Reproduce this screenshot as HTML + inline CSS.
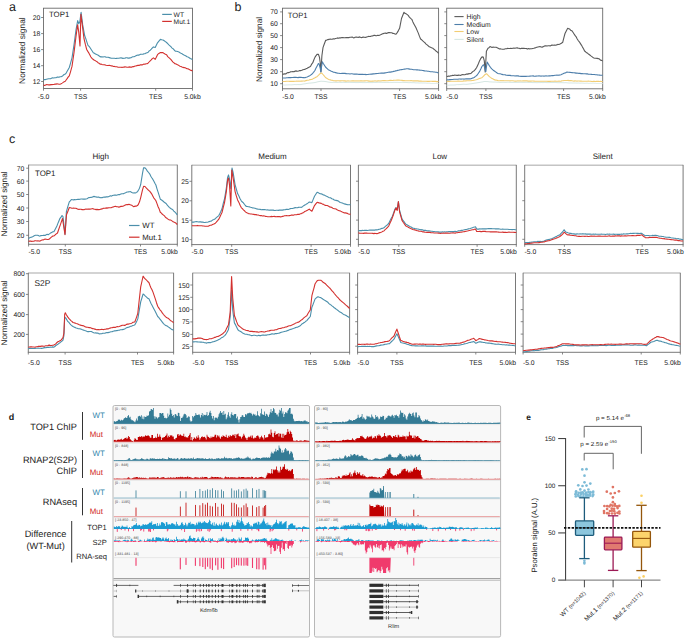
<!DOCTYPE html>
<html><head><meta charset="utf-8"><style>
html,body{margin:0;padding:0;background:#fff;}
svg{display:block;}
text{font-family:"Liberation Sans", sans-serif;text-rendering:geometricPrecision;}
</style></head><body>
<svg width="685" height="638" viewBox="0 0 685 638">
<rect x="0" y="0" width="685" height="638" fill="#fff"/>
<text x="9.0" y="10.8" font-size="12.5" text-anchor="start" fill="#222" font-weight="normal" >a</text>
<rect x="43.50" y="8.20" width="149.00" height="80.30" fill="none" stroke="#6a6a6a" stroke-width="0.9" />
<line x1="43.50" y1="88.50" x2="43.50" y2="90.70" stroke="#6a6a6a" stroke-width="0.8" />
<line x1="80.60" y1="88.50" x2="80.60" y2="90.70" stroke="#6a6a6a" stroke-width="0.8" />
<line x1="155.70" y1="88.50" x2="155.70" y2="90.70" stroke="#6a6a6a" stroke-width="0.8" />
<line x1="192.50" y1="88.50" x2="192.50" y2="90.70" stroke="#6a6a6a" stroke-width="0.8" />
<line x1="41.10" y1="17.50" x2="43.50" y2="17.50" stroke="#6a6a6a" stroke-width="0.8" />
<text x="40.3" y="20.0" font-size="6.8" text-anchor="end" fill="#222" font-weight="normal" >20</text>
<line x1="41.10" y1="33.60" x2="43.50" y2="33.60" stroke="#6a6a6a" stroke-width="0.8" />
<text x="40.3" y="36.1" font-size="6.8" text-anchor="end" fill="#222" font-weight="normal" >18</text>
<line x1="41.10" y1="49.60" x2="43.50" y2="49.60" stroke="#6a6a6a" stroke-width="0.8" />
<text x="40.3" y="52.1" font-size="6.8" text-anchor="end" fill="#222" font-weight="normal" >16</text>
<line x1="41.10" y1="65.70" x2="43.50" y2="65.70" stroke="#6a6a6a" stroke-width="0.8" />
<text x="40.3" y="68.2" font-size="6.8" text-anchor="end" fill="#222" font-weight="normal" >14</text>
<line x1="41.10" y1="81.50" x2="43.50" y2="81.50" stroke="#6a6a6a" stroke-width="0.8" />
<text x="40.3" y="84.0" font-size="6.8" text-anchor="end" fill="#222" font-weight="normal" >12</text>
<text x="0" y="0" font-size="8.4" text-anchor="middle" fill="#222" transform="translate(21.6,50.6) rotate(-90)" dominant-baseline="central">Normalized signal</text>
<text x="43.5" y="99.2" font-size="6.8" text-anchor="middle" fill="#222" font-weight="normal" >-5.0</text>
<text x="80.6" y="99.2" font-size="6.8" text-anchor="middle" fill="#222" font-weight="normal" >TSS</text>
<text x="155.7" y="99.2" font-size="6.8" text-anchor="middle" fill="#222" font-weight="normal" >TES</text>
<text x="192.5" y="99.2" font-size="6.8" text-anchor="middle" fill="#222" font-weight="normal" >5.0kb</text>
<text x="49.0" y="17.3" font-size="7.8" text-anchor="start" fill="#222" font-weight="normal" >TOP1</text>
<line x1="162.20" y1="14.40" x2="171.80" y2="14.40" stroke="#4b8fab" stroke-width="1.2" />
<text x="173.6" y="16.9" font-size="6.7" text-anchor="start" fill="#222" font-weight="normal" >WT</text>
<line x1="162.20" y1="21.40" x2="171.80" y2="21.40" stroke="#d3312f" stroke-width="1.2" />
<text x="173.6" y="23.9" font-size="6.7" text-anchor="start" fill="#222" font-weight="normal" >Mut.1</text>
<polyline points="43.5,79.7 44.5,79.6 45.5,79.6 46.5,79.2 47.5,79.0 48.5,78.8 49.5,78.8 50.5,78.8 51.5,78.2 52.5,77.8 53.7,78.0 54.8,77.7 56.0,77.7 57.0,77.1 58.0,77.1 59.0,77.2 60.0,76.8 61.1,76.7 62.1,76.3 63.2,75.3 64.2,74.5 65.3,74.1 66.3,72.8 67.3,71.0 68.3,69.2 69.3,67.5 70.7,62.6 72.0,57.8 73.0,51.3 74.0,44.8 75.0,37.3 76.0,29.9 77.7,20.6 78.8,23.7 79.8,21.7 81.1,12.2 82.7,24.9 83.7,30.3 84.7,35.8 85.8,38.6 86.9,42.1 88.0,45.4 89.1,46.4 90.1,47.8 91.2,49.5 92.2,51.0 93.3,52.7 94.4,53.2 95.5,54.0 96.7,54.6 97.8,55.0 98.9,55.7 100.0,56.6 101.0,56.9 102.0,56.9 103.1,57.0 104.1,56.7 105.1,56.8 106.1,57.3 107.2,57.3 108.2,57.3 109.2,57.6 110.2,57.9 111.3,58.2 112.3,58.2 113.3,58.3 114.4,58.3 115.5,58.5 116.6,58.4 117.7,58.3 118.8,58.3 119.9,58.0 121.0,57.8 122.0,58.1 123.0,58.4 124.0,58.3 125.0,58.1 126.0,57.8 127.0,57.8 128.0,58.1 129.0,58.1 130.0,57.9 131.0,57.8 132.0,57.1 133.0,56.7 134.0,56.7 135.0,56.3 136.0,55.8 137.0,55.3 138.0,55.1 139.1,55.1 140.1,54.4 141.1,54.3 142.1,54.2 143.1,54.1 144.1,53.8 145.2,53.6 146.2,53.1 147.2,52.7 148.2,52.3 149.2,50.9 150.3,50.2 151.3,49.2 152.4,47.9 153.4,46.9 155.2,47.5 156.3,45.2 157.5,42.8 158.9,41.1 160.4,39.4 161.7,39.8 163.0,40.0 164.2,40.7 165.4,41.6 166.6,42.5 167.7,43.6 168.9,44.8 170.0,45.8 171.1,46.9 172.1,48.1 173.2,48.8 174.2,50.0 175.3,51.1 176.5,51.2 177.7,51.5 178.8,51.9 180.0,52.8 181.0,53.3 182.0,53.7 183.0,54.6 184.0,55.1 185.0,55.5 186.0,56.0 187.1,56.7 188.2,57.1 189.2,57.7 190.3,58.5 191.4,59.0 192.5,59.6" fill="none" stroke="#4b8fab" stroke-width="1.1" stroke-linejoin="round"/>
<polyline points="43.5,85.0 44.6,85.4 45.6,84.9 46.7,84.5 47.8,84.8 48.8,84.9 49.9,84.9 50.9,84.6 52.0,84.6 53.0,84.5 54.0,84.5 55.0,84.1 56.0,84.1 57.0,83.9 58.0,84.0 59.0,84.2 60.0,84.2 61.1,83.7 62.1,83.1 63.2,82.4 64.2,81.7 65.3,81.2 66.3,79.8 67.3,78.4 68.3,76.9 69.3,75.8 70.7,71.1 72.0,66.4 73.0,59.5 74.0,52.6 75.0,44.6 76.0,36.5 77.6,24.7 78.7,31.9 80.0,45.9 80.9,14.2 82.0,22.5 83.0,30.6 84.0,38.7 85.3,44.2 86.7,49.5 87.8,51.4 88.8,52.9 89.9,55.0 90.9,57.0 92.0,58.4 93.0,59.2 94.0,60.0 95.0,60.5 96.0,61.1 97.0,61.7 98.0,62.7 99.0,63.2 100.0,64.1 101.0,64.0 102.0,64.4 103.1,64.8 104.1,64.8 105.1,64.9 106.1,65.3 107.2,65.5 108.2,65.5 109.2,65.4 110.2,65.5 111.3,65.9 112.3,65.9 113.3,66.5 114.4,66.4 115.5,66.8 116.6,66.7 117.7,67.1 118.8,67.3 119.9,67.3 121.0,67.3 122.0,67.4 123.0,67.3 124.0,67.1 125.0,66.9 126.0,67.0 127.0,67.3 128.0,67.3 129.0,66.9 130.0,67.1 131.0,67.1 132.0,67.1 133.0,66.6 134.0,66.6 135.0,66.0 136.0,66.0 137.0,65.6 138.0,65.3 139.0,65.4 140.0,64.9 141.0,64.8 142.0,64.9 143.0,64.4 144.0,64.0 145.0,64.2 146.0,63.8 147.0,63.8 148.0,63.2 149.1,62.0 150.2,60.8 151.2,59.9 152.3,58.6 153.4,57.9 155.2,59.3 156.3,57.3 157.5,54.7 158.9,53.4 160.4,52.6 161.7,52.6 163.0,52.6 164.2,53.6 165.4,54.3 166.6,54.8 167.7,56.6 168.9,57.6 170.0,58.6 171.0,59.6 172.0,60.9 173.0,62.1 174.0,62.8 175.0,63.8 176.0,63.9 177.0,64.4 178.0,65.1 179.0,65.6 180.0,66.2 181.0,66.5 182.0,67.0 183.1,67.4 184.1,67.6 185.2,67.8 186.2,68.4 187.2,68.7 188.3,68.9 189.3,69.4 190.4,70.2 191.4,70.4 192.5,71.0" fill="none" stroke="#d3312f" stroke-width="1.1" stroke-linejoin="round"/>
<text x="234.6" y="10.9" font-size="12.5" text-anchor="start" fill="#222" font-weight="normal" >b</text>
<rect x="282.50" y="8.20" width="156.10" height="80.60" fill="none" stroke="#6a6a6a" stroke-width="0.9" />
<line x1="282.50" y1="88.80" x2="282.50" y2="91.00" stroke="#6a6a6a" stroke-width="0.8" />
<line x1="321.00" y1="88.80" x2="321.00" y2="91.00" stroke="#6a6a6a" stroke-width="0.8" />
<line x1="399.60" y1="88.80" x2="399.60" y2="91.00" stroke="#6a6a6a" stroke-width="0.8" />
<line x1="438.60" y1="88.80" x2="438.60" y2="91.00" stroke="#6a6a6a" stroke-width="0.8" />
<line x1="280.10" y1="11.90" x2="282.50" y2="11.90" stroke="#6a6a6a" stroke-width="0.8" />
<text x="277.9" y="14.4" font-size="6.8" text-anchor="end" fill="#222" font-weight="normal" >70</text>
<line x1="280.10" y1="23.70" x2="282.50" y2="23.70" stroke="#6a6a6a" stroke-width="0.8" />
<text x="277.9" y="26.2" font-size="6.8" text-anchor="end" fill="#222" font-weight="normal" >60</text>
<line x1="280.10" y1="35.60" x2="282.50" y2="35.60" stroke="#6a6a6a" stroke-width="0.8" />
<text x="277.9" y="38.1" font-size="6.8" text-anchor="end" fill="#222" font-weight="normal" >50</text>
<line x1="280.10" y1="47.60" x2="282.50" y2="47.60" stroke="#6a6a6a" stroke-width="0.8" />
<text x="277.9" y="50.1" font-size="6.8" text-anchor="end" fill="#222" font-weight="normal" >40</text>
<line x1="280.10" y1="59.60" x2="282.50" y2="59.60" stroke="#6a6a6a" stroke-width="0.8" />
<text x="277.9" y="62.1" font-size="6.8" text-anchor="end" fill="#222" font-weight="normal" >30</text>
<line x1="280.10" y1="71.70" x2="282.50" y2="71.70" stroke="#6a6a6a" stroke-width="0.8" />
<text x="277.9" y="74.2" font-size="6.8" text-anchor="end" fill="#222" font-weight="normal" >20</text>
<line x1="280.10" y1="83.70" x2="282.50" y2="83.70" stroke="#6a6a6a" stroke-width="0.8" />
<text x="277.9" y="86.2" font-size="6.8" text-anchor="end" fill="#222" font-weight="normal" >10</text>
<text x="282.2" y="99.4" font-size="6.8" text-anchor="start" fill="#222" font-weight="normal" >-5.0</text>
<text x="441.6" y="99.4" font-size="6.8" text-anchor="end" fill="#222" font-weight="normal" >5.0kb</text>
<text x="321.0" y="99.4" font-size="6.8" text-anchor="middle" fill="#222" font-weight="normal" >TSS</text>
<text x="399.6" y="99.4" font-size="6.8" text-anchor="middle" fill="#222" font-weight="normal" >TES</text>
<rect x="446.70" y="8.20" width="156.00" height="80.60" fill="none" stroke="#6a6a6a" stroke-width="0.9" />
<line x1="446.70" y1="88.80" x2="446.70" y2="91.00" stroke="#6a6a6a" stroke-width="0.8" />
<line x1="485.90" y1="88.80" x2="485.90" y2="91.00" stroke="#6a6a6a" stroke-width="0.8" />
<line x1="563.60" y1="88.80" x2="563.60" y2="91.00" stroke="#6a6a6a" stroke-width="0.8" />
<line x1="602.70" y1="88.80" x2="602.70" y2="91.00" stroke="#6a6a6a" stroke-width="0.8" />
<line x1="444.30" y1="11.90" x2="446.70" y2="11.90" stroke="#6a6a6a" stroke-width="0.8" />
<line x1="444.30" y1="23.70" x2="446.70" y2="23.70" stroke="#6a6a6a" stroke-width="0.8" />
<line x1="444.30" y1="35.60" x2="446.70" y2="35.60" stroke="#6a6a6a" stroke-width="0.8" />
<line x1="444.30" y1="47.60" x2="446.70" y2="47.60" stroke="#6a6a6a" stroke-width="0.8" />
<line x1="444.30" y1="59.60" x2="446.70" y2="59.60" stroke="#6a6a6a" stroke-width="0.8" />
<line x1="444.30" y1="71.70" x2="446.70" y2="71.70" stroke="#6a6a6a" stroke-width="0.8" />
<line x1="444.30" y1="83.70" x2="446.70" y2="83.70" stroke="#6a6a6a" stroke-width="0.8" />
<text x="446.4" y="99.4" font-size="6.8" text-anchor="start" fill="#222" font-weight="normal" >-5.0</text>
<text x="605.7" y="99.4" font-size="6.8" text-anchor="end" fill="#222" font-weight="normal" >5.0kb</text>
<text x="485.9" y="99.4" font-size="6.8" text-anchor="middle" fill="#222" font-weight="normal" >TSS</text>
<text x="563.6" y="99.4" font-size="6.8" text-anchor="middle" fill="#222" font-weight="normal" >TES</text>
<text x="0" y="0" font-size="8.2" text-anchor="middle" fill="#222" transform="translate(259.5,49.5) rotate(-90)" dominant-baseline="central">Normalized signal</text>
<text x="287.8" y="18.0" font-size="7.6" text-anchor="start" fill="#222" font-weight="normal" >TOP1</text>
<polyline points="282.5,74.5 283.5,74.1 284.6,73.9 285.6,74.0 286.6,73.2 287.6,72.6 288.6,72.6 289.7,72.3 290.7,71.7 291.8,71.8 293.0,71.6 294.1,71.7 295.2,71.1 296.3,70.9 297.5,71.3 298.6,71.0 299.7,70.5 300.7,70.6 301.8,70.3 302.9,69.7 303.9,69.5 305.0,69.4 306.1,68.6 307.2,68.3 308.4,67.5 309.5,67.0 310.6,66.3 311.7,64.1 312.8,62.7 313.9,59.7 314.9,57.4 315.9,55.8 317.0,54.4 318.4,54.3 319.5,57.4 320.2,62.5 320.9,71.8 321.9,55.7 323.0,47.6 324.1,44.5 325.7,40.3 326.8,40.1 327.9,39.6 329.0,39.4 330.1,39.0 331.2,39.3 332.2,39.2 333.3,38.7 334.4,39.0 335.4,38.5 336.5,38.3 337.6,37.9 338.6,38.2 339.7,37.9 340.7,37.9 341.8,37.5 342.9,37.6 343.9,37.8 345.0,37.7 346.0,37.6 347.0,37.6 348.0,37.5 349.1,37.6 350.1,37.2 351.1,37.3 352.1,37.1 353.1,37.6 354.1,37.9 355.1,37.3 356.2,37.0 357.2,37.3 358.2,37.4 359.2,36.9 360.2,37.2 361.2,37.6 362.2,37.4 363.3,37.1 364.3,37.2 365.3,37.5 366.3,37.1 367.4,36.8 368.4,36.4 369.5,36.5 370.5,36.4 371.6,36.0 372.6,35.9 373.7,35.4 374.7,35.3 375.8,35.8 376.8,35.6 377.9,35.2 378.9,35.5 380.0,35.1 381.1,34.6 382.2,34.0 383.2,33.6 384.3,33.3 385.4,33.1 386.5,33.4 387.6,32.9 388.6,32.6 389.7,32.5 390.8,32.7 391.8,32.8 392.9,33.4 393.9,33.5 395.0,33.9 396.0,34.3 397.2,32.6 398.4,30.6 399.6,28.3 401.5,18.5 402.8,15.3 404.0,12.3 405.0,13.3 406.0,13.7 407.0,14.4 408.2,15.4 409.4,17.1 410.6,18.3 411.8,19.3 412.9,21.9 413.9,23.9 414.9,25.8 416.0,27.8 417.1,30.4 418.3,33.1 419.5,36.4 420.6,39.0 421.7,39.8 422.8,40.9 423.9,41.9 425.0,42.8 426.1,44.1 427.1,44.9 428.2,45.8 429.3,46.8 430.5,47.2 431.6,47.7 432.8,48.2 434.0,49.3 435.1,50.1 436.3,51.3 437.5,52.1 438.6,53.4" fill="none" stroke="#5a5a5a" stroke-width="1.1" stroke-linejoin="round"/>
<polyline points="282.5,78.0 283.5,78.0 284.6,78.0 285.6,78.0 286.7,77.8 287.7,77.7 288.8,77.6 289.8,77.5 290.8,77.6 291.9,77.5 292.9,77.5 294.0,77.4 295.0,77.4 296.0,77.4 297.0,77.5 298.0,77.6 299.0,77.4 300.0,77.4 301.0,77.3 302.0,77.5 303.0,77.6 304.0,77.6 305.0,77.7 306.1,77.3 307.1,77.0 308.1,76.6 309.2,76.1 310.6,75.1 312.1,74.0 313.5,72.3 314.9,70.5 315.9,68.3 317.0,66.2 318.4,63.5 319.1,63.9 320.2,68.1 320.9,72.2 321.6,66.3 322.3,61.8 323.3,63.5 324.4,65.2 325.5,67.0 326.9,68.3 328.3,69.7 329.5,70.3 330.8,70.9 332.0,71.4 333.2,72.1 334.3,72.3 335.5,72.6 336.6,72.9 337.7,73.1 338.9,73.2 340.0,73.5 341.0,73.5 342.0,73.4 343.0,73.4 344.0,73.4 345.0,73.4 346.0,73.6 347.0,73.8 348.0,73.7 349.0,73.8 350.0,74.0 351.0,73.8 352.0,73.8 353.0,74.0 354.0,74.1 355.0,74.1 356.0,74.0 357.0,74.1 358.0,74.2 359.0,74.4 360.0,74.4 361.0,74.3 362.0,74.4 363.0,74.4 364.0,74.5 365.0,74.4 366.0,74.6 367.0,74.5 368.0,74.5 369.0,74.3 370.0,74.2 371.0,74.1 372.0,74.1 373.0,73.9 374.0,73.9 375.0,73.8 376.0,73.6 377.0,73.5 378.0,73.5 379.0,73.3 380.0,73.2 381.0,73.1 382.0,73.1 383.0,73.1 384.0,73.1 385.0,72.9 386.1,72.7 387.2,72.5 388.3,72.3 389.3,72.1 390.4,72.1 391.5,71.9 392.6,71.7 393.6,71.4 394.6,71.2 395.6,70.9 396.6,70.7 397.6,70.4 398.6,70.3 399.6,69.9 400.6,69.7 401.6,69.6 402.6,69.5 403.6,69.3 404.6,69.1 405.6,69.0 406.6,68.7 407.6,68.7 408.6,68.9 409.6,69.1 410.6,69.3 411.6,69.3 412.6,69.5 413.6,69.7 414.6,69.7 415.6,69.8 416.6,69.9 417.6,69.9 418.6,70.0 419.6,70.1 420.6,70.3 421.6,70.3 422.6,70.5 423.6,70.6 424.6,70.9 425.6,71.0 426.6,71.0 427.6,71.3 428.6,71.3 429.6,71.5 430.6,71.7 431.6,71.7 432.6,71.8 433.6,72.0 434.6,72.0 435.6,72.3 436.6,72.3 437.6,72.6 438.6,72.7" fill="none" stroke="#4d7eaa" stroke-width="1.1" stroke-linejoin="round"/>
<polyline points="282.5,81.5 283.5,81.5 284.6,81.5 285.6,81.4 286.6,81.2 287.6,81.3 288.7,81.2 289.7,81.4 290.7,81.4 291.8,81.4 292.8,81.4 293.8,81.4 294.9,81.2 295.9,81.2 296.9,81.1 297.9,81.3 299.0,81.1 300.0,81.2 301.0,81.1 302.0,81.1 303.0,81.0 304.0,81.0 305.0,81.1 306.0,80.6 307.0,80.3 308.0,80.2 309.1,80.0 310.1,79.6 311.1,79.5 312.1,79.4 313.3,78.6 314.6,78.0 315.8,77.3 317.0,76.7 318.4,75.3 319.8,73.8 321.6,72.9 323.0,74.5 324.2,75.9 325.5,77.5 326.7,78.2 327.8,78.9 329.0,79.6 330.1,79.8 331.1,80.1 332.1,80.2 333.2,80.6 334.3,80.8 335.3,80.9 336.4,80.9 337.5,80.8 338.6,80.8 339.6,80.9 340.7,80.9 341.8,80.8 342.9,80.8 343.9,80.9 345.0,80.9 346.0,81.1 347.0,81.0 348.0,80.9 349.0,81.0 350.0,81.0 351.0,81.0 352.0,80.9 353.0,80.9 354.0,80.9 355.0,81.0 356.0,80.9 357.0,81.0 358.0,80.9 359.0,81.0 360.0,80.9 361.0,80.8 362.0,80.9 363.0,81.0 364.0,80.8 365.0,80.9 366.0,80.8 367.0,80.8 368.0,80.9 369.0,81.1 370.0,81.0 371.0,81.2 372.0,81.0 373.0,81.1 374.0,81.0 375.0,80.9 376.0,81.0 377.0,81.1 378.0,80.9 379.0,80.9 380.0,81.0 381.0,80.9 382.0,80.8 383.0,80.6 384.0,80.5 385.0,80.6 386.0,80.8 387.0,80.8 388.0,80.7 389.0,80.5 390.0,80.4 391.0,80.4 392.0,80.5 393.0,80.4 394.0,80.2 395.0,80.2 396.0,80.2 397.0,80.1 398.0,80.0 399.0,80.1 400.0,80.3 401.0,80.3 402.0,80.4 403.0,80.6 404.0,80.5 405.0,80.7 406.0,80.7 407.0,80.7 408.0,80.8 409.0,80.7 410.0,80.7 411.0,80.6 412.0,80.8 413.0,80.9 414.0,80.8 415.0,80.9 416.0,80.9 417.0,80.8 418.0,80.9 419.0,81.1 420.0,81.1 421.0,81.1 422.1,81.2 423.1,81.3 424.1,81.3 425.2,81.2 426.2,81.3 427.2,81.4 428.3,81.4 429.3,81.4 430.3,81.3 431.4,81.3 432.4,81.4 433.4,81.4 434.5,81.3 435.5,81.4 436.5,81.6 437.6,81.6 438.6,81.5" fill="none" stroke="#f2cd74" stroke-width="1.1" stroke-linejoin="round"/>
<polyline points="282.5,85.0 283.5,85.0 284.6,85.0 285.6,85.0 286.6,84.9 287.6,84.9 288.7,84.8 289.7,84.8 290.7,84.8 291.8,84.8 292.8,84.7 293.8,84.6 294.9,84.5 295.9,84.6 296.9,84.6 297.9,84.5 299.0,84.6 300.0,84.6 301.0,84.5 302.0,84.3 303.0,84.1 304.0,83.9 305.0,83.8 306.0,83.6 307.0,83.4 308.0,83.3 309.0,83.1 310.0,83.1 311.0,83.0 312.0,82.9 313.0,82.8 314.0,82.7 315.0,82.5 316.0,82.3 317.0,82.0 318.0,81.7 319.0,81.6 320.0,81.4 321.0,81.2 322.0,81.3 323.0,81.3 324.0,81.4 325.0,81.5 326.0,81.6 327.0,81.8 328.0,82.0 329.0,82.2 330.0,82.3 331.0,82.4 332.0,82.4 333.0,82.3 334.0,82.3 335.0,82.4 336.0,82.4 337.0,82.5 338.0,82.4 339.0,82.3 340.0,82.4 341.0,82.5 342.0,82.4 343.0,82.3 344.0,82.4 345.0,82.5 346.0,82.5 347.0,82.4 348.0,82.4 349.0,82.4 350.0,82.3 351.0,82.5 352.0,82.4 353.0,82.5 354.0,82.5 355.0,82.5 356.0,82.6 357.0,82.5 358.0,82.6 359.0,82.5 360.0,82.5 361.0,82.5 362.0,82.5 363.0,82.6 364.0,82.6 365.0,82.6 366.0,82.6 367.0,82.5 368.0,82.5 369.0,82.6 370.0,82.6 371.0,82.5 372.0,82.6 373.0,82.5 374.0,82.4 375.0,82.5 376.0,82.5 377.0,82.4 378.0,82.3 379.0,82.3 380.0,82.4 381.0,82.3 382.0,82.4 383.0,82.4 384.0,82.4 385.0,82.5 386.0,82.4 387.0,82.4 388.0,82.5 389.0,82.4 390.0,82.3 391.0,82.4 392.0,82.4 393.0,82.4 394.0,82.3 395.0,82.3 396.0,82.4 397.0,82.3 398.0,82.4 399.0,82.4 400.0,82.4 401.0,82.4 402.0,82.3 403.0,82.3 404.0,82.5 405.0,82.4 406.0,82.5 407.0,82.5 408.0,82.6 409.0,82.7 410.0,82.6 411.0,82.6 412.0,82.7 413.0,82.7 414.0,82.7 415.0,82.8 416.0,82.9 417.0,82.9 418.0,82.9 419.0,83.0 420.0,83.0 421.0,82.9 422.1,83.0 423.1,83.0 424.1,83.0 425.2,83.0 426.2,83.1 427.2,83.2 428.3,83.2 429.3,83.2 430.3,83.4 431.4,83.5 432.4,83.5 433.4,83.5 434.5,83.5 435.5,83.5 436.5,83.4 437.6,83.4 438.6,83.6" fill="none" stroke="#d6e7e3" stroke-width="1.0" stroke-linejoin="round"/>
<polyline points="446.7,76.2 447.7,76.5 448.7,76.0 449.7,76.3 450.7,75.8 451.7,75.8 452.7,75.3 453.7,75.5 454.8,75.1 455.8,75.3 456.8,75.4 457.8,75.4 458.8,75.1 459.8,75.2 460.8,75.4 461.8,74.7 462.8,74.6 463.8,74.8 464.9,74.7 465.9,74.3 466.9,73.9 467.9,74.2 469.0,73.5 470.0,73.7 471.1,73.3 472.1,72.2 473.1,71.4 474.2,70.7 475.4,69.4 476.5,67.8 477.5,65.7 478.5,63.5 479.5,60.9 480.5,58.9 482.0,56.9 483.3,57.1 484.3,60.9 485.2,72.0 486.4,51.2 488.0,48.2 489.0,47.7 490.0,46.6 491.0,47.0 492.1,47.5 493.1,47.1 494.1,47.3 495.1,47.3 496.2,47.3 497.2,47.7 498.2,48.2 499.2,48.9 500.3,48.7 501.3,49.0 502.4,49.3 503.4,49.3 504.5,49.1 505.5,48.7 506.6,48.7 507.6,48.4 508.7,48.5 509.7,48.5 510.8,48.3 511.8,48.5 512.9,48.2 513.9,48.1 515.0,48.3 516.0,48.0 517.1,47.9 518.1,48.1 519.2,48.2 520.2,48.7 521.3,48.4 522.4,48.4 523.4,48.2 524.5,48.4 525.5,48.5 526.6,48.6 527.6,49.1 528.6,48.5 529.7,48.9 530.7,48.8 531.7,48.8 532.8,48.5 533.8,48.3 534.8,47.9 535.9,47.6 536.9,47.2 537.9,47.0 539.0,46.8 540.0,46.6 541.0,47.0 542.0,47.1 543.0,46.9 544.0,46.2 545.0,45.9 546.0,45.9 547.1,46.0 548.1,45.8 549.1,45.8 550.1,45.9 551.1,45.4 552.1,45.1 553.2,45.3 554.4,45.0 555.5,45.2 556.6,44.9 557.7,44.4 558.9,44.5 560.0,44.1 561.4,43.3 562.7,42.3 563.9,37.7 565.0,33.5 566.4,30.7 567.7,28.3 568.7,28.7 569.7,29.1 570.8,30.4 571.8,30.7 572.8,32.0 573.9,33.7 575.0,35.4 576.0,36.6 577.1,38.7 578.2,40.5 579.3,41.8 580.3,43.4 581.4,45.1 582.5,47.1 583.5,48.7 584.6,51.0 585.6,51.8 586.7,52.8 587.7,53.3 588.8,54.3 589.8,55.0 590.9,55.9 591.9,56.6 592.9,57.4 594.0,57.9 595.0,58.3 596.0,58.2 597.1,58.4 598.2,58.6 599.4,59.0 600.5,60.1 601.6,60.4 602.7,61.1" fill="none" stroke="#5a5a5a" stroke-width="1.1" stroke-linejoin="round"/>
<polyline points="446.7,79.7 447.7,79.9 448.7,79.9 449.8,79.6 450.8,79.6 451.8,79.5 452.8,79.5 453.9,79.3 454.9,79.2 455.9,79.2 456.9,79.2 458.0,79.2 459.0,79.0 460.0,79.0 461.0,79.1 462.0,79.0 463.0,79.0 464.0,79.1 465.0,79.0 466.0,78.8 467.0,78.9 468.0,78.9 469.0,78.9 470.0,78.9 471.0,78.7 472.1,78.2 473.1,77.9 474.1,77.5 475.6,76.4 477.0,75.3 478.4,73.2 479.8,71.1 480.9,68.8 481.9,66.5 483.3,64.8 484.0,65.3 485.1,69.5 485.8,71.7 486.5,66.4 487.2,62.1 488.2,63.8 489.3,65.6 490.4,67.3 491.8,68.8 493.2,70.2 494.4,71.0 495.6,71.9 496.8,72.8 498.0,73.5 499.0,73.7 500.0,73.8 501.0,74.0 502.0,74.4 503.0,74.6 504.0,74.7 505.0,74.8 506.0,75.1 507.0,75.2 508.0,75.4 509.0,75.3 510.0,75.4 511.0,75.6 512.0,75.7 513.0,75.8 514.0,75.7 515.0,76.0 516.0,75.8 517.0,75.9 518.0,75.9 519.0,76.1 520.0,76.2 521.0,76.4 522.0,76.4 523.0,76.4 524.0,76.3 525.0,76.4 526.0,76.4 527.0,76.2 528.0,76.3 529.0,76.2 530.0,76.1 531.0,76.0 532.0,76.0 533.0,75.9 534.0,76.1 535.0,76.2 536.0,76.1 537.0,76.0 538.0,76.0 539.0,75.9 540.0,76.0 541.0,76.1 542.0,76.0 543.0,76.0 544.0,76.1 545.0,76.0 546.0,75.9 547.0,76.0 548.0,76.0 549.0,75.9 550.0,75.9 551.0,75.7 552.0,75.6 553.0,75.6 554.0,75.5 555.0,75.3 556.0,75.2 557.0,75.1 558.0,75.2 559.0,75.1 560.0,75.0 561.0,74.7 562.0,74.1 563.0,73.8 564.0,73.3 565.0,72.9 566.0,72.6 567.0,72.1 568.0,72.3 569.0,72.3 570.0,72.4 571.0,72.5 572.0,72.6 573.0,72.7 574.0,72.8 575.0,72.9 576.0,73.1 577.0,73.1 578.0,73.2 579.0,73.4 580.0,73.4 581.0,73.6 582.1,73.6 583.1,73.8 584.1,73.7 585.2,73.8 586.2,73.9 587.2,73.9 588.3,74.1 589.3,74.2 590.3,74.3 591.4,74.4 592.4,74.5 593.4,74.5 594.4,74.5 595.5,74.8 596.5,74.7 597.5,74.9 598.6,75.0 599.6,75.1 600.6,75.2 601.7,75.3 602.7,75.2" fill="none" stroke="#4d7eaa" stroke-width="1.1" stroke-linejoin="round"/>
<polyline points="446.7,81.5 447.7,81.4 448.7,81.3 449.7,81.5 450.8,81.3 451.8,81.2 452.8,81.2 453.8,81.2 454.8,81.3 455.8,81.2 456.8,81.3 457.8,81.1 458.9,81.1 459.9,81.2 460.9,81.2 461.9,81.2 462.9,81.1 463.9,80.9 464.9,81.0 465.9,80.9 467.0,80.8 468.0,80.7 469.0,80.8 470.0,80.8 471.0,80.7 472.0,80.5 473.0,80.4 474.0,80.2 475.0,80.0 476.0,79.8 477.0,79.5 478.2,79.1 479.4,78.5 480.7,78.1 481.9,77.7 483.3,76.3 484.7,74.8 486.5,73.7 487.9,75.1 489.1,76.3 490.4,77.4 491.6,78.2 492.8,78.7 494.0,79.6 495.0,79.9 496.0,80.1 497.0,80.3 498.0,80.6 499.0,80.8 500.0,80.7 501.0,80.6 502.0,80.7 503.0,80.6 504.0,80.7 505.0,80.7 506.0,80.7 507.0,80.8 508.0,80.8 509.0,80.7 510.0,80.9 511.0,80.8 512.0,80.8 513.0,80.8 514.0,81.0 515.0,81.1 516.0,81.1 517.0,81.0 518.0,80.9 519.0,81.0 520.0,80.9 521.0,81.0 522.0,81.0 523.0,80.9 524.0,80.9 525.0,80.9 526.0,80.8 527.0,80.9 528.0,81.1 529.0,81.1 530.0,81.0 531.0,81.1 532.0,81.0 533.0,81.0 534.0,81.1 535.0,81.3 536.0,81.2 537.0,81.3 538.0,81.2 539.0,81.2 540.0,81.2 541.0,81.3 542.0,81.3 543.0,81.3 544.0,81.3 545.0,81.3 546.0,81.2 547.0,81.3 548.0,81.4 549.0,81.3 550.0,81.4 551.0,81.2 552.0,81.2 553.0,81.3 554.0,81.2 555.0,81.1 556.0,81.3 557.0,81.3 558.0,81.2 559.0,81.1 560.0,81.3 561.0,81.1 562.0,80.8 563.0,80.7 564.0,80.5 565.0,80.5 566.0,80.5 567.0,80.5 568.0,80.4 569.0,80.6 570.0,80.6 571.0,80.6 572.0,80.8 573.0,81.0 574.0,81.1 575.0,80.9 576.0,81.0 577.0,81.1 578.0,81.0 579.0,81.0 580.0,81.1 581.0,81.1 582.1,81.3 583.1,81.3 584.1,81.3 585.2,81.2 586.2,81.2 587.2,81.2 588.3,81.1 589.3,81.3 590.3,81.2 591.4,81.4 592.4,81.5 593.4,81.3 594.4,81.4 595.5,81.5 596.5,81.4 597.5,81.4 598.6,81.3 599.6,81.5 600.6,81.4 601.7,81.5 602.7,81.6" fill="none" stroke="#f2cd74" stroke-width="1.1" stroke-linejoin="round"/>
<polyline points="446.7,85.3 447.7,85.2 448.7,85.2 449.7,85.1 450.8,85.0 451.8,85.0 452.8,85.0 453.8,85.0 454.8,84.9 455.8,84.8 456.8,84.6 457.8,84.6 458.9,84.6 459.9,84.5 460.9,84.5 461.9,84.4 462.9,84.3 463.9,84.2 464.9,84.3 465.9,84.3 467.0,84.3 468.0,84.2 469.0,84.0 470.0,83.9 471.0,83.8 472.0,83.6 473.0,83.5 474.0,83.3 475.0,83.1 476.0,83.0 477.0,82.8 478.0,82.7 479.0,82.5 480.0,82.4 481.0,82.1 482.0,82.0 483.0,81.8 484.0,81.5 485.0,81.5 486.0,81.5 487.0,81.6 488.0,81.6 489.0,81.8 490.0,81.9 491.0,81.9 492.0,82.0 493.0,82.0 494.0,82.1 495.0,82.0 496.0,82.1 497.0,82.2 498.0,82.2 499.0,82.3 500.0,82.4 501.0,82.4 502.0,82.3 503.0,82.3 504.0,82.3 505.0,82.4 506.0,82.4 507.0,82.3 508.0,82.2 509.0,82.3 510.0,82.4 511.0,82.4 512.0,82.4 513.0,82.4 514.0,82.4 515.0,82.4 516.0,82.4 517.0,82.4 518.0,82.4 519.0,82.4 520.0,82.3 521.0,82.3 522.0,82.4 523.0,82.4 524.0,82.4 525.0,82.4 526.0,82.3 527.0,82.3 528.0,82.4 529.0,82.5 530.0,82.4 531.0,82.5 532.0,82.5 533.0,82.6 534.0,82.6 535.0,82.6 536.0,82.6 537.0,82.7 538.0,82.6 539.0,82.6 540.0,82.6 541.0,82.5 542.0,82.5 543.0,82.6 544.0,82.5 545.0,82.4 546.0,82.5 547.0,82.6 548.0,82.6 549.0,82.6 550.0,82.5 551.0,82.5 552.0,82.5 553.0,82.5 554.0,82.5 555.0,82.4 556.0,82.5 557.0,82.6 558.0,82.7 559.0,82.7 560.0,82.7 561.0,82.6 562.0,82.7 563.0,82.7 564.0,82.8 565.0,82.7 566.0,82.7 567.0,82.8 568.0,82.9 569.0,83.0 570.0,83.0 571.0,82.9 572.0,83.0 573.0,83.0 574.0,83.0 575.0,83.0 576.0,83.0 577.1,83.1 578.1,83.0 579.1,83.1 580.1,83.2 581.2,83.1 582.2,83.1 583.2,83.2 584.2,83.3 585.3,83.3 586.3,83.2 587.3,83.2 588.3,83.4 589.4,83.4 590.4,83.3 591.4,83.3 592.4,83.2 593.5,83.2 594.5,83.3 595.5,83.3 596.5,83.5 597.6,83.5 598.6,83.5 599.6,83.5 600.6,83.5 601.7,83.5 602.7,83.6" fill="none" stroke="#d6e7e3" stroke-width="1.0" stroke-linejoin="round"/>
<line x1="454.40" y1="16.60" x2="463.60" y2="16.60" stroke="#5a5a5a" stroke-width="1.1" />
<text x="466.6" y="19.1" font-size="6.8" text-anchor="start" fill="#222" font-weight="normal" >High</text>
<line x1="454.40" y1="24.50" x2="463.60" y2="24.50" stroke="#4d7eaa" stroke-width="1.1" />
<text x="466.6" y="27.0" font-size="6.8" text-anchor="start" fill="#222" font-weight="normal" >Medium</text>
<line x1="454.40" y1="31.50" x2="463.60" y2="31.50" stroke="#f2cd74" stroke-width="1.1" />
<text x="466.6" y="34.0" font-size="6.8" text-anchor="start" fill="#222" font-weight="normal" >Low</text>
<line x1="454.40" y1="39.40" x2="463.60" y2="39.40" stroke="#d6e7e3" stroke-width="1.1" />
<text x="466.6" y="41.9" font-size="6.8" text-anchor="start" fill="#222" font-weight="normal" >Silent</text>
<text x="9.0" y="143.2" font-size="12.5" text-anchor="start" fill="#222" font-weight="normal" >c</text>
<text x="100.7" y="159.0" font-size="8.0" text-anchor="middle" fill="#222" font-weight="normal" >High</text>
<text x="272.5" y="159.0" font-size="8.0" text-anchor="middle" fill="#222" font-weight="normal" >Medium</text>
<text x="439.8" y="159.0" font-size="8.0" text-anchor="middle" fill="#222" font-weight="normal" >Low</text>
<text x="602.7" y="159.0" font-size="8.0" text-anchor="middle" fill="#222" font-weight="normal" >Silent</text>
<text x="0" y="0" font-size="8.2" text-anchor="middle" fill="#222" transform="translate(4.6,204.0) rotate(-90)" dominant-baseline="central">Normalized signal</text>
<text x="0" y="0" font-size="8.2" text-anchor="middle" fill="#222" transform="translate(4.6,313.0) rotate(-90)" dominant-baseline="central">Normalized signal</text>
<line x1="28.60" y1="165.00" x2="177.30" y2="165.00" stroke="#c4c4c4" stroke-width="1.5" />
<line x1="28.60" y1="164.70" x2="28.60" y2="244.30" stroke="#6a6a6a" stroke-width="0.9" />
<line x1="177.30" y1="164.70" x2="177.30" y2="244.30" stroke="#6a6a6a" stroke-width="0.9" />
<line x1="28.15" y1="244.30" x2="177.75" y2="244.30" stroke="#6a6a6a" stroke-width="0.9" />
<line x1="28.60" y1="244.30" x2="28.60" y2="246.50" stroke="#6a6a6a" stroke-width="0.8" />
<line x1="65.30" y1="244.30" x2="65.30" y2="246.50" stroke="#6a6a6a" stroke-width="0.8" />
<line x1="140.50" y1="244.30" x2="140.50" y2="246.50" stroke="#6a6a6a" stroke-width="0.8" />
<line x1="177.30" y1="244.30" x2="177.30" y2="246.50" stroke="#6a6a6a" stroke-width="0.8" />
<text x="28.4" y="253.6" font-size="6.8" text-anchor="start" fill="#222" font-weight="normal" >-5.0</text>
<text x="177.9" y="253.6" font-size="6.8" text-anchor="end" fill="#222" font-weight="normal" >5.0kb</text>
<text x="65.3" y="253.6" font-size="6.8" text-anchor="middle" fill="#222" font-weight="normal" >TSS</text>
<text x="140.5" y="253.6" font-size="6.8" text-anchor="middle" fill="#222" font-weight="normal" >TES</text>
<line x1="191.80" y1="165.20" x2="350.50" y2="165.20" stroke="#c4c4c4" stroke-width="1.5" />
<line x1="191.80" y1="164.90" x2="191.80" y2="244.60" stroke="#6a6a6a" stroke-width="0.9" />
<line x1="350.50" y1="164.90" x2="350.50" y2="244.60" stroke="#6a6a6a" stroke-width="0.9" />
<line x1="191.35" y1="244.60" x2="350.95" y2="244.60" stroke="#6a6a6a" stroke-width="0.9" />
<line x1="191.80" y1="244.60" x2="191.80" y2="246.80" stroke="#6a6a6a" stroke-width="0.8" />
<line x1="231.70" y1="244.60" x2="231.70" y2="246.80" stroke="#6a6a6a" stroke-width="0.8" />
<line x1="311.10" y1="244.60" x2="311.10" y2="246.80" stroke="#6a6a6a" stroke-width="0.8" />
<line x1="350.50" y1="244.60" x2="350.50" y2="246.80" stroke="#6a6a6a" stroke-width="0.8" />
<text x="191.6" y="253.6" font-size="6.8" text-anchor="start" fill="#222" font-weight="normal" >-5.0</text>
<text x="351.1" y="253.6" font-size="6.8" text-anchor="end" fill="#222" font-weight="normal" >5.0kb</text>
<text x="231.7" y="253.6" font-size="6.8" text-anchor="middle" fill="#222" font-weight="normal" >TSS</text>
<text x="311.1" y="253.6" font-size="6.8" text-anchor="middle" fill="#222" font-weight="normal" >TES</text>
<line x1="358.40" y1="165.20" x2="516.30" y2="165.20" stroke="#c4c4c4" stroke-width="1.5" />
<line x1="358.40" y1="164.90" x2="358.40" y2="244.60" stroke="#6a6a6a" stroke-width="0.9" />
<line x1="516.30" y1="164.90" x2="516.30" y2="244.60" stroke="#6a6a6a" stroke-width="0.9" />
<line x1="357.95" y1="244.60" x2="516.75" y2="244.60" stroke="#6a6a6a" stroke-width="0.9" />
<line x1="358.40" y1="244.60" x2="358.40" y2="246.80" stroke="#6a6a6a" stroke-width="0.8" />
<line x1="398.80" y1="244.60" x2="398.80" y2="246.80" stroke="#6a6a6a" stroke-width="0.8" />
<line x1="477.10" y1="244.60" x2="477.10" y2="246.80" stroke="#6a6a6a" stroke-width="0.8" />
<line x1="516.30" y1="244.60" x2="516.30" y2="246.80" stroke="#6a6a6a" stroke-width="0.8" />
<text x="358.2" y="253.6" font-size="6.8" text-anchor="start" fill="#222" font-weight="normal" >-5.0</text>
<text x="516.9" y="253.6" font-size="6.8" text-anchor="end" fill="#222" font-weight="normal" >5.0kb</text>
<text x="398.8" y="253.6" font-size="6.8" text-anchor="middle" fill="#222" font-weight="normal" >TSS</text>
<text x="477.1" y="253.6" font-size="6.8" text-anchor="middle" fill="#222" font-weight="normal" >TES</text>
<line x1="524.70" y1="165.20" x2="683.10" y2="165.20" stroke="#c4c4c4" stroke-width="1.5" />
<line x1="524.70" y1="164.90" x2="524.70" y2="244.60" stroke="#6a6a6a" stroke-width="0.9" />
<line x1="683.10" y1="164.90" x2="683.10" y2="244.60" stroke="#6a6a6a" stroke-width="0.9" />
<line x1="524.25" y1="244.60" x2="683.55" y2="244.60" stroke="#6a6a6a" stroke-width="0.9" />
<line x1="524.70" y1="244.60" x2="524.70" y2="246.80" stroke="#6a6a6a" stroke-width="0.8" />
<line x1="564.40" y1="244.60" x2="564.40" y2="246.80" stroke="#6a6a6a" stroke-width="0.8" />
<line x1="642.20" y1="244.60" x2="642.20" y2="246.80" stroke="#6a6a6a" stroke-width="0.8" />
<line x1="683.10" y1="244.60" x2="683.10" y2="246.80" stroke="#6a6a6a" stroke-width="0.8" />
<text x="524.5" y="253.6" font-size="6.8" text-anchor="start" fill="#222" font-weight="normal" >-5.0</text>
<text x="683.7" y="253.6" font-size="6.8" text-anchor="end" fill="#222" font-weight="normal" >5.0kb</text>
<text x="564.4" y="253.6" font-size="6.8" text-anchor="middle" fill="#222" font-weight="normal" >TSS</text>
<text x="642.2" y="253.6" font-size="6.8" text-anchor="middle" fill="#222" font-weight="normal" >TES</text>
<line x1="26.20" y1="168.20" x2="28.60" y2="168.20" stroke="#6a6a6a" stroke-width="0.8" />
<text x="24.3" y="170.7" font-size="6.8" text-anchor="end" fill="#222" font-weight="normal" >70</text>
<line x1="26.20" y1="181.10" x2="28.60" y2="181.10" stroke="#6a6a6a" stroke-width="0.8" />
<text x="24.3" y="183.6" font-size="6.8" text-anchor="end" fill="#222" font-weight="normal" >60</text>
<line x1="26.20" y1="194.50" x2="28.60" y2="194.50" stroke="#6a6a6a" stroke-width="0.8" />
<text x="24.3" y="197.0" font-size="6.8" text-anchor="end" fill="#222" font-weight="normal" >50</text>
<line x1="26.20" y1="208.00" x2="28.60" y2="208.00" stroke="#6a6a6a" stroke-width="0.8" />
<text x="24.3" y="210.5" font-size="6.8" text-anchor="end" fill="#222" font-weight="normal" >40</text>
<line x1="26.20" y1="221.50" x2="28.60" y2="221.50" stroke="#6a6a6a" stroke-width="0.8" />
<text x="24.3" y="224.0" font-size="6.8" text-anchor="end" fill="#222" font-weight="normal" >30</text>
<line x1="26.20" y1="235.30" x2="28.60" y2="235.30" stroke="#6a6a6a" stroke-width="0.8" />
<text x="24.3" y="237.8" font-size="6.8" text-anchor="end" fill="#222" font-weight="normal" >20</text>
<line x1="189.40" y1="181.30" x2="191.80" y2="181.30" stroke="#6a6a6a" stroke-width="0.8" />
<text x="188.8" y="183.8" font-size="6.8" text-anchor="end" fill="#222" font-weight="normal" >25</text>
<line x1="189.40" y1="200.80" x2="191.80" y2="200.80" stroke="#6a6a6a" stroke-width="0.8" />
<text x="188.8" y="203.3" font-size="6.8" text-anchor="end" fill="#222" font-weight="normal" >20</text>
<line x1="189.40" y1="220.20" x2="191.80" y2="220.20" stroke="#6a6a6a" stroke-width="0.8" />
<text x="188.8" y="222.7" font-size="6.8" text-anchor="end" fill="#222" font-weight="normal" >15</text>
<line x1="189.40" y1="239.60" x2="191.80" y2="239.60" stroke="#6a6a6a" stroke-width="0.8" />
<text x="188.8" y="242.1" font-size="6.8" text-anchor="end" fill="#222" font-weight="normal" >10</text>
<line x1="356.00" y1="181.20" x2="358.40" y2="181.20" stroke="#6a6a6a" stroke-width="0.8" />
<line x1="356.00" y1="200.70" x2="358.40" y2="200.70" stroke="#6a6a6a" stroke-width="0.8" />
<line x1="356.00" y1="220.10" x2="358.40" y2="220.10" stroke="#6a6a6a" stroke-width="0.8" />
<line x1="356.00" y1="239.30" x2="358.40" y2="239.30" stroke="#6a6a6a" stroke-width="0.8" />
<line x1="522.30" y1="181.20" x2="524.70" y2="181.20" stroke="#6a6a6a" stroke-width="0.8" />
<line x1="522.30" y1="200.70" x2="524.70" y2="200.70" stroke="#6a6a6a" stroke-width="0.8" />
<line x1="522.30" y1="220.10" x2="524.70" y2="220.10" stroke="#6a6a6a" stroke-width="0.8" />
<line x1="522.30" y1="239.30" x2="524.70" y2="239.30" stroke="#6a6a6a" stroke-width="0.8" />
<text x="35.0" y="176.3" font-size="7.9" text-anchor="start" fill="#222" font-weight="normal" >TOP1</text>
<line x1="129.00" y1="225.50" x2="139.50" y2="225.50" stroke="#4b8fab" stroke-width="1.2" />
<text x="142.3" y="228.4" font-size="7.8" text-anchor="start" fill="#222" font-weight="normal" >WT</text>
<line x1="129.00" y1="237.20" x2="139.50" y2="237.20" stroke="#d3312f" stroke-width="1.2" />
<text x="142.3" y="240.1" font-size="7.8" text-anchor="start" fill="#222" font-weight="normal" >Mut.1</text>
<line x1="28.30" y1="273.10" x2="173.60" y2="273.10" stroke="#c4c4c4" stroke-width="1.5" />
<line x1="28.30" y1="272.80" x2="28.30" y2="352.30" stroke="#6a6a6a" stroke-width="0.9" />
<line x1="173.60" y1="272.80" x2="173.60" y2="352.30" stroke="#6a6a6a" stroke-width="0.9" />
<line x1="27.85" y1="352.30" x2="174.05" y2="352.30" stroke="#6a6a6a" stroke-width="0.9" />
<line x1="28.30" y1="352.30" x2="28.30" y2="354.50" stroke="#6a6a6a" stroke-width="0.8" />
<line x1="65.10" y1="352.30" x2="65.10" y2="354.50" stroke="#6a6a6a" stroke-width="0.8" />
<line x1="137.50" y1="352.30" x2="137.50" y2="354.50" stroke="#6a6a6a" stroke-width="0.8" />
<line x1="173.60" y1="352.30" x2="173.60" y2="354.50" stroke="#6a6a6a" stroke-width="0.8" />
<text x="28.1" y="365.0" font-size="6.8" text-anchor="start" fill="#222" font-weight="normal" >-5.0</text>
<text x="174.2" y="365.0" font-size="6.8" text-anchor="end" fill="#222" font-weight="normal" >5.0kb</text>
<text x="65.1" y="365.0" font-size="6.8" text-anchor="middle" fill="#222" font-weight="normal" >TSS</text>
<text x="137.5" y="365.0" font-size="6.8" text-anchor="middle" fill="#222" font-weight="normal" >TES</text>
<line x1="192.70" y1="273.10" x2="349.60" y2="273.10" stroke="#c4c4c4" stroke-width="1.5" />
<line x1="192.70" y1="272.80" x2="192.70" y2="352.30" stroke="#6a6a6a" stroke-width="0.9" />
<line x1="349.60" y1="272.80" x2="349.60" y2="352.30" stroke="#6a6a6a" stroke-width="0.9" />
<line x1="192.25" y1="352.30" x2="350.05" y2="352.30" stroke="#6a6a6a" stroke-width="0.9" />
<line x1="192.70" y1="352.30" x2="192.70" y2="354.50" stroke="#6a6a6a" stroke-width="0.8" />
<line x1="231.60" y1="352.30" x2="231.60" y2="354.50" stroke="#6a6a6a" stroke-width="0.8" />
<line x1="310.50" y1="352.30" x2="310.50" y2="354.50" stroke="#6a6a6a" stroke-width="0.8" />
<line x1="349.60" y1="352.30" x2="349.60" y2="354.50" stroke="#6a6a6a" stroke-width="0.8" />
<text x="192.5" y="365.0" font-size="6.8" text-anchor="start" fill="#222" font-weight="normal" >-5.0</text>
<text x="350.2" y="365.0" font-size="6.8" text-anchor="end" fill="#222" font-weight="normal" >5.0kb</text>
<text x="231.6" y="365.0" font-size="6.8" text-anchor="middle" fill="#222" font-weight="normal" >TSS</text>
<text x="310.5" y="365.0" font-size="6.8" text-anchor="middle" fill="#222" font-weight="normal" >TES</text>
<line x1="357.60" y1="273.10" x2="515.50" y2="273.10" stroke="#c4c4c4" stroke-width="1.5" />
<line x1="357.60" y1="272.80" x2="357.60" y2="352.30" stroke="#6a6a6a" stroke-width="0.9" />
<line x1="515.50" y1="272.80" x2="515.50" y2="352.30" stroke="#6a6a6a" stroke-width="0.9" />
<line x1="357.15" y1="352.30" x2="515.95" y2="352.30" stroke="#6a6a6a" stroke-width="0.9" />
<line x1="357.60" y1="352.30" x2="357.60" y2="354.50" stroke="#6a6a6a" stroke-width="0.8" />
<line x1="396.90" y1="352.30" x2="396.90" y2="354.50" stroke="#6a6a6a" stroke-width="0.8" />
<line x1="475.80" y1="352.30" x2="475.80" y2="354.50" stroke="#6a6a6a" stroke-width="0.8" />
<line x1="515.50" y1="352.30" x2="515.50" y2="354.50" stroke="#6a6a6a" stroke-width="0.8" />
<text x="357.4" y="365.0" font-size="6.8" text-anchor="start" fill="#222" font-weight="normal" >-5.0</text>
<text x="516.1" y="365.0" font-size="6.8" text-anchor="end" fill="#222" font-weight="normal" >5.0kb</text>
<text x="396.9" y="365.0" font-size="6.8" text-anchor="middle" fill="#222" font-weight="normal" >TSS</text>
<text x="475.8" y="365.0" font-size="6.8" text-anchor="middle" fill="#222" font-weight="normal" >TES</text>
<line x1="523.10" y1="273.10" x2="680.30" y2="273.10" stroke="#c4c4c4" stroke-width="1.5" />
<line x1="523.10" y1="272.80" x2="523.10" y2="352.30" stroke="#6a6a6a" stroke-width="0.9" />
<line x1="680.30" y1="272.80" x2="680.30" y2="352.30" stroke="#6a6a6a" stroke-width="0.9" />
<line x1="522.65" y1="352.30" x2="680.75" y2="352.30" stroke="#6a6a6a" stroke-width="0.9" />
<line x1="523.10" y1="352.30" x2="523.10" y2="354.50" stroke="#6a6a6a" stroke-width="0.8" />
<line x1="562.50" y1="352.30" x2="562.50" y2="354.50" stroke="#6a6a6a" stroke-width="0.8" />
<line x1="641.20" y1="352.30" x2="641.20" y2="354.50" stroke="#6a6a6a" stroke-width="0.8" />
<line x1="680.30" y1="352.30" x2="680.30" y2="354.50" stroke="#6a6a6a" stroke-width="0.8" />
<text x="522.9" y="365.0" font-size="6.8" text-anchor="start" fill="#222" font-weight="normal" >-5.0</text>
<text x="680.9" y="365.0" font-size="6.8" text-anchor="end" fill="#222" font-weight="normal" >5.0kb</text>
<text x="562.5" y="365.0" font-size="6.8" text-anchor="middle" fill="#222" font-weight="normal" >TSS</text>
<text x="641.2" y="365.0" font-size="6.8" text-anchor="middle" fill="#222" font-weight="normal" >TES</text>
<line x1="25.90" y1="273.70" x2="28.30" y2="273.70" stroke="#6a6a6a" stroke-width="0.8" />
<text x="24.9" y="276.2" font-size="6.8" text-anchor="end" fill="#222" font-weight="normal" >800</text>
<line x1="25.90" y1="294.40" x2="28.30" y2="294.40" stroke="#6a6a6a" stroke-width="0.8" />
<text x="24.9" y="296.9" font-size="6.8" text-anchor="end" fill="#222" font-weight="normal" >600</text>
<line x1="25.90" y1="314.60" x2="28.30" y2="314.60" stroke="#6a6a6a" stroke-width="0.8" />
<text x="24.9" y="317.1" font-size="6.8" text-anchor="end" fill="#222" font-weight="normal" >400</text>
<line x1="25.90" y1="334.40" x2="28.30" y2="334.40" stroke="#6a6a6a" stroke-width="0.8" />
<text x="24.9" y="336.9" font-size="6.8" text-anchor="end" fill="#222" font-weight="normal" >200</text>
<line x1="190.30" y1="285.00" x2="192.70" y2="285.00" stroke="#6a6a6a" stroke-width="0.8" />
<text x="189.5" y="287.5" font-size="6.8" text-anchor="end" fill="#222" font-weight="normal" >150</text>
<line x1="190.30" y1="297.30" x2="192.70" y2="297.30" stroke="#6a6a6a" stroke-width="0.8" />
<text x="189.5" y="299.8" font-size="6.8" text-anchor="end" fill="#222" font-weight="normal" >125</text>
<line x1="190.30" y1="309.60" x2="192.70" y2="309.60" stroke="#6a6a6a" stroke-width="0.8" />
<text x="189.5" y="312.1" font-size="6.8" text-anchor="end" fill="#222" font-weight="normal" >100</text>
<line x1="190.30" y1="321.90" x2="192.70" y2="321.90" stroke="#6a6a6a" stroke-width="0.8" />
<text x="189.5" y="324.4" font-size="6.8" text-anchor="end" fill="#222" font-weight="normal" >75</text>
<line x1="190.30" y1="334.40" x2="192.70" y2="334.40" stroke="#6a6a6a" stroke-width="0.8" />
<text x="189.5" y="336.9" font-size="6.8" text-anchor="end" fill="#222" font-weight="normal" >50</text>
<line x1="190.30" y1="346.40" x2="192.70" y2="346.40" stroke="#6a6a6a" stroke-width="0.8" />
<text x="189.5" y="348.9" font-size="6.8" text-anchor="end" fill="#222" font-weight="normal" >25</text>
<line x1="355.20" y1="285.00" x2="357.60" y2="285.00" stroke="#6a6a6a" stroke-width="0.8" />
<line x1="355.20" y1="297.30" x2="357.60" y2="297.30" stroke="#6a6a6a" stroke-width="0.8" />
<line x1="355.20" y1="309.60" x2="357.60" y2="309.60" stroke="#6a6a6a" stroke-width="0.8" />
<line x1="355.20" y1="321.70" x2="357.60" y2="321.70" stroke="#6a6a6a" stroke-width="0.8" />
<line x1="355.20" y1="334.10" x2="357.60" y2="334.10" stroke="#6a6a6a" stroke-width="0.8" />
<line x1="355.20" y1="346.20" x2="357.60" y2="346.20" stroke="#6a6a6a" stroke-width="0.8" />
<line x1="520.70" y1="285.00" x2="523.10" y2="285.00" stroke="#6a6a6a" stroke-width="0.8" />
<line x1="520.70" y1="297.30" x2="523.10" y2="297.30" stroke="#6a6a6a" stroke-width="0.8" />
<line x1="520.70" y1="309.60" x2="523.10" y2="309.60" stroke="#6a6a6a" stroke-width="0.8" />
<line x1="520.70" y1="321.70" x2="523.10" y2="321.70" stroke="#6a6a6a" stroke-width="0.8" />
<line x1="520.70" y1="334.10" x2="523.10" y2="334.10" stroke="#6a6a6a" stroke-width="0.8" />
<line x1="520.70" y1="346.20" x2="523.10" y2="346.20" stroke="#6a6a6a" stroke-width="0.8" />
<text x="34.5" y="285.6" font-size="8.4" text-anchor="start" fill="#222" font-weight="normal" >S2P</text>
<polyline points="28.6,238.7 29.7,237.7 30.9,237.3 32.0,237.1 33.1,236.4 34.2,235.8 35.4,235.3 36.5,235.2 37.7,235.2 38.8,235.8 40.0,236.1 41.0,235.6 42.0,235.5 43.1,235.4 44.1,235.2 45.1,235.4 46.2,234.8 47.2,234.3 48.2,234.7 49.4,233.9 50.5,233.1 51.7,232.4 52.8,231.8 54.0,231.6 55.5,228.7 56.9,226.0 57.9,223.4 59.0,220.7 60.0,218.3 61.0,217.1 62.0,215.5 63.0,216.7 64.0,225.4 65.0,234.1 66.4,211.6 67.8,206.7 69.3,201.9 70.3,200.8 71.4,199.5 72.5,199.8 73.6,199.9 74.7,199.6 75.7,199.8 76.8,199.5 77.9,199.3 79.0,199.4 80.0,199.2 81.0,199.0 82.0,199.0 83.0,199.1 84.0,199.1 85.0,199.1 86.0,199.0 87.0,198.8 88.0,198.1 89.0,197.6 90.0,197.5 91.0,197.4 92.0,197.3 93.0,196.7 94.0,196.4 95.0,196.7 96.0,196.9 97.0,197.2 98.0,197.0 99.0,197.1 100.0,197.7 101.0,197.6 102.1,197.8 103.1,197.2 104.2,197.0 105.2,197.1 106.3,196.9 107.3,196.9 108.4,196.7 109.4,196.2 110.4,195.8 111.5,196.1 112.5,195.5 113.6,195.2 114.6,195.0 115.7,195.1 116.7,195.2 117.8,194.8 118.8,194.6 119.8,194.6 120.9,194.1 121.9,193.7 122.9,193.7 123.9,193.6 125.0,192.9 126.0,192.5 127.1,192.0 128.2,191.9 129.4,191.7 130.5,191.6 131.8,192.5 133.1,193.0 134.2,192.9 135.3,193.0 136.4,192.4 137.5,191.7 138.5,190.0 139.5,188.2 140.7,184.5 142.5,173.4 143.6,167.7 145.0,167.9 146.2,169.2 147.4,171.1 148.6,172.5 149.8,174.1 150.8,176.2 151.8,177.8 152.9,179.4 153.9,181.3 154.9,183.3 155.9,185.0 157.0,188.8 158.1,192.1 159.2,195.6 160.3,199.2 161.6,200.0 162.9,201.0 164.0,202.0 165.0,202.7 166.1,203.5 167.1,204.9 168.2,206.2 169.3,207.4 170.4,208.2 171.5,209.0 172.6,209.5 173.8,211.1 174.9,212.0 176.1,213.3 177.3,214.8" fill="none" stroke="#4b8fab" stroke-width="1.1" stroke-linejoin="round"/>
<polyline points="28.6,241.6 29.6,241.1 30.7,241.0 31.7,241.4 32.7,241.2 33.8,241.3 34.8,240.8 35.9,240.8 36.9,241.0 37.9,240.8 39.0,241.0 40.0,241.1 41.0,240.6 42.0,239.9 43.1,240.0 44.1,239.5 45.1,239.1 46.2,239.3 47.2,239.5 48.2,239.5 49.4,239.0 50.5,237.9 51.7,236.9 52.8,236.0 54.0,235.9 55.2,234.8 56.3,233.9 57.5,233.0 58.5,230.0 59.5,227.1 60.5,224.4 61.5,221.4 62.5,218.5 63.8,227.0 65.0,234.7 66.5,214.7 67.9,211.2 69.3,207.5 70.4,207.7 71.4,208.1 72.5,208.2 73.6,208.1 74.7,208.2 75.7,208.3 76.8,208.6 77.9,209.3 78.9,209.4 80.0,209.2 81.0,209.3 82.0,209.6 83.0,209.5 84.0,209.7 85.0,209.3 86.0,209.0 87.0,209.3 88.0,209.0 89.0,209.1 90.0,209.1 91.0,209.0 92.0,208.8 93.0,208.6 94.0,209.2 95.0,209.3 96.0,209.6 97.0,209.4 98.0,209.6 99.0,209.6 100.0,209.5 101.0,209.1 102.0,208.9 103.0,208.4 104.0,208.2 105.0,208.3 106.0,207.9 107.0,208.1 108.0,207.9 109.0,207.8 110.0,207.8 111.1,207.7 112.2,207.2 113.3,206.9 114.4,206.5 115.5,206.3 116.6,206.8 117.7,206.8 118.8,207.1 119.8,206.9 120.9,206.3 121.9,206.4 122.9,206.3 123.9,205.8 125.0,205.1 126.0,204.8 127.0,204.6 128.0,204.6 129.0,204.3 130.0,204.7 131.0,205.1 132.2,205.6 133.5,206.7 134.5,206.4 135.5,206.1 136.5,206.1 137.5,205.6 138.5,204.1 139.5,201.8 140.7,197.6 142.5,189.9 143.6,186.3 145.0,186.5 146.2,187.9 147.4,189.1 148.6,190.4 149.8,191.3 150.8,192.6 151.8,194.1 152.9,196.2 153.9,198.1 154.9,199.3 155.9,200.8 157.0,203.6 158.1,206.8 159.2,209.1 160.3,212.3 161.4,213.1 162.4,214.3 163.5,215.1 164.5,215.9 165.6,217.5 166.6,218.0 167.6,218.9 168.6,219.5 169.6,220.0 170.6,220.0 171.6,220.6 172.6,221.4 173.8,222.1 174.9,222.6 176.1,223.3 177.3,224.5" fill="none" stroke="#d3312f" stroke-width="1.1" stroke-linejoin="round"/>
<polyline points="191.9,222.1 193.0,222.1 194.1,222.1 195.3,221.7 196.4,221.6 197.5,221.7 198.6,222.0 199.6,221.7 200.7,221.9 201.8,222.1 202.9,222.1 203.9,222.5 205.0,222.5 206.1,222.2 207.1,222.3 208.2,222.0 209.2,221.6 210.2,221.3 211.3,221.1 212.6,220.1 213.8,219.6 215.1,219.0 216.3,217.7 217.6,216.6 218.8,215.6 219.9,213.4 220.9,211.3 222.0,208.8 223.2,203.6 224.5,199.0 226.4,187.5 227.6,177.4 228.5,174.9 229.5,179.0 230.8,188.7 232.0,168.0 233.3,173.5 235.1,184.8 236.3,189.0 237.6,193.6 238.9,196.1 240.1,198.7 241.4,201.1 242.4,202.0 243.4,202.9 244.4,204.3 245.4,205.5 246.4,206.5 247.4,206.5 248.5,206.7 249.6,206.9 250.6,207.3 251.6,207.5 252.7,207.9 253.8,208.0 254.8,208.2 255.9,208.6 257.0,208.9 258.1,209.1 259.1,209.2 260.2,209.4 261.3,209.7 262.4,209.6 263.5,209.5 264.6,209.6 265.6,209.7 266.7,210.0 267.8,209.8 268.9,210.2 270.0,210.0 271.0,210.1 272.1,210.1 273.1,210.1 274.2,210.4 275.2,210.5 276.2,210.2 277.3,210.3 278.3,210.4 279.4,210.1 280.4,210.0 281.4,210.1 282.4,210.1 283.4,209.9 284.4,209.7 285.4,209.6 286.4,209.3 287.4,209.4 288.4,209.5 289.4,209.1 290.4,208.6 291.4,208.5 292.4,208.5 293.4,208.2 294.4,207.9 295.4,207.6 296.4,207.7 297.4,207.7 298.4,207.4 299.4,207.3 300.4,207.3 301.4,207.4 302.5,206.7 303.7,205.7 304.8,205.0 305.9,204.4 307.0,203.7 308.2,202.9 309.3,202.0 310.6,202.2 311.9,202.6 313.2,199.4 314.5,196.3 315.8,194.3 317.1,192.3 318.2,192.6 319.2,193.2 320.2,193.7 321.3,193.9 322.4,194.2 323.4,195.0 324.5,195.1 325.5,195.8 326.6,196.3 327.6,196.7 328.7,197.4 329.7,197.8 330.8,197.9 331.8,198.7 332.9,199.0 333.9,199.7 335.0,200.3 336.0,200.4 337.1,200.6 338.1,200.9 339.2,201.8 340.2,202.5 341.3,202.7 342.3,203.0 343.4,203.5 344.4,203.9 345.4,204.1 346.4,204.4 347.5,204.6 348.5,204.7 349.5,204.8 350.5,204.4" fill="none" stroke="#4b8fab" stroke-width="1.1" stroke-linejoin="round"/>
<polyline points="191.9,225.8 193.0,225.7 194.1,225.8 195.3,225.8 196.4,225.8 197.5,225.4 198.6,225.8 199.6,225.8 200.7,225.8 201.8,225.7 202.9,226.0 203.9,226.0 205.0,226.2 206.1,226.2 207.1,226.3 208.2,226.2 209.2,225.7 210.2,225.3 211.3,225.2 212.6,224.6 213.8,224.1 215.1,223.5 216.3,222.2 217.6,220.7 218.8,219.2 219.9,216.9 220.9,214.7 222.0,212.5 223.2,207.5 224.5,202.6 226.4,191.3 227.6,180.1 228.5,178.1 229.5,184.9 230.8,205.9 231.8,170.1 233.3,179.0 235.1,191.6 236.3,195.8 237.6,199.9 238.9,202.4 240.1,205.2 241.4,207.8 242.4,208.7 243.4,209.9 244.4,210.7 245.4,211.9 246.4,212.6 247.4,213.1 248.5,213.6 249.6,213.8 250.6,214.0 251.6,214.0 252.7,214.3 253.8,214.4 254.8,214.6 255.9,214.6 257.0,214.9 258.1,215.0 259.1,215.3 260.2,215.6 261.3,215.6 262.4,216.0 263.5,215.9 264.6,216.0 265.6,216.4 266.7,216.5 267.8,216.7 268.9,216.7 270.0,216.8 271.0,216.4 272.1,216.6 273.1,216.5 274.2,216.4 275.2,216.6 276.2,216.8 277.3,216.6 278.3,216.6 279.4,216.5 280.4,216.9 281.4,216.7 282.4,216.4 283.4,216.2 284.4,215.8 285.4,215.7 286.4,215.6 287.4,215.8 288.4,215.8 289.4,215.6 290.4,215.5 291.4,215.1 292.4,215.1 293.4,215.2 294.4,214.7 295.4,214.8 296.4,214.8 297.4,214.4 298.4,214.3 299.4,214.4 300.4,213.8 301.4,213.6 302.5,213.0 303.7,212.4 304.8,211.5 305.9,211.0 307.0,210.4 308.2,209.8 309.3,209.1 310.6,210.3 311.9,211.2 313.2,208.4 314.5,205.6 315.8,203.9 317.1,202.3 318.2,202.6 319.2,202.9 320.2,203.1 321.3,203.4 322.4,204.1 323.4,204.3 324.5,204.9 325.5,205.4 326.6,205.5 327.6,205.6 328.7,206.3 329.7,207.0 330.8,207.1 331.8,207.6 332.9,208.2 333.9,208.6 335.0,208.7 336.0,209.0 337.1,209.7 338.1,210.2 339.2,210.7 340.2,210.9 341.3,211.6 342.3,212.1 343.4,212.5 344.4,212.9 345.4,212.9 346.4,213.1 347.5,213.4 348.5,213.9 349.5,214.3 350.5,214.1" fill="none" stroke="#d3312f" stroke-width="1.1" stroke-linejoin="round"/>
<polyline points="358.4,230.5 359.4,230.6 360.5,230.6 361.5,230.6 362.5,230.4 363.5,230.5 364.6,230.4 365.6,230.4 366.6,230.4 367.6,230.5 368.7,230.2 369.7,230.1 370.7,230.1 371.7,230.1 372.8,230.1 373.8,230.0 374.8,230.1 375.8,229.8 376.9,229.9 377.9,229.8 378.9,229.3 379.9,229.2 380.9,228.7 381.9,228.4 382.9,228.2 383.9,227.8 385.1,226.7 386.3,225.6 387.5,224.7 388.7,223.5 389.9,221.0 391.1,218.6 392.3,216.5 393.6,212.9 394.8,209.4 396.0,207.6 397.2,209.5 398.4,201.7 399.6,210.5 400.8,214.6 402.0,218.9 403.2,220.7 404.4,222.2 405.6,223.9 406.6,224.6 407.7,225.2 408.7,225.8 409.7,226.4 410.7,226.8 411.8,227.4 412.8,228.2 413.8,228.3 414.8,228.6 415.8,228.7 416.8,228.9 417.8,229.0 418.9,229.3 419.9,229.7 420.9,229.6 421.9,229.9 422.9,229.9 423.9,230.4 424.9,230.4 425.9,230.4 427.0,230.8 428.0,230.9 429.0,230.8 430.0,231.0 431.1,231.3 432.1,231.3 433.1,231.5 434.2,231.5 435.2,231.7 436.2,231.8 437.2,231.7 438.3,231.9 439.3,232.1 440.4,232.1 441.4,232.1 442.5,231.9 443.5,232.0 444.6,231.8 445.6,232.0 446.7,231.7 447.8,231.8 448.8,231.6 449.9,231.6 450.9,231.6 452.0,231.5 453.0,231.6 454.1,231.6 455.1,231.3 456.2,231.5 457.2,231.3 458.2,230.9 459.2,230.8 460.2,230.7 461.2,230.4 462.2,230.4 463.3,230.0 464.3,229.8 465.3,229.5 466.3,229.5 467.3,229.2 468.3,228.9 469.3,228.8 470.4,228.4 471.4,228.0 472.4,227.7 473.4,227.2 474.5,227.0 475.5,226.7 476.7,229.1 477.8,229.1 478.8,229.1 479.9,228.8 480.9,229.0 481.9,228.9 483.0,228.9 484.1,228.8 485.1,228.9 486.1,228.9 487.2,228.7 488.2,228.6 489.2,228.6 490.3,228.6 491.3,228.6 492.4,228.7 493.4,228.8 494.4,228.8 495.5,228.9 496.5,228.8 497.5,228.9 498.6,228.9 499.6,229.0 500.6,229.2 501.7,229.2 502.7,229.0 503.8,229.2 504.8,229.2 505.9,229.2 506.9,229.3 507.9,229.3 509.0,229.5 510.0,229.5 511.1,229.5 512.1,229.6 513.2,229.5 514.2,229.5 515.3,229.8 516.3,229.8" fill="none" stroke="#4b8fab" stroke-width="1.1" stroke-linejoin="round"/>
<polyline points="358.4,232.9 359.4,233.1 360.5,233.2 361.5,233.3 362.5,233.3 363.5,233.4 364.6,233.1 365.6,233.1 366.6,233.0 367.6,233.2 368.7,233.2 369.7,233.2 370.7,233.2 371.7,233.3 372.8,233.4 373.8,233.6 374.8,233.4 375.8,233.5 376.9,233.6 377.9,233.5 378.9,232.9 379.9,232.6 380.9,232.3 381.9,231.9 382.9,231.3 383.9,231.0 385.1,229.7 386.3,228.7 387.5,227.3 388.7,226.1 389.9,223.3 391.1,220.7 392.3,217.7 393.6,214.2 394.8,210.5 396.0,208.1 397.2,210.4 398.4,201.5 399.6,211.8 400.8,216.2 402.0,220.4 403.2,222.2 404.4,223.9 405.6,225.7 406.6,226.4 407.7,226.8 408.7,227.6 409.7,228.0 410.7,228.5 411.8,229.0 412.8,229.5 413.8,229.7 414.8,229.9 415.8,230.2 416.8,230.6 417.8,230.8 418.9,231.1 419.9,231.2 420.9,231.3 421.9,231.5 422.9,231.9 423.9,231.9 424.9,232.2 425.9,232.2 427.0,232.4 428.0,232.4 429.0,232.4 430.0,232.4 431.1,232.7 432.1,232.8 433.1,232.7 434.2,233.0 435.2,233.0 436.2,233.0 437.2,233.0 438.3,233.1 439.3,233.3 440.4,233.5 441.4,233.3 442.5,233.3 443.5,233.1 444.6,233.2 445.6,233.1 446.7,233.1 447.8,233.0 448.8,233.2 449.9,233.3 450.9,233.0 452.0,233.0 453.0,232.8 454.1,233.0 455.1,233.1 456.2,232.8 457.2,232.8 458.2,232.5 459.2,232.4 460.2,232.3 461.2,232.1 462.2,232.0 463.3,231.7 464.3,231.6 465.3,231.4 466.3,231.2 467.3,231.0 468.3,230.8 469.3,230.5 470.4,230.3 471.4,230.0 472.4,229.8 473.4,229.7 474.5,229.2 475.5,229.0 476.7,231.4 477.8,231.5 478.8,231.5 479.9,231.4 480.9,231.6 481.9,231.6 483.0,231.3 484.1,231.4 485.1,231.4 486.1,231.6 487.2,231.7 488.2,231.8 489.2,231.8 490.3,231.9 491.3,231.8 492.4,231.9 493.4,231.9 494.4,231.7 495.5,231.9 496.5,231.9 497.5,232.0 498.6,232.1 499.6,232.2 500.6,232.2 501.7,232.2 502.7,232.1 503.8,232.4 504.8,232.4 505.9,232.4 506.9,232.5 507.9,232.2 509.0,232.1 510.0,232.2 511.1,232.2 512.1,232.2 513.2,232.3 514.2,232.4 515.3,232.5 516.3,232.4" fill="none" stroke="#d3312f" stroke-width="1.1" stroke-linejoin="round"/>
<polyline points="524.7,242.7 525.7,242.5 526.7,242.5 527.8,242.6 528.8,242.5 529.8,242.4 530.8,242.3 531.8,242.1 532.9,242.0 533.9,241.8 534.9,241.8 535.9,241.7 537.0,241.6 538.0,241.4 539.0,241.5 540.0,241.4 541.0,241.5 542.1,241.5 543.1,241.4 544.1,241.0 545.2,240.5 546.2,240.1 547.3,239.8 548.4,239.6 549.4,239.4 550.5,239.0 551.6,238.7 552.6,238.3 553.7,237.8 554.7,237.3 555.7,236.7 556.8,236.2 557.8,235.6 558.8,235.2 559.8,234.9 561.1,233.3 562.5,232.0 564.1,229.7 565.8,232.1 566.8,232.3 567.9,232.7 568.9,233.0 569.9,233.4 570.9,233.4 572.0,233.7 573.0,233.9 574.0,233.9 575.0,234.1 576.0,234.1 577.1,233.9 578.1,234.0 579.1,234.0 580.1,233.9 581.1,234.0 582.1,233.9 583.2,233.9 584.2,234.0 585.2,233.9 586.2,234.1 587.2,234.0 588.2,234.1 589.3,234.1 590.3,234.0 591.3,234.3 592.3,234.2 593.3,234.1 594.3,234.2 595.3,234.1 596.3,234.2 597.3,234.2 598.3,234.3 599.3,234.3 600.3,234.2 601.3,234.1 602.3,234.3 603.3,234.3 604.3,234.3 605.4,234.5 606.4,234.2 607.4,234.1 608.4,234.2 609.4,234.1 610.4,234.3 611.4,234.2 612.4,234.2 613.4,234.1 614.4,234.4 615.4,234.2 616.4,234.3 617.4,234.4 618.5,234.4 619.5,234.4 620.5,234.2 621.5,234.1 622.6,234.2 623.6,233.9 624.6,234.0 625.7,234.0 626.7,233.8 627.7,233.9 628.7,233.7 629.8,233.5 630.8,233.4 631.8,233.5 632.9,233.3 633.9,233.4 634.9,233.3 635.9,233.3 637.0,233.4 638.0,233.4 639.2,233.5 640.5,233.4 641.7,233.4 642.9,234.3 644.1,235.1 645.3,235.7 646.4,235.5 647.4,235.5 648.5,235.5 649.6,235.7 650.6,235.7 651.7,235.6 652.8,235.4 653.8,235.5 654.9,235.3 655.9,235.4 656.9,235.5 657.9,235.8 658.9,236.2 659.9,236.3 661.0,236.2 662.0,236.5 663.0,236.5 664.0,236.8 665.0,237.0 666.0,237.3 667.0,237.2 668.0,237.2 669.0,237.4 670.0,237.4 671.0,237.8 672.0,238.0 673.0,238.0 674.0,238.2 675.0,238.2 676.1,238.6 677.1,238.7 678.1,238.6 679.1,239.0 680.1,239.1 681.1,239.3 682.1,239.6 683.1,239.6" fill="none" stroke="#4b8fab" stroke-width="1.1" stroke-linejoin="round"/>
<polyline points="524.7,243.9 525.7,243.8 526.7,243.8 527.8,243.5 528.8,243.5 529.8,243.4 530.8,243.3 531.8,243.1 532.9,243.0 533.9,242.8 534.9,242.7 535.9,242.8 537.0,242.7 538.0,242.8 539.0,242.6 540.0,242.4 541.0,242.3 542.1,242.2 543.1,242.0 544.1,241.9 545.2,241.4 546.2,241.2 547.3,240.9 548.4,240.7 549.4,240.6 550.5,240.2 551.6,239.7 552.6,239.4 553.7,239.0 554.7,238.7 555.7,238.5 556.8,237.8 557.8,237.6 558.8,237.1 559.8,236.5 561.1,235.5 562.5,234.4 564.1,232.2 565.5,233.4 567.0,234.7 568.1,234.9 569.2,234.9 570.2,235.1 571.3,235.2 572.4,235.5 573.5,235.5 574.6,235.8 575.6,235.7 576.7,236.1 577.8,236.2 578.8,236.4 579.8,236.4 580.8,236.5 581.9,236.2 582.9,236.3 583.9,236.3 584.9,236.4 585.9,236.3 586.9,236.2 588.0,236.4 589.0,236.5 590.0,236.3 591.0,236.1 592.0,236.1 593.0,236.2 594.1,236.1 595.1,236.2 596.1,236.2 597.1,236.3 598.1,236.1 599.1,236.0 600.1,236.1 601.2,236.2 602.2,236.3 603.2,236.3 604.2,236.2 605.2,236.0 606.2,236.2 607.3,236.2 608.3,236.0 609.3,235.9 610.3,236.1 611.3,236.2 612.3,236.1 613.4,236.0 614.4,236.1 615.4,235.9 616.4,236.0 617.4,235.9 618.5,235.8 619.5,235.9 620.6,236.1 621.6,235.9 622.6,236.0 623.7,236.0 624.7,235.9 625.8,235.9 626.8,236.0 627.8,235.8 628.9,235.8 629.9,235.8 631.0,235.7 632.0,235.6 633.1,235.6 634.1,235.7 635.1,235.7 636.2,235.6 637.2,235.4 638.3,235.3 639.3,235.4 640.5,235.2 641.7,234.7 642.9,235.8 644.1,236.7 645.3,237.7 646.4,237.7 647.4,237.7 648.5,237.6 649.6,237.4 650.6,237.5 651.7,237.5 652.8,237.3 653.8,237.4 654.9,237.3 655.9,237.4 656.9,237.4 657.9,237.8 658.9,238.0 659.9,238.3 661.0,238.3 662.0,238.5 663.0,238.7 664.0,238.6 665.0,238.9 666.0,239.0 667.0,239.1 668.0,239.2 669.0,239.2 670.0,239.5 671.0,239.6 672.0,239.7 673.0,239.8 674.0,240.0 675.0,240.1 676.1,240.1 677.1,240.3 678.1,240.6 679.1,240.6 680.1,240.8 681.1,241.0 682.1,241.0 683.1,241.0" fill="none" stroke="#d3312f" stroke-width="1.1" stroke-linejoin="round"/>
<polyline points="28.3,348.7 29.4,348.4 30.5,348.2 31.6,348.5 32.7,348.5 33.9,348.5 35.0,348.4 36.1,348.2 37.2,348.2 38.3,348.1 39.4,348.2 40.5,348.2 41.5,348.4 42.6,348.2 43.7,347.9 44.8,347.6 45.8,347.7 46.9,347.4 47.9,347.4 49.0,347.4 50.2,347.0 51.4,347.2 52.5,346.9 53.7,347.2 54.8,346.5 55.9,345.5 57.0,344.8 58.0,344.2 59.0,343.3 60.0,342.7 61.0,341.8 62.0,341.1 63.0,340.2 63.9,335.7 64.7,317.3 65.7,317.9 66.7,319.6 67.7,321.4 68.8,322.2 69.8,323.6 70.9,324.8 71.9,325.7 73.0,326.5 74.1,327.1 75.1,327.4 76.2,328.0 77.2,328.3 78.3,328.7 79.3,328.7 80.4,328.9 81.4,329.3 82.5,329.8 83.5,330.1 84.6,330.5 85.6,330.8 86.7,331.3 87.7,331.6 88.7,331.6 89.7,331.5 90.7,331.5 91.7,331.6 92.7,332.2 93.7,332.7 94.7,333.0 95.7,332.8 96.7,333.1 97.7,333.1 98.7,333.6 99.7,333.9 100.7,333.8 101.8,333.6 102.8,333.3 103.8,333.3 104.9,333.3 105.9,332.8 107.0,332.6 108.0,332.6 109.0,332.4 110.1,332.0 111.1,331.7 112.1,331.8 113.1,331.3 114.2,330.9 115.2,330.9 116.2,330.5 117.3,330.6 118.3,330.2 119.3,330.2 120.4,329.8 121.4,329.8 122.4,329.6 123.4,329.4 124.5,328.9 125.5,328.4 126.5,327.8 127.6,327.4 128.6,327.3 129.7,326.7 130.7,326.3 131.8,326.1 132.8,325.6 133.9,325.2 134.9,324.8 136.4,322.1 137.8,318.9 139.2,310.6 140.7,301.8 141.9,298.0 143.1,294.0 144.3,294.9 145.4,296.1 146.6,297.2 147.7,298.3 148.9,298.8 149.9,300.9 150.9,303.2 152.0,305.2 153.0,307.2 154.2,309.5 155.3,311.6 156.5,314.1 157.7,316.5 158.9,317.6 160.0,319.2 161.2,320.7 162.3,322.1 163.5,323.7 164.5,324.6 165.5,325.4 166.5,325.7 167.5,326.2 168.6,327.1 169.6,327.8 170.6,328.6 171.6,329.4 172.6,329.7 173.6,330.3" fill="none" stroke="#4b8fab" stroke-width="1.1" stroke-linejoin="round"/>
<polyline points="28.3,347.3 29.4,347.0 30.5,346.9 31.6,346.8 32.7,347.0 33.9,347.0 35.0,347.2 36.1,346.8 37.2,346.7 38.3,346.4 39.4,346.3 40.5,346.4 41.5,346.1 42.6,346.0 43.7,346.2 44.8,346.1 45.8,345.7 46.9,345.7 47.9,345.7 49.0,345.1 50.2,345.4 51.4,345.5 52.5,345.3 53.7,345.1 54.8,344.6 55.9,343.6 57.0,342.5 58.0,341.6 59.0,341.3 60.0,340.7 61.0,340.2 62.0,338.9 63.0,337.5 63.9,333.1 64.7,314.2 65.3,312.8 66.5,315.0 67.7,316.9 68.8,318.3 69.8,319.4 70.9,320.6 71.9,321.4 73.0,322.5 74.1,322.8 75.1,323.1 76.2,323.5 77.2,323.8 78.3,324.3 79.3,324.8 80.4,325.1 81.4,325.4 82.5,325.6 83.5,325.8 84.6,326.5 85.6,326.9 86.7,327.2 87.7,327.2 88.7,327.6 89.7,327.6 90.7,327.8 91.7,328.4 92.7,328.6 93.7,328.8 94.7,329.1 95.7,329.4 96.7,329.7 97.7,329.6 98.7,329.5 99.7,329.7 100.7,329.5 101.8,329.3 102.8,329.5 103.8,329.6 104.9,329.2 105.9,329.1 107.0,328.8 108.0,328.9 109.0,328.5 110.1,328.1 111.1,327.8 112.1,327.7 113.1,327.4 114.2,327.3 115.2,327.4 116.2,327.0 117.3,326.6 118.3,326.8 119.3,326.5 120.4,326.0 121.4,325.6 122.4,325.3 123.4,325.3 124.5,325.4 125.5,325.1 126.5,324.4 127.6,324.1 128.6,324.1 129.7,323.7 130.7,323.5 131.8,323.2 132.8,322.3 133.9,322.1 134.9,321.8 136.4,317.6 137.8,313.3 139.2,300.3 140.7,286.9 141.9,281.5 143.1,276.2 144.3,277.8 145.4,279.2 146.6,280.2 147.7,281.5 148.9,282.5 149.9,285.2 150.9,287.7 152.0,289.7 153.0,292.1 154.2,295.7 155.3,298.9 156.5,302.7 157.7,306.2 158.9,308.1 160.0,309.8 161.2,311.2 162.3,312.9 163.5,314.5 164.5,315.7 165.5,316.7 166.5,317.6 167.5,318.1 168.6,318.6 169.6,319.7 170.6,320.7 171.6,321.1 172.6,321.9 173.6,322.7" fill="none" stroke="#d3312f" stroke-width="1.1" stroke-linejoin="round"/>
<polyline points="192.7,341.9 193.8,341.9 194.9,341.7 196.0,341.8 197.1,341.9 198.2,342.0 199.3,342.0 200.3,342.1 201.3,342.0 202.3,342.2 203.4,342.3 204.4,342.7 205.4,342.8 206.4,343.1 207.4,342.8 208.4,342.5 209.4,342.6 210.4,342.6 211.4,342.3 212.4,341.9 213.4,341.8 214.4,341.4 215.4,341.1 216.4,340.7 217.4,340.3 218.4,339.8 219.4,339.3 220.4,338.7 221.6,337.7 222.7,337.2 223.8,336.4 225.0,335.4 226.2,333.7 227.3,331.7 228.5,329.5 230.2,316.8 231.6,290.0 232.7,310.0 234.4,322.9 235.6,324.9 236.7,327.3 237.9,329.8 239.1,330.7 240.2,331.3 241.4,332.0 242.5,332.9 243.7,333.4 244.7,333.9 245.7,334.3 246.7,334.2 247.7,334.6 248.7,334.8 249.7,334.9 250.7,335.3 251.7,335.6 252.7,335.5 253.7,335.3 254.7,335.3 255.7,335.5 256.7,335.7 257.7,335.7 258.7,335.3 259.7,335.6 260.7,335.6 261.7,335.3 262.7,335.1 263.7,335.0 264.7,335.3 265.8,335.0 266.8,335.1 267.9,334.7 269.0,334.6 270.0,334.4 271.1,334.1 272.1,333.8 273.2,334.0 274.3,334.1 275.3,333.6 276.4,333.6 277.4,333.5 278.4,333.3 279.4,333.1 280.4,332.6 281.4,332.3 282.4,332.0 283.4,331.8 284.4,331.5 285.4,331.3 286.4,331.1 287.4,330.6 288.4,330.4 289.4,329.8 290.4,329.4 291.4,329.3 292.5,328.8 293.5,328.5 294.6,328.1 295.6,327.6 296.7,327.3 297.7,327.1 298.8,326.5 299.8,326.0 300.8,325.1 301.8,324.1 302.8,323.6 303.8,322.8 304.8,322.2 305.8,321.3 306.8,320.6 308.0,319.1 309.1,317.8 310.3,316.5 311.9,307.2 312.9,304.8 314.0,301.9 315.0,299.1 316.0,298.2 317.0,297.3 318.0,296.7 319.4,297.2 320.8,297.6 322.0,298.5 323.1,299.3 324.3,300.1 325.5,300.7 326.7,301.5 327.9,302.3 329.0,303.6 330.2,304.5 331.2,305.1 332.3,306.1 333.3,306.8 334.3,307.8 335.4,308.5 336.4,309.4 337.4,310.0 338.5,310.9 339.5,311.8 340.5,312.3 341.5,312.8 342.5,313.6 343.5,314.4 344.6,314.8 345.6,315.2 346.6,315.8 347.6,316.6 348.6,317.1 349.6,317.9" fill="none" stroke="#4b8fab" stroke-width="1.1" stroke-linejoin="round"/>
<polyline points="192.7,338.9 193.8,338.8 194.9,338.9 196.0,338.6 197.1,338.4 198.2,338.1 199.3,338.0 200.3,338.1 201.3,338.3 202.3,338.6 203.4,339.2 204.4,339.4 205.4,339.5 206.4,339.6 207.4,339.5 208.4,339.2 209.4,338.8 210.4,338.8 211.4,338.7 212.4,338.3 213.4,337.9 214.4,337.4 215.4,337.4 216.4,336.8 217.4,336.5 218.4,336.4 219.4,335.7 220.4,335.3 221.6,334.4 222.7,333.8 223.8,332.7 225.0,331.7 226.2,329.3 227.3,326.9 228.5,324.8 230.2,312.1 231.6,276.5 232.7,297.8 234.4,315.5 235.6,318.7 236.7,321.9 237.9,324.9 239.1,326.0 240.2,326.9 241.4,327.9 242.5,328.8 243.7,329.5 244.7,329.8 245.8,330.2 246.8,330.5 247.9,330.6 248.9,331.0 250.0,331.4 251.0,331.3 252.1,331.4 253.1,331.6 254.2,331.5 255.2,331.8 256.3,331.9 257.3,331.9 258.4,332.2 259.4,332.0 260.5,331.8 261.5,331.6 262.6,331.7 263.6,331.9 264.7,332.0 265.8,331.5 266.8,331.3 267.9,331.0 269.0,330.9 270.0,330.6 271.1,330.3 272.1,330.3 273.2,330.3 274.3,330.1 275.3,329.8 276.4,329.7 277.4,329.2 278.4,328.7 279.4,328.5 280.4,328.4 281.4,328.2 282.4,327.7 283.4,327.7 284.4,327.5 285.4,327.0 286.4,327.0 287.4,326.5 288.4,326.0 289.4,325.8 290.4,325.7 291.4,325.3 292.5,324.8 293.5,324.3 294.6,323.7 295.6,323.1 296.7,322.7 297.7,322.3 298.8,322.1 299.8,321.3 300.8,320.4 301.8,319.8 302.8,319.0 303.8,317.9 304.8,317.1 305.8,316.4 306.8,315.7 308.0,313.5 309.1,311.8 310.3,309.9 311.9,295.7 312.9,291.8 314.0,288.1 315.0,284.0 316.1,282.3 317.3,280.6 318.5,280.3 319.6,280.3 320.8,280.3 322.0,281.1 323.1,282.3 324.3,283.0 325.5,283.8 326.7,285.1 327.9,286.3 329.0,287.4 330.2,288.5 331.2,289.8 332.3,291.2 333.3,292.1 334.3,293.5 335.4,294.8 336.4,296.0 337.4,297.2 338.5,298.2 339.5,299.5 340.5,300.4 341.5,301.3 342.5,302.1 343.5,302.9 344.6,303.9 345.6,304.9 346.6,305.6 347.6,306.5 348.6,307.5 349.6,308.5" fill="none" stroke="#d3312f" stroke-width="1.1" stroke-linejoin="round"/>
<polyline points="357.6,346.7 358.6,346.6 359.6,346.5 360.6,346.5 361.6,346.4 362.6,346.4 363.6,346.4 364.6,346.4 365.6,346.4 366.6,346.5 367.6,346.4 368.6,346.5 369.6,346.4 370.6,346.5 371.6,346.6 372.6,346.5 373.6,346.6 374.6,346.4 375.7,346.1 376.7,345.9 377.8,345.8 378.8,345.7 379.9,345.4 380.9,345.1 382.0,345.0 383.0,345.0 384.1,344.6 385.1,344.3 386.2,344.3 387.2,344.0 388.3,343.8 389.3,343.8 390.5,342.6 391.6,341.5 392.8,340.4 394.0,339.2 395.4,336.5 396.9,333.8 398.2,336.6 399.4,339.3 400.7,342.4 401.7,342.8 402.8,343.0 403.8,343.3 404.8,343.5 405.9,343.8 406.9,344.2 408.0,344.5 409.0,344.8 410.0,345.2 411.1,345.4 412.1,345.7 413.1,345.7 414.2,345.7 415.2,345.9 416.2,345.9 417.3,345.8 418.3,346.0 419.3,346.0 420.4,346.0 421.4,345.9 422.4,345.9 423.5,345.9 424.5,346.0 425.5,345.9 426.6,346.1 427.6,346.0 428.6,346.1 429.7,346.1 430.7,346.1 431.7,346.1 432.8,346.1 433.8,346.1 434.8,346.3 435.9,346.3 436.9,346.3 437.9,346.3 439.0,346.3 440.0,346.2 441.0,346.0 442.0,346.2 443.0,346.2 444.0,346.0 445.0,346.0 446.0,346.0 447.0,346.0 448.0,345.8 449.0,345.6 450.0,345.5 451.0,345.6 452.0,345.4 453.0,345.4 454.0,345.4 455.0,345.3 456.0,345.4 457.0,345.2 458.0,345.3 459.0,345.1 460.0,345.0 461.1,344.7 462.1,344.5 463.2,344.3 464.2,343.9 465.3,343.7 466.3,343.5 467.4,343.2 468.4,342.8 469.5,342.5 470.5,342.4 471.6,342.0 472.6,341.9 473.7,341.5 474.8,342.4 475.8,343.3 477.0,342.7 478.1,342.2 479.3,341.7 480.4,341.9 481.5,342.1 482.6,342.3 483.6,342.5 484.7,342.5 485.8,342.9 486.9,343.0 488.0,343.1 489.0,343.1 490.0,343.3 491.1,343.4 492.1,343.6 493.1,343.8 494.1,344.0 495.1,344.1 496.1,344.2 497.2,344.2 498.2,344.1 499.2,344.3 500.2,344.5 501.2,344.5 502.3,344.7 503.3,344.8 504.3,344.8 505.3,345.0 506.3,344.9 507.4,345.0 508.4,345.1 509.4,345.1 510.4,345.3 511.4,345.3 512.4,345.4 513.5,345.5 514.5,345.7 515.5,345.8" fill="none" stroke="#4b8fab" stroke-width="1.1" stroke-linejoin="round"/>
<polyline points="357.6,344.4 358.6,344.4 359.6,344.4 360.6,344.5 361.6,344.3 362.6,344.3 363.6,344.3 364.6,344.4 365.6,344.2 366.6,344.1 367.6,344.1 368.6,344.2 369.6,344.3 370.6,344.1 371.6,344.2 372.6,344.2 373.6,344.3 374.6,344.1 375.7,343.7 376.7,343.6 377.8,343.3 378.8,343.0 379.9,342.8 380.9,342.5 382.0,342.4 383.0,342.2 384.1,341.9 385.1,341.6 386.2,341.5 387.2,341.4 388.3,341.1 389.3,340.8 390.5,339.5 391.6,338.2 392.8,337.1 394.0,336.0 395.4,332.5 396.9,329.1 398.2,333.0 399.4,336.7 400.7,340.4 401.7,340.7 402.8,341.2 403.8,341.6 404.8,341.9 405.9,342.1 406.9,342.4 408.0,342.6 409.0,343.1 410.0,343.4 411.1,343.8 412.1,344.1 413.1,344.2 414.2,344.1 415.2,344.1 416.2,344.0 417.3,344.0 418.3,344.2 419.3,344.1 420.4,344.0 421.4,344.2 422.4,344.1 423.5,344.1 424.5,344.2 425.5,344.4 426.6,344.2 427.6,344.3 428.6,344.2 429.7,344.3 430.7,344.3 431.7,344.2 432.8,344.3 433.8,344.4 434.8,344.3 435.9,344.3 436.9,344.5 437.9,344.6 439.0,344.6 440.0,344.6 441.0,344.5 442.0,344.3 443.0,344.2 444.0,344.1 445.0,344.0 446.0,343.9 447.0,343.8 448.0,344.0 449.0,343.9 450.0,343.8 451.0,343.8 452.0,343.8 453.0,343.8 454.0,343.8 455.0,343.5 456.0,343.4 457.0,343.3 458.0,343.2 459.0,343.2 460.0,343.1 461.1,342.9 462.1,342.4 463.2,342.2 464.2,341.9 465.3,341.5 466.3,341.0 467.4,340.4 468.4,340.3 469.5,340.0 470.5,339.5 471.6,339.0 472.6,338.7 473.7,338.3 474.8,339.4 475.8,340.7 477.0,340.1 478.1,339.4 479.3,338.5 480.4,338.8 481.5,339.1 482.6,339.4 483.6,339.5 484.7,339.9 485.8,340.0 486.9,340.2 488.0,340.5 489.0,340.7 490.0,340.9 491.1,340.9 492.1,340.9 493.1,341.1 494.1,341.3 495.1,341.5 496.1,341.4 497.2,341.6 498.2,341.7 499.2,341.8 500.2,341.8 501.2,342.0 502.3,342.1 503.3,342.3 504.3,342.3 505.3,342.4 506.3,342.5 507.4,342.6 508.4,342.7 509.4,343.1 510.4,343.2 511.4,343.4 512.4,343.5 513.5,343.7 514.5,343.7 515.5,343.7" fill="none" stroke="#d3312f" stroke-width="1.1" stroke-linejoin="round"/>
<polyline points="523.1,352.0 524.1,351.8 525.1,351.7 526.1,351.6 527.1,351.5 528.2,351.3 529.2,351.1 530.2,351.0 531.2,350.8 532.2,350.7 533.2,350.6 534.2,350.7 535.2,350.5 536.2,350.4 537.2,350.4 538.3,350.4 539.3,350.2 540.3,349.9 541.3,349.8 542.3,349.7 543.3,349.7 544.3,349.3 545.3,349.2 546.3,349.1 547.3,349.0 548.3,348.8 549.3,348.8 550.4,348.5 551.4,348.4 552.4,348.4 553.4,348.0 554.4,347.8 555.4,347.7 556.4,347.5 557.4,347.2 558.4,346.7 559.5,346.4 560.5,346.2 561.5,345.9 562.5,345.5 563.5,345.4 564.6,345.5 565.6,345.5 566.6,345.5 567.6,345.6 568.7,345.5 569.7,345.6 570.7,345.5 571.8,345.6 572.8,345.5 573.8,345.6 574.9,345.5 575.9,345.5 576.9,345.7 577.9,345.7 579.0,345.8 580.0,345.9 581.0,345.9 582.0,345.9 583.0,345.7 584.0,345.7 585.0,345.9 586.0,345.9 587.0,345.9 588.0,345.8 589.0,345.9 590.0,345.8 591.1,345.8 592.1,345.6 593.1,345.5 594.1,345.7 595.1,345.6 596.1,345.7 597.1,345.6 598.1,345.7 599.1,345.5 600.1,345.4 601.1,345.5 602.1,345.5 603.1,345.5 604.1,345.5 605.1,345.5 606.1,345.6 607.1,345.5 608.1,345.3 609.1,345.3 610.1,345.3 611.2,345.5 612.2,345.5 613.2,345.5 614.2,345.3 615.2,345.5 616.2,345.3 617.2,345.2 618.2,345.3 619.2,345.2 620.2,345.2 621.2,345.1 622.2,345.0 623.2,345.0 624.2,344.9 625.2,344.9 626.2,344.9 627.2,344.9 628.2,345.0 629.2,345.0 630.2,345.2 631.3,345.2 632.3,345.2 633.3,345.2 634.3,345.0 635.3,344.9 636.3,345.0 637.3,345.2 638.3,345.0 639.3,345.1 640.3,345.2 641.3,345.2 642.4,345.2 643.4,345.2 644.4,345.3 645.5,345.4 646.5,345.7 647.6,344.8 648.6,344.1 649.7,343.2 650.8,342.3 651.8,342.0 652.9,341.7 653.9,341.5 654.9,340.9 656.0,340.5 657.0,340.2 658.0,340.6 659.0,340.9 660.0,341.1 661.1,341.3 662.1,341.8 663.1,342.0 664.1,342.2 665.1,342.7 666.1,342.8 667.1,343.2 668.1,343.6 669.1,343.9 670.1,344.2 671.1,344.4 672.1,344.6 673.2,344.7 674.2,345.0 675.2,345.3 676.2,345.4 677.2,345.5 678.3,345.7 679.3,346.0 680.3,346.2" fill="none" stroke="#4b8fab" stroke-width="1.1" stroke-linejoin="round"/>
<polyline points="523.1,350.7 524.1,350.5 525.1,350.5 526.1,350.3 527.1,350.3 528.2,350.1 529.2,350.1 530.2,349.8 531.2,349.9 532.2,349.8 533.2,349.5 534.2,349.5 535.2,349.2 536.2,349.2 537.2,349.2 538.3,348.9 539.3,348.7 540.3,348.5 541.3,348.4 542.3,348.3 543.3,348.2 544.3,348.0 545.3,348.0 546.3,347.9 547.3,347.7 548.3,347.6 549.3,347.6 550.4,347.4 551.4,347.4 552.4,347.4 553.4,347.2 554.4,347.0 555.4,346.7 556.4,346.7 557.4,346.1 558.4,345.6 559.5,345.2 560.5,344.8 561.5,344.2 562.5,343.7 563.5,343.7 564.6,343.7 565.6,343.9 566.6,343.8 567.6,343.9 568.7,343.9 569.7,344.0 570.7,344.2 571.8,344.3 572.8,344.4 573.8,344.6 574.9,344.7 575.9,344.7 576.9,344.9 577.9,344.8 579.0,344.9 580.0,345.0 581.0,345.0 582.0,344.9 583.0,344.8 584.0,344.9 585.0,344.8 586.0,344.8 587.0,344.9 588.0,345.0 589.0,345.0 590.0,344.8 591.1,344.7 592.1,344.6 593.1,344.7 594.1,344.7 595.1,344.8 596.1,344.7 597.1,344.7 598.1,344.8 599.1,344.7 600.1,344.6 601.1,344.6 602.1,344.7 603.1,344.7 604.1,344.6 605.1,344.4 606.1,344.3 607.1,344.2 608.1,344.1 609.1,344.2 610.1,344.2 611.2,344.1 612.2,344.3 613.2,344.3 614.2,344.3 615.2,344.4 616.2,344.2 617.2,344.2 618.2,344.2 619.2,344.1 620.2,344.0 621.2,344.1 622.2,344.2 623.2,344.3 624.2,344.2 625.2,344.0 626.2,343.9 627.2,343.8 628.2,344.0 629.2,343.9 630.2,343.8 631.3,343.7 632.3,343.7 633.3,343.9 634.3,343.9 635.3,343.7 636.3,343.7 637.3,343.8 638.3,343.7 639.3,343.8 640.3,343.8 641.3,343.7 642.4,344.0 643.4,344.2 644.4,344.4 645.5,344.3 646.5,344.3 647.6,343.3 648.6,342.3 649.7,341.3 650.8,340.4 651.8,339.8 652.9,339.0 653.9,338.4 654.9,337.7 656.0,337.2 657.0,336.5 658.0,336.6 659.0,336.9 660.0,337.2 661.1,337.2 662.1,337.5 663.1,337.5 664.1,337.9 665.1,338.5 666.1,338.9 667.1,339.4 668.1,339.8 669.1,340.2 670.1,340.7 671.1,341.0 672.1,341.2 673.2,341.5 674.2,341.9 675.2,342.2 676.2,342.5 677.2,342.9 678.3,343.2 679.3,343.8 680.3,344.1" fill="none" stroke="#d3312f" stroke-width="1.1" stroke-linejoin="round"/>
<text x="8.7" y="419.5" font-size="9.0" text-anchor="start" fill="#222" font-weight="bold" >d</text>
<text x="77.0" y="429.8" font-size="9.2" text-anchor="end" fill="#222" font-weight="normal" >TOP1 ChIP</text>
<text x="77.0" y="462.6" font-size="9.2" text-anchor="end" fill="#222" font-weight="normal" >RNAP2(S2P)</text>
<text x="77.0" y="473.8" font-size="9.2" text-anchor="end" fill="#222" font-weight="normal" >ChIP</text>
<text x="77.0" y="504.8" font-size="9.2" text-anchor="end" fill="#222" font-weight="normal" >RNAseq</text>
<text x="45.6" y="537.3" font-size="9.2" text-anchor="middle" fill="#222" font-weight="normal" >Difference</text>
<text x="45.6" y="548.7" font-size="9.2" text-anchor="middle" fill="#222" font-weight="normal" >(WT-Mut)</text>
<line x1="82.50" y1="412.00" x2="82.50" y2="439.80" stroke="#333" stroke-width="1.0" />
<line x1="82.50" y1="450.00" x2="82.50" y2="478.00" stroke="#333" stroke-width="1.0" />
<line x1="82.50" y1="488.00" x2="82.50" y2="515.30" stroke="#333" stroke-width="1.0" />
<line x1="71.70" y1="521.00" x2="71.70" y2="562.50" stroke="#333" stroke-width="1.0" />
<text x="104.8" y="417.7" font-size="7.9" text-anchor="end" fill="#3587ad" font-weight="normal" >WT</text>
<text x="104.8" y="456.1" font-size="7.9" text-anchor="end" fill="#3587ad" font-weight="normal" >WT</text>
<text x="104.8" y="494.6" font-size="7.9" text-anchor="end" fill="#3587ad" font-weight="normal" >WT</text>
<text x="102.9" y="437.0" font-size="7.9" text-anchor="end" fill="#d0281c" font-weight="normal" >Mut</text>
<text x="102.9" y="475.2" font-size="7.9" text-anchor="end" fill="#d0281c" font-weight="normal" >Mut</text>
<text x="102.9" y="513.9" font-size="7.9" text-anchor="end" fill="#d0281c" font-weight="normal" >Mut</text>
<text x="106.7" y="530.4" font-size="7.5" text-anchor="end" fill="#222" font-weight="normal" >TOP1</text>
<text x="106.7" y="544.8" font-size="7.5" text-anchor="end" fill="#222" font-weight="normal" >S2P</text>
<text x="107.0" y="558.7" font-size="7.6" text-anchor="end" fill="#222" font-weight="normal" >RNA-seq</text>
<rect x="113.00" y="405.50" width="196.50" height="231.50" fill="#f8f8f8" stroke="#b8b8b8" stroke-width="1.0" rx="1.5"/>
<rect x="314.50" y="405.50" width="186.10" height="231.50" fill="#f8f8f8" stroke="#b8b8b8" stroke-width="1.0" rx="1.5"/>
<line x1="113.50" y1="424.60" x2="309.00" y2="424.60" stroke="#dcdcdc" stroke-width="0.6" />
<line x1="113.50" y1="443.20" x2="309.00" y2="443.20" stroke="#dcdcdc" stroke-width="0.6" />
<line x1="113.50" y1="461.80" x2="309.00" y2="461.80" stroke="#dcdcdc" stroke-width="0.6" />
<line x1="113.50" y1="480.40" x2="309.00" y2="480.40" stroke="#dcdcdc" stroke-width="0.6" />
<line x1="113.50" y1="499.00" x2="309.00" y2="499.00" stroke="#dcdcdc" stroke-width="0.6" />
<line x1="113.50" y1="517.60" x2="309.00" y2="517.60" stroke="#dcdcdc" stroke-width="0.6" />
<line x1="113.50" y1="578.50" x2="309.00" y2="578.50" stroke="#8a8a8a" stroke-width="0.8" />
<line x1="113.50" y1="580.20" x2="309.00" y2="580.20" stroke="#8a8a8a" stroke-width="0.6" />
<line x1="315.00" y1="424.60" x2="500.10" y2="424.60" stroke="#dcdcdc" stroke-width="0.6" />
<line x1="315.00" y1="443.20" x2="500.10" y2="443.20" stroke="#dcdcdc" stroke-width="0.6" />
<line x1="315.00" y1="461.80" x2="500.10" y2="461.80" stroke="#dcdcdc" stroke-width="0.6" />
<line x1="315.00" y1="480.40" x2="500.10" y2="480.40" stroke="#dcdcdc" stroke-width="0.6" />
<line x1="315.00" y1="499.00" x2="500.10" y2="499.00" stroke="#dcdcdc" stroke-width="0.6" />
<line x1="315.00" y1="517.60" x2="500.10" y2="517.60" stroke="#dcdcdc" stroke-width="0.6" />
<line x1="315.00" y1="578.50" x2="500.10" y2="578.50" stroke="#8a8a8a" stroke-width="0.8" />
<line x1="315.00" y1="580.20" x2="500.10" y2="580.20" stroke="#8a8a8a" stroke-width="0.6" />
<path d="M113.8,423.5L113.8,421.3L114.6,421.3L114.6,421.2L115.4,421.2L115.4,421.9L116.2,421.9L116.2,421.0L117.0,421.0L117.0,421.0L117.8,421.0L117.8,419.7L118.6,419.7L118.6,419.6L119.4,419.6L119.4,419.8L120.2,419.8L120.2,420.7L121.0,420.7L121.0,419.7L121.8,419.7L121.8,420.4L122.6,420.4L122.6,419.9L123.4,419.9L123.4,418.7L124.2,418.7L124.2,418.1L125.0,418.1L125.0,417.2L125.8,417.2L125.8,418.1L126.6,418.1L126.6,417.8L127.4,417.8L127.4,416.1L128.2,416.1L128.2,415.1L129.0,415.1L129.0,417.5L129.8,417.5L129.8,416.7L130.6,416.7L130.6,419.2L131.4,419.2L131.4,420.3L132.2,420.3L132.2,420.3L133.0,420.3L133.0,420.8L133.8,420.8L133.8,421.5L134.6,421.5L134.6,422.3L135.4,422.3L135.4,420.5L136.2,420.5L136.2,418.5L137.0,418.5L137.0,420.4L137.8,420.4L137.8,416.6L138.6,416.6L138.6,416.1L139.4,416.1L139.4,415.7L140.2,415.7L140.2,416.8L141.0,416.8L141.0,415.3L141.8,415.3L141.8,418.8L142.6,418.8L142.6,416.5L143.4,416.5L143.4,419.2L144.2,419.2L144.2,416.6L145.0,416.6L145.0,416.9L145.8,416.9L145.8,416.7L146.6,416.7L146.6,415.5L147.4,415.5L147.4,416.0L148.2,416.0L148.2,415.2L149.0,415.2L149.0,411.5L149.8,411.5L149.8,411.1L150.6,411.1L150.6,409.2L151.4,409.2L151.4,409.0L152.2,409.0L152.2,410.1L153.0,410.1L153.0,408.0L153.8,408.0L153.8,416.2L154.6,416.2L154.6,418.7L155.4,418.7L155.4,416.4L156.2,416.4L156.2,417.2L157.0,417.2L157.0,418.6L157.8,418.6L157.8,417.6L158.6,417.6L158.6,417.0L159.4,417.0L159.4,413.0L160.2,413.0L160.2,412.9L161.0,412.9L161.0,413.7L161.8,413.7L161.8,413.1L162.6,413.1L162.6,412.9L163.4,412.9L163.4,415.7L164.2,415.7L164.2,418.1L165.0,418.1L165.0,417.8L165.8,417.8L165.8,418.6L166.6,418.6L166.6,418.0L167.4,418.0L167.4,413.5L168.2,413.5L168.2,416.5L169.0,416.5L169.0,414.7L169.8,414.7L169.8,408.5L170.6,408.5L170.6,410.1L171.4,410.1L171.4,413.7L172.2,413.7L172.2,415.9L173.0,415.9L173.0,415.1L173.8,415.1L173.8,417.5L174.6,417.5L174.6,414.2L175.4,414.2L175.4,414.0L176.2,414.0L176.2,415.5L177.0,415.5L177.0,416.1L177.8,416.1L177.8,412.7L178.6,412.7L178.6,413.0L179.4,413.0L179.4,416.3L180.2,416.3L180.2,421.0L181.0,421.0L181.0,418.0L181.8,418.0L181.8,417.7L182.6,417.7L182.6,416.6L183.4,416.6L183.4,414.5L184.2,414.5L184.2,413.8L185.0,413.8L185.0,413.9L185.8,413.9L185.8,415.2L186.6,415.2L186.6,418.0L187.4,418.0L187.4,417.2L188.2,417.2L188.2,416.2L189.0,416.2L189.0,416.8L189.8,416.8L189.8,420.5L190.6,420.5L190.6,421.7L191.4,421.7L191.4,420.9L192.2,420.9L192.2,416.0L193.0,416.0L193.0,417.3L193.8,417.3L193.8,416.1L194.6,416.1L194.6,415.6L195.4,415.6L195.4,413.1L196.2,413.1L196.2,414.8L197.0,414.8L197.0,415.0L197.8,415.0L197.8,415.0L198.6,415.0L198.6,414.0L199.4,414.0L199.4,415.2L200.2,415.2L200.2,417.5L201.0,417.5L201.0,415.1L201.8,415.1L201.8,412.9L202.6,412.9L202.6,416.2L203.4,416.2L203.4,414.6L204.2,414.6L204.2,415.1L205.0,415.1L205.0,415.3L205.8,415.3L205.8,414.7L206.6,414.7L206.6,412.1L207.4,412.1L207.4,416.0L208.2,416.0L208.2,414.9L209.0,414.9L209.0,412.6L209.8,412.6L209.8,410.8L210.6,410.8L210.6,413.0L211.4,413.0L211.4,416.1L212.2,416.1L212.2,418.4L213.0,418.4L213.0,416.1L213.8,416.1L213.8,420.3L214.6,420.3L214.6,417.7L215.4,417.7L215.4,417.4L216.2,417.4L216.2,417.7L217.0,417.7L217.0,418.4L217.8,418.4L217.8,416.7L218.6,416.7L218.6,414.3L219.4,414.3L219.4,412.8L220.2,412.8L220.2,411.0L221.0,411.0L221.0,412.9L221.8,412.9L221.8,412.3L222.6,412.3L222.6,415.1L223.4,415.1L223.4,411.1L224.2,411.1L224.2,414.4L225.0,414.4L225.0,413.8L225.8,413.8L225.8,419.2L226.6,419.2L226.6,417.4L227.4,417.4L227.4,414.8L228.2,414.8L228.2,412.2L229.0,412.2L229.0,416.3L229.8,416.3L229.8,417.8L230.6,417.8L230.6,414.3L231.4,414.3L231.4,412.3L232.2,412.3L232.2,415.1L233.0,415.1L233.0,415.6L233.8,415.6L233.8,414.2L234.6,414.2L234.6,414.0L235.4,414.0L235.4,413.9L236.2,413.9L236.2,418.3L237.0,418.3L237.0,416.4L237.8,416.4L237.8,419.8L238.6,419.8L238.6,422.4L239.4,422.4L239.4,419.2L240.2,419.2L240.2,417.0L241.0,417.0L241.0,416.8L241.8,416.8L241.8,414.9L242.6,414.9L242.6,415.4L243.4,415.4L243.4,417.1L244.2,417.1L244.2,417.0L245.0,417.0L245.0,414.0L245.8,414.0L245.8,415.3L246.6,415.3L246.6,414.0L247.4,414.0L247.4,413.1L248.2,413.1L248.2,413.2L249.0,413.2L249.0,412.7L249.8,412.7L249.8,413.2L250.6,413.2L250.6,412.8L251.4,412.8L251.4,414.1L252.2,414.1L252.2,415.6L253.0,415.6L253.0,413.8L253.8,413.8L253.8,414.7L254.6,414.7L254.6,414.2L255.4,414.2L255.4,415.7L256.2,415.7L256.2,415.4L257.0,415.4L257.0,411.2L257.8,411.2L257.8,415.1L258.6,415.1L258.6,416.0L259.4,416.0L259.4,416.6L260.2,416.6L260.2,413.2L261.0,413.2L261.0,408.7L261.8,408.7L261.8,414.3L262.6,414.3L262.6,414.6L263.4,414.6L263.4,415.0L264.2,415.0L264.2,411.4L265.0,411.4L265.0,416.0L265.8,416.0L265.8,413.8L266.6,413.8L266.6,414.3L267.4,414.3L267.4,415.5L268.2,415.5L268.2,417.0L269.0,417.0L269.0,414.6L269.8,414.6L269.8,412.2L270.6,412.2L270.6,409.0L271.4,409.0L271.4,412.7L272.2,412.7L272.2,411.0L273.0,411.0L273.0,408.0L273.8,408.0L273.8,409.3L274.6,409.3L274.6,412.7L275.4,412.7L275.4,413.0L276.2,413.0L276.2,414.5L277.0,414.5L277.0,414.4L277.8,414.4L277.8,416.4L278.6,416.4L278.6,412.7L279.4,412.7L279.4,409.8L280.2,409.8L280.2,410.8L281.0,410.8L281.0,408.0L281.8,408.0L281.8,413.6L282.6,413.6L282.6,411.4L283.4,411.4L283.4,416.9L284.2,416.9L284.2,414.1L285.0,414.1L285.0,412.3L285.8,412.3L285.8,412.6L286.6,412.6L286.6,413.2L287.4,413.2L287.4,410.7L288.2,410.7L288.2,409.6L289.0,409.6L289.0,408.0L289.8,408.0L289.8,408.1L290.6,408.1L290.6,414.1L291.4,414.1L291.4,413.4L292.2,413.4L292.2,414.6L293.0,414.6L293.0,418.8L293.8,418.8L293.8,420.7L294.6,420.7L294.6,421.5L295.4,421.5L295.4,420.9L296.2,420.9L296.2,420.9L297.0,420.9L297.0,421.1L297.8,421.1L297.8,421.1L298.6,421.1L298.6,420.7L299.4,420.7L299.4,420.9L300.2,420.9L300.2,421.3L301.0,421.3L301.0,421.0L301.8,421.0L301.8,421.2L302.6,421.2L302.6,421.5L303.4,421.5L303.4,420.8L304.2,420.8L304.2,420.4L305.0,420.4L305.0,420.5L305.8,420.5L305.8,421.4L306.6,421.4L306.6,421.1L307.4,421.1L307.4,422.2L308.2,422.2L308.2,422.1L309.0,422.1L309.6,423.5Z" fill="#347b95"/>
<path d="M113.8,442.0L113.8,440.1L114.6,440.1L114.6,439.7L115.4,439.7L115.4,440.3L116.2,440.3L116.2,440.5L117.0,440.5L117.0,439.7L117.8,439.7L117.8,439.7L118.6,439.7L118.6,439.2L119.4,439.2L119.4,440.1L120.2,440.1L120.2,439.3L121.0,439.3L121.0,438.8L121.8,438.8L121.8,439.9L122.6,439.9L122.6,439.5L123.4,439.5L123.4,439.0L124.2,439.0L124.2,438.3L125.0,438.3L125.0,438.1L125.8,438.1L125.8,437.4L126.6,437.4L126.6,439.0L127.4,439.0L127.4,437.7L128.2,437.7L128.2,436.0L129.0,436.0L129.0,437.1L129.8,437.1L129.8,438.9L130.6,438.9L130.6,440.1L131.4,440.1L131.4,440.7L132.2,440.7L132.2,441.1L133.0,441.1L133.0,441.7L133.8,441.7L133.8,439.7L134.6,439.7L134.6,438.0L135.4,438.0L135.4,439.0L136.2,439.0L136.2,440.1L137.0,440.1L137.0,440.1L137.8,440.1L137.8,436.9L138.6,436.9L138.6,437.1L139.4,437.1L139.4,436.3L140.2,436.3L140.2,436.9L141.0,436.9L141.0,435.9L141.8,435.9L141.8,437.3L142.6,437.3L142.6,436.2L143.4,436.2L143.4,436.8L144.2,436.8L144.2,436.5L145.0,436.5L145.0,435.3L145.8,435.3L145.8,435.9L146.6,435.9L146.6,435.8L147.4,435.8L147.4,435.6L148.2,435.6L148.2,435.6L149.0,435.6L149.0,436.3L149.8,436.3L149.8,437.8L150.6,437.8L150.6,437.8L151.4,437.8L151.4,434.9L152.2,434.9L152.2,434.9L153.0,434.9L153.0,438.2L153.8,438.2L153.8,437.9L154.6,437.9L154.6,437.9L155.4,437.9L155.4,436.8L156.2,436.8L156.2,438.0L157.0,438.0L157.0,433.7L157.8,433.7L157.8,437.0L158.6,437.0L158.6,436.4L159.4,436.4L159.4,434.6L160.2,434.6L160.2,436.7L161.0,436.7L161.0,439.9L161.8,439.9L161.8,437.5L162.6,437.5L162.6,438.0L163.4,438.0L163.4,436.9L164.2,436.9L164.2,437.1L165.0,437.1L165.0,435.9L165.8,435.9L165.8,435.2L166.6,435.2L166.6,433.6L167.4,433.6L167.4,437.6L168.2,437.6L168.2,435.8L169.0,435.8L169.0,437.1L169.8,437.1L169.8,435.1L170.6,435.1L170.6,435.9L171.4,435.9L171.4,435.0L172.2,435.0L172.2,436.6L173.0,436.6L173.0,436.6L173.8,436.6L173.8,438.9L174.6,438.9L174.6,439.4L175.4,439.4L175.4,438.0L176.2,438.0L176.2,437.7L177.0,437.7L177.0,434.4L177.8,434.4L177.8,434.1L178.6,434.1L178.6,436.0L179.4,436.0L179.4,434.7L180.2,434.7L180.2,434.5L181.0,434.5L181.0,435.5L181.8,435.5L181.8,435.8L182.6,435.8L182.6,436.0L183.4,436.0L183.4,433.8L184.2,433.8L184.2,436.7L185.0,436.7L185.0,436.6L185.8,436.6L185.8,437.6L186.6,437.6L186.6,437.1L187.4,437.1L187.4,437.8L188.2,437.8L188.2,436.0L189.0,436.0L189.0,434.7L189.8,434.7L189.8,432.9L190.6,432.9L190.6,440.1L191.4,440.1L191.4,437.1L192.2,437.1L192.2,440.4L193.0,440.4L193.0,439.1L193.8,439.1L193.8,437.2L194.6,437.2L194.6,438.1L195.4,438.1L195.4,439.1L196.2,439.1L196.2,436.4L197.0,436.4L197.0,437.7L197.8,437.7L197.8,435.3L198.6,435.3L198.6,437.4L199.4,437.4L199.4,439.7L200.2,439.7L200.2,438.3L201.0,438.3L201.0,437.1L201.8,437.1L201.8,436.3L202.6,436.3L202.6,437.3L203.4,437.3L203.4,437.0L204.2,437.0L204.2,436.7L205.0,436.7L205.0,437.8L205.8,437.8L205.8,439.5L206.6,439.5L206.6,434.7L207.4,434.7L207.4,436.4L208.2,436.4L208.2,436.9L209.0,436.9L209.0,437.8L209.8,437.8L209.8,438.2L210.6,438.2L210.6,436.6L211.4,436.6L211.4,437.7L212.2,437.7L212.2,436.8L213.0,436.8L213.0,437.1L213.8,437.1L213.8,436.5L214.6,436.5L214.6,434.7L215.4,434.7L215.4,434.8L216.2,434.8L216.2,437.6L217.0,437.6L217.0,435.3L217.8,435.3L217.8,436.4L218.6,436.4L218.6,435.5L219.4,435.5L219.4,437.6L220.2,437.6L220.2,438.7L221.0,438.7L221.0,436.5L221.8,436.5L221.8,437.0L222.6,437.0L222.6,435.3L223.4,435.3L223.4,436.0L224.2,436.0L224.2,436.4L225.0,436.4L225.0,436.9L225.8,436.9L225.8,434.7L226.6,434.7L226.6,437.2L227.4,437.2L227.4,438.0L228.2,438.0L228.2,435.8L229.0,435.8L229.0,436.8L229.8,436.8L229.8,434.9L230.6,434.9L230.6,436.3L231.4,436.3L231.4,435.9L232.2,435.9L232.2,434.7L233.0,434.7L233.0,434.7L233.8,434.7L233.8,435.7L234.6,435.7L234.6,434.0L235.4,434.0L235.4,437.9L236.2,437.9L236.2,434.6L237.0,434.6L237.0,434.3L237.8,434.3L237.8,433.5L238.6,433.5L238.6,436.0L239.4,436.0L239.4,436.6L240.2,436.6L240.2,436.6L241.0,436.6L241.0,438.4L241.8,438.4L241.8,437.1L242.6,437.1L242.6,435.8L243.4,435.8L243.4,433.7L244.2,433.7L244.2,435.5L245.0,435.5L245.0,437.5L245.8,437.5L245.8,438.2L246.6,438.2L246.6,440.1L247.4,440.1L247.4,437.7L248.2,437.7L248.2,436.7L249.0,436.7L249.0,437.3L249.8,437.3L249.8,436.6L250.6,436.6L250.6,435.6L251.4,435.6L251.4,437.7L252.2,437.7L252.2,435.4L253.0,435.4L253.0,438.6L253.8,438.6L253.8,438.3L254.6,438.3L254.6,437.3L255.4,437.3L255.4,438.0L256.2,438.0L256.2,436.0L257.0,436.0L257.0,435.4L257.8,435.4L257.8,435.7L258.6,435.7L258.6,437.3L259.4,437.3L259.4,438.8L260.2,438.8L260.2,437.2L261.0,437.2L261.0,435.8L261.8,435.8L261.8,437.2L262.6,437.2L262.6,437.7L263.4,437.7L263.4,439.5L264.2,439.5L264.2,435.0L265.0,435.0L265.0,437.7L265.8,437.7L265.8,437.2L266.6,437.2L266.6,437.6L267.4,437.6L267.4,437.1L268.2,437.1L268.2,434.3L269.0,434.3L269.0,433.7L269.8,433.7L269.8,434.7L270.6,434.7L270.6,429.6L271.4,429.6L271.4,432.7L272.2,432.7L272.2,436.7L273.0,436.7L273.0,437.3L273.8,437.3L273.8,433.1L274.6,433.1L274.6,431.3L275.4,431.3L275.4,434.9L276.2,434.9L276.2,433.9L277.0,433.9L277.0,434.1L277.8,434.1L277.8,433.0L278.6,433.0L278.6,436.6L279.4,436.6L279.4,433.4L280.2,433.4L280.2,433.8L281.0,433.8L281.0,437.4L281.8,437.4L281.8,433.8L282.6,433.8L282.6,438.0L283.4,438.0L283.4,433.7L284.2,433.7L284.2,435.6L285.0,435.6L285.0,435.1L285.8,435.1L285.8,434.5L286.6,434.5L286.6,432.2L287.4,432.2L287.4,428.9L288.2,428.9L288.2,431.8L289.0,431.8L289.0,433.8L289.8,433.8L289.8,430.7L290.6,430.7L290.6,432.0L291.4,432.0L291.4,433.9L292.2,433.9L292.2,437.6L293.0,437.6L293.0,440.5L293.8,440.5L293.8,441.3L294.6,441.3L294.6,440.6L295.4,440.6L295.4,441.2L296.2,441.2L296.2,440.2L297.0,440.2L297.0,440.4L297.8,440.4L297.8,441.0L298.6,441.0L298.6,440.9L299.4,440.9L299.4,440.6L300.2,440.6L300.2,440.4L301.0,440.4L301.0,440.6L301.8,440.6L301.8,441.2L302.6,441.2L302.6,440.7L303.4,440.7L303.4,440.8L304.2,440.8L304.2,440.0L305.0,440.0L305.0,440.3L305.8,440.3L305.8,440.6L306.6,440.6L306.6,440.5L307.4,440.5L307.4,440.7L308.2,440.7L308.2,440.8L309.0,440.8L309.6,442.0Z" fill="#c00000"/>
<path d="M113.8,460.6L113.8,460.1L114.6,460.1L114.6,460.2L115.4,460.2L115.4,460.2L116.2,460.2L116.2,460.1L117.0,460.1L117.0,460.3L117.8,460.3L117.8,460.1L118.6,460.1L118.6,460.1L119.4,460.1L119.4,459.9L120.2,459.9L120.2,460.1L121.0,460.1L121.0,460.1L121.8,460.1L121.8,460.1L122.6,460.1L122.6,460.0L123.4,460.0L123.4,460.2L124.2,460.2L124.2,460.1L125.0,460.1L125.0,460.1L125.8,460.1L125.8,460.0L126.6,460.0L126.6,459.7L127.4,459.7L127.4,459.4L128.2,459.4L128.2,458.6L129.0,458.6L129.0,458.1L129.8,458.1L129.8,459.6L130.6,459.6L130.6,460.0L131.4,460.0L131.4,459.9L132.2,459.9L132.2,459.5L133.0,459.5L133.0,459.2L133.8,459.2L133.8,459.1L134.6,459.1L134.6,458.5L135.4,458.5L135.4,458.4L136.2,458.4L136.2,459.2L137.0,459.2L137.0,459.3L137.8,459.3L137.8,459.5L138.6,459.5L138.6,459.3L139.4,459.3L139.4,459.6L140.2,459.6L140.2,459.0L141.0,459.0L141.0,458.3L141.8,458.3L141.8,458.4L142.6,458.4L142.6,459.1L143.4,459.1L143.4,459.2L144.2,459.2L144.2,459.5L145.0,459.5L145.0,459.4L145.8,459.4L145.8,459.3L146.6,459.3L146.6,458.6L147.4,458.6L147.4,459.0L148.2,459.0L148.2,459.6L149.0,459.6L149.0,459.5L149.8,459.5L149.8,458.3L150.6,458.3L150.6,458.5L151.4,458.5L151.4,458.8L152.2,458.8L152.2,458.2L153.0,458.2L153.0,458.7L153.8,458.7L153.8,458.3L154.6,458.3L154.6,458.9L155.4,458.9L155.4,459.0L156.2,459.0L156.2,459.1L157.0,459.1L157.0,458.7L157.8,458.7L157.8,459.0L158.6,459.0L158.6,459.0L159.4,459.0L159.4,458.6L160.2,458.6L160.2,459.0L161.0,459.0L161.0,459.1L161.8,459.1L161.8,458.4L162.6,458.4L162.6,458.1L163.4,458.1L163.4,459.2L164.2,459.2L164.2,458.7L165.0,458.7L165.0,459.0L165.8,459.0L165.8,458.9L166.6,458.9L166.6,459.4L167.4,459.4L167.4,458.9L168.2,458.9L168.2,457.3L169.0,457.3L169.0,457.9L169.8,457.9L169.8,458.3L170.6,458.3L170.6,458.4L171.4,458.4L171.4,458.1L172.2,458.1L172.2,459.0L173.0,459.0L173.0,458.8L173.8,458.8L173.8,458.5L174.6,458.5L174.6,458.4L175.4,458.4L175.4,459.2L176.2,459.2L176.2,458.7L177.0,458.7L177.0,458.1L177.8,458.1L177.8,458.6L178.6,458.6L178.6,459.8L179.4,459.8L179.4,459.3L180.2,459.3L180.2,458.4L181.0,458.4L181.0,458.1L181.8,458.1L181.8,458.6L182.6,458.6L182.6,458.7L183.4,458.7L183.4,458.6L184.2,458.6L184.2,458.1L185.0,458.1L185.0,458.6L185.8,458.6L185.8,458.8L186.6,458.8L186.6,458.5L187.4,458.5L187.4,458.8L188.2,458.8L188.2,458.3L189.0,458.3L189.0,458.8L189.8,458.8L189.8,458.6L190.6,458.6L190.6,458.3L191.4,458.3L191.4,458.2L192.2,458.2L192.2,458.8L193.0,458.8L193.0,457.6L193.8,457.6L193.8,459.0L194.6,459.0L194.6,458.9L195.4,458.9L195.4,458.5L196.2,458.5L196.2,458.5L197.0,458.5L197.0,458.0L197.8,458.0L197.8,458.4L198.6,458.4L198.6,457.9L199.4,457.9L199.4,458.4L200.2,458.4L200.2,458.5L201.0,458.5L201.0,458.4L201.8,458.4L201.8,457.9L202.6,457.9L202.6,458.7L203.4,458.7L203.4,458.5L204.2,458.5L204.2,458.9L205.0,458.9L205.0,458.2L205.8,458.2L205.8,458.9L206.6,458.9L206.6,458.9L207.4,458.9L207.4,459.0L208.2,459.0L208.2,458.7L209.0,458.7L209.0,458.3L209.8,458.3L209.8,458.7L210.6,458.7L210.6,459.2L211.4,459.2L211.4,458.2L212.2,458.2L212.2,458.8L213.0,458.8L213.0,459.2L213.8,459.2L213.8,459.0L214.6,459.0L214.6,458.8L215.4,458.8L215.4,459.3L216.2,459.3L216.2,458.3L217.0,458.3L217.0,458.5L217.8,458.5L217.8,458.2L218.6,458.2L218.6,458.1L219.4,458.1L219.4,458.9L220.2,458.9L220.2,458.7L221.0,458.7L221.0,458.3L221.8,458.3L221.8,458.2L222.6,458.2L222.6,458.6L223.4,458.6L223.4,458.3L224.2,458.3L224.2,456.7L225.0,456.7L225.0,458.2L225.8,458.2L225.8,457.8L226.6,457.8L226.6,458.2L227.4,458.2L227.4,458.4L228.2,458.4L228.2,458.3L229.0,458.3L229.0,458.0L229.8,458.0L229.8,458.6L230.6,458.6L230.6,458.0L231.4,458.0L231.4,458.6L232.2,458.6L232.2,459.0L233.0,459.0L233.0,458.6L233.8,458.6L233.8,458.5L234.6,458.5L234.6,458.3L235.4,458.3L235.4,458.3L236.2,458.3L236.2,457.8L237.0,457.8L237.0,457.9L237.8,457.9L237.8,457.2L238.6,457.2L238.6,457.4L239.4,457.4L239.4,458.1L240.2,458.1L240.2,458.8L241.0,458.8L241.0,458.3L241.8,458.3L241.8,458.5L242.6,458.5L242.6,458.9L243.4,458.9L243.4,458.5L244.2,458.5L244.2,458.6L245.0,458.6L245.0,458.2L245.8,458.2L245.8,457.5L246.6,457.5L246.6,457.7L247.4,457.7L247.4,456.6L248.2,456.6L248.2,457.6L249.0,457.6L249.0,458.2L249.8,458.2L249.8,457.8L250.6,457.8L250.6,458.9L251.4,458.9L251.4,459.7L252.2,459.7L252.2,458.8L253.0,458.8L253.0,458.6L253.8,458.6L253.8,459.0L254.6,459.0L254.6,458.4L255.4,458.4L255.4,457.9L256.2,457.9L256.2,457.4L257.0,457.4L257.0,457.8L257.8,457.8L257.8,458.1L258.6,458.1L258.6,458.1L259.4,458.1L259.4,458.1L260.2,458.1L260.2,458.8L261.0,458.8L261.0,458.1L261.8,458.1L261.8,457.8L262.6,457.8L262.6,457.4L263.4,457.4L263.4,457.5L264.2,457.5L264.2,457.6L265.0,457.6L265.0,457.7L265.8,457.7L265.8,457.3L266.6,457.3L266.6,457.4L267.4,457.4L267.4,457.9L268.2,457.9L268.2,457.3L269.0,457.3L269.0,458.1L269.8,458.1L269.8,456.8L270.6,456.8L270.6,453.4L271.4,453.4L271.4,451.8L272.2,451.8L272.2,453.3L273.0,453.3L273.0,453.6L273.8,453.6L273.8,451.5L274.6,451.5L274.6,451.4L275.4,451.4L275.4,448.8L276.2,448.8L276.2,451.5L277.0,451.5L277.0,450.1L277.8,450.1L277.8,450.6L278.6,450.6L278.6,445.6L279.4,445.6L279.4,447.7L280.2,447.7L280.2,448.7L281.0,448.7L281.0,452.4L281.8,452.4L281.8,450.3L282.6,450.3L282.6,452.9L283.4,452.9L283.4,452.0L284.2,452.0L284.2,449.6L285.0,449.6L285.0,448.0L285.8,448.0L285.8,449.2L286.6,449.2L286.6,451.3L287.4,451.3L287.4,450.4L288.2,450.4L288.2,450.8L289.0,450.8L289.0,454.3L289.8,454.3L289.8,452.7L290.6,452.7L290.6,450.9L291.4,450.9L291.4,451.9L292.2,451.9L292.2,453.6L293.0,453.6L293.0,457.5L293.8,457.5L293.8,459.9L294.6,459.9L294.6,460.2L295.4,460.2L295.4,460.2L296.2,460.2L296.2,460.3L297.0,460.3L297.0,460.3L297.8,460.3L297.8,460.2L298.6,460.2L298.6,460.1L299.4,460.1L299.4,460.1L300.2,460.1L300.2,460.2L301.0,460.2L301.0,460.2L301.8,460.2L301.8,460.1L302.6,460.1L302.6,460.1L303.4,460.1L303.4,460.2L304.2,460.2L304.2,460.2L305.0,460.2L305.0,460.1L305.8,460.1L305.8,460.2L306.6,460.2L306.6,460.3L307.4,460.3L307.4,460.3L308.2,460.3L308.2,460.3L309.0,460.3L309.6,460.6Z" fill="#347b95"/>
<path d="M113.8,479.2L113.8,478.6L114.6,478.6L114.6,478.8L115.4,478.8L115.4,478.8L116.2,478.8L116.2,478.5L117.0,478.5L117.0,478.6L117.8,478.6L117.8,478.5L118.6,478.5L118.6,478.7L119.4,478.7L119.4,478.6L120.2,478.6L120.2,478.7L121.0,478.7L121.0,478.7L121.8,478.7L121.8,478.8L122.6,478.8L122.6,478.7L123.4,478.7L123.4,478.6L124.2,478.6L124.2,478.6L125.0,478.6L125.0,478.6L125.8,478.6L125.8,478.8L126.6,478.8L126.6,478.2L127.4,478.2L127.4,477.8L128.2,477.8L128.2,477.3L129.0,477.3L129.0,477.8L129.8,477.8L129.8,478.5L130.6,478.5L130.6,478.7L131.4,478.7L131.4,478.6L132.2,478.6L132.2,478.1L133.0,478.1L133.0,477.8L133.8,477.8L133.8,477.5L134.6,477.5L134.6,477.4L135.4,477.4L135.4,477.3L136.2,477.3L136.2,476.9L137.0,476.9L137.0,477.0L137.8,477.0L137.8,477.7L138.6,477.7L138.6,477.7L139.4,477.7L139.4,477.3L140.2,477.3L140.2,477.9L141.0,477.9L141.0,477.5L141.8,477.5L141.8,477.9L142.6,477.9L142.6,477.8L143.4,477.8L143.4,477.7L144.2,477.7L144.2,478.0L145.0,478.0L145.0,477.8L145.8,477.8L145.8,478.2L146.6,478.2L146.6,478.2L147.4,478.2L147.4,478.7L148.2,478.7L148.2,478.5L149.0,478.5L149.0,477.5L149.8,477.5L149.8,477.6L150.6,477.6L150.6,477.8L151.4,477.8L151.4,477.5L152.2,477.5L152.2,477.6L153.0,477.6L153.0,477.4L153.8,477.4L153.8,477.5L154.6,477.5L154.6,477.5L155.4,477.5L155.4,477.8L156.2,477.8L156.2,477.8L157.0,477.8L157.0,477.1L157.8,477.1L157.8,477.1L158.6,477.1L158.6,478.2L159.4,478.2L159.4,478.1L160.2,478.1L160.2,477.8L161.0,477.8L161.0,477.4L161.8,477.4L161.8,477.6L162.6,477.6L162.6,476.9L163.4,476.9L163.4,477.2L164.2,477.2L164.2,477.8L165.0,477.8L165.0,477.9L165.8,477.9L165.8,478.0L166.6,478.0L166.6,477.7L167.4,477.7L167.4,477.7L168.2,477.7L168.2,477.6L169.0,477.6L169.0,477.9L169.8,477.9L169.8,477.3L170.6,477.3L170.6,477.4L171.4,477.4L171.4,477.8L172.2,477.8L172.2,477.7L173.0,477.7L173.0,477.5L173.8,477.5L173.8,477.4L174.6,477.4L174.6,477.9L175.4,477.9L175.4,477.5L176.2,477.5L176.2,477.1L177.0,477.1L177.0,477.4L177.8,477.4L177.8,477.2L178.6,477.2L178.6,477.0L179.4,477.0L179.4,477.5L180.2,477.5L180.2,476.8L181.0,476.8L181.0,477.2L181.8,477.2L181.8,476.7L182.6,476.7L182.6,477.3L183.4,477.3L183.4,477.5L184.2,477.5L184.2,477.3L185.0,477.3L185.0,476.9L185.8,476.9L185.8,477.6L186.6,477.6L186.6,477.0L187.4,477.0L187.4,476.3L188.2,476.3L188.2,477.5L189.0,477.5L189.0,477.0L189.8,477.0L189.8,477.3L190.6,477.3L190.6,477.6L191.4,477.6L191.4,477.7L192.2,477.7L192.2,478.0L193.0,478.0L193.0,478.3L193.8,478.3L193.8,477.6L194.6,477.6L194.6,477.5L195.4,477.5L195.4,477.1L196.2,477.1L196.2,477.5L197.0,477.5L197.0,477.6L197.8,477.6L197.8,477.5L198.6,477.5L198.6,477.8L199.4,477.8L199.4,478.2L200.2,478.2L200.2,477.2L201.0,477.2L201.0,477.7L201.8,477.7L201.8,476.8L202.6,476.8L202.6,477.4L203.4,477.4L203.4,477.5L204.2,477.5L204.2,477.1L205.0,477.1L205.0,477.1L205.8,477.1L205.8,477.1L206.6,477.1L206.6,477.1L207.4,477.1L207.4,477.9L208.2,477.9L208.2,478.5L209.0,478.5L209.0,477.9L209.8,477.9L209.8,477.8L210.6,477.8L210.6,477.5L211.4,477.5L211.4,476.6L212.2,476.6L212.2,476.9L213.0,476.9L213.0,477.2L213.8,477.2L213.8,477.3L214.6,477.3L214.6,477.0L215.4,477.0L215.4,477.0L216.2,477.0L216.2,477.3L217.0,477.3L217.0,477.1L217.8,477.1L217.8,477.0L218.6,477.0L218.6,477.5L219.4,477.5L219.4,477.5L220.2,477.5L220.2,477.3L221.0,477.3L221.0,477.8L221.8,477.8L221.8,477.8L222.6,477.8L222.6,478.5L223.4,478.5L223.4,478.6L224.2,478.6L224.2,477.5L225.0,477.5L225.0,476.5L225.8,476.5L225.8,477.2L226.6,477.2L226.6,477.3L227.4,477.3L227.4,477.4L228.2,477.4L228.2,476.9L229.0,476.9L229.0,477.8L229.8,477.8L229.8,477.5L230.6,477.5L230.6,477.0L231.4,477.0L231.4,477.5L232.2,477.5L232.2,477.2L233.0,477.2L233.0,477.4L233.8,477.4L233.8,477.3L234.6,477.3L234.6,477.5L235.4,477.5L235.4,477.5L236.2,477.5L236.2,477.8L237.0,477.8L237.0,477.7L237.8,477.7L237.8,477.4L238.6,477.4L238.6,476.8L239.4,476.8L239.4,477.3L240.2,477.3L240.2,477.6L241.0,477.6L241.0,476.9L241.8,476.9L241.8,477.0L242.6,477.0L242.6,477.0L243.4,477.0L243.4,477.1L244.2,477.1L244.2,477.4L245.0,477.4L245.0,477.6L245.8,477.6L245.8,477.4L246.6,477.4L246.6,477.2L247.4,477.2L247.4,477.3L248.2,477.3L248.2,477.2L249.0,477.2L249.0,477.2L249.8,477.2L249.8,477.6L250.6,477.6L250.6,477.6L251.4,477.6L251.4,476.6L252.2,476.6L252.2,477.1L253.0,477.1L253.0,478.4L253.8,478.4L253.8,478.0L254.6,478.0L254.6,477.8L255.4,477.8L255.4,477.1L256.2,477.1L256.2,477.5L257.0,477.5L257.0,478.1L257.8,478.1L257.8,477.8L258.6,477.8L258.6,477.6L259.4,477.6L259.4,476.9L260.2,476.9L260.2,476.9L261.0,476.9L261.0,476.8L261.8,476.8L261.8,477.0L262.6,477.0L262.6,477.5L263.4,477.5L263.4,477.4L264.2,477.4L264.2,478.3L265.0,478.3L265.0,478.1L265.8,478.1L265.8,476.6L266.6,476.6L266.6,474.7L267.4,474.7L267.4,472.8L268.2,472.8L268.2,473.3L269.0,473.3L269.0,473.1L269.8,473.1L269.8,474.1L270.6,474.1L270.6,473.0L271.4,473.0L271.4,469.0L272.2,469.0L272.2,473.4L273.0,473.4L273.0,469.6L273.8,469.6L273.8,470.3L274.6,470.3L274.6,469.3L275.4,469.3L275.4,469.8L276.2,469.8L276.2,466.5L277.0,466.5L277.0,470.2L277.8,470.2L277.8,472.4L278.6,472.4L278.6,470.8L279.4,470.8L279.4,472.6L280.2,472.6L280.2,466.7L281.0,466.7L281.0,469.9L281.8,469.9L281.8,468.7L282.6,468.7L282.6,466.8L283.4,466.8L283.4,466.7L284.2,466.7L284.2,464.2L285.0,464.2L285.0,468.9L285.8,468.9L285.8,470.0L286.6,470.0L286.6,468.7L287.4,468.7L287.4,469.4L288.2,469.4L288.2,471.0L289.0,471.0L289.0,470.3L289.8,470.3L289.8,471.3L290.6,471.3L290.6,470.5L291.4,470.5L291.4,469.6L292.2,469.6L292.2,469.0L293.0,469.0L293.0,474.0L293.8,474.0L293.8,478.7L294.6,478.7L294.6,478.8L295.4,478.8L295.4,478.9L296.2,478.9L296.2,478.6L297.0,478.6L297.0,478.7L297.8,478.7L297.8,478.7L298.6,478.7L298.6,478.7L299.4,478.7L299.4,478.7L300.2,478.7L300.2,478.8L301.0,478.8L301.0,478.9L301.8,478.9L301.8,478.8L302.6,478.8L302.6,478.8L303.4,478.8L303.4,478.8L304.2,478.8L304.2,478.8L305.0,478.8L305.0,478.9L305.8,478.9L305.8,478.8L306.6,478.8L306.6,478.9L307.4,478.9L307.4,478.8L308.2,478.8L308.2,478.9L309.0,478.9L309.6,479.2Z" fill="#c00000"/>
<line x1="113.80" y1="423.50" x2="308.80" y2="423.50" stroke="#347b95" stroke-width="0.8" />
<line x1="113.80" y1="460.60" x2="308.80" y2="460.60" stroke="#347b95" stroke-width="0.7" />
<line x1="113.80" y1="479.20" x2="308.80" y2="479.20" stroke="#e8a0a0" stroke-width="1.0" />
<line x1="113.80" y1="442.00" x2="308.80" y2="442.00" stroke="#e8a0a0" stroke-width="0.8" />
<rect x="135.60" y="490.38" width="0.80" height="7.62" fill="#347b95" stroke="none" stroke-width="0.8" />
<rect x="179.90" y="491.20" width="0.80" height="6.80" fill="#347b95" stroke="none" stroke-width="0.8" />
<rect x="185.60" y="491.28" width="0.80" height="6.72" fill="#347b95" stroke="none" stroke-width="0.8" />
<rect x="195.00" y="491.01" width="0.80" height="6.99" fill="#347b95" stroke="none" stroke-width="0.8" />
<rect x="199.50" y="488.96" width="0.80" height="9.04" fill="#347b95" stroke="none" stroke-width="0.8" />
<rect x="202.40" y="491.00" width="0.80" height="7.00" fill="#347b95" stroke="none" stroke-width="0.8" />
<rect x="204.90" y="490.47" width="0.80" height="7.53" fill="#347b95" stroke="none" stroke-width="0.8" />
<rect x="207.20" y="489.26" width="0.80" height="8.74" fill="#347b95" stroke="none" stroke-width="0.8" />
<rect x="209.70" y="489.85" width="0.80" height="8.15" fill="#347b95" stroke="none" stroke-width="0.8" />
<rect x="212.00" y="488.25" width="0.80" height="9.75" fill="#347b95" stroke="none" stroke-width="0.8" />
<rect x="215.20" y="490.04" width="0.80" height="7.96" fill="#347b95" stroke="none" stroke-width="0.8" />
<rect x="217.50" y="490.31" width="0.80" height="7.69" fill="#347b95" stroke="none" stroke-width="0.8" />
<rect x="221.00" y="489.55" width="0.80" height="8.45" fill="#347b95" stroke="none" stroke-width="0.8" />
<rect x="223.20" y="491.13" width="0.80" height="6.87" fill="#347b95" stroke="none" stroke-width="0.8" />
<rect x="231.30" y="488.39" width="0.80" height="9.61" fill="#347b95" stroke="none" stroke-width="0.8" />
<rect x="233.80" y="490.50" width="0.80" height="7.50" fill="#347b95" stroke="none" stroke-width="0.8" />
<rect x="236.10" y="490.45" width="0.80" height="7.55" fill="#347b95" stroke="none" stroke-width="0.8" />
<rect x="238.30" y="489.27" width="0.80" height="8.73" fill="#347b95" stroke="none" stroke-width="0.8" />
<rect x="240.90" y="491.39" width="0.80" height="6.61" fill="#347b95" stroke="none" stroke-width="0.8" />
<rect x="243.50" y="489.36" width="0.80" height="8.64" fill="#347b95" stroke="none" stroke-width="0.8" />
<rect x="245.70" y="488.60" width="0.80" height="9.40" fill="#347b95" stroke="none" stroke-width="0.8" />
<rect x="247.30" y="490.64" width="0.80" height="7.36" fill="#347b95" stroke="none" stroke-width="0.8" />
<rect x="252.10" y="488.21" width="0.80" height="9.79" fill="#347b95" stroke="none" stroke-width="0.8" />
<rect x="256.30" y="489.89" width="0.80" height="8.11" fill="#347b95" stroke="none" stroke-width="0.8" />
<rect x="258.60" y="488.90" width="0.80" height="9.10" fill="#347b95" stroke="none" stroke-width="0.8" />
<rect x="262.70" y="490.12" width="0.80" height="7.88" fill="#347b95" stroke="none" stroke-width="0.8" />
<rect x="264.00" y="490.39" width="0.80" height="7.61" fill="#347b95" stroke="none" stroke-width="0.8" />
<rect x="265.30" y="490.92" width="0.80" height="7.08" fill="#347b95" stroke="none" stroke-width="0.8" />
<rect x="135.60" y="507.56" width="0.80" height="9.04" fill="#c00000" stroke="none" stroke-width="0.8" />
<rect x="179.90" y="506.58" width="0.80" height="10.02" fill="#c00000" stroke="none" stroke-width="0.8" />
<rect x="185.60" y="502.65" width="0.80" height="13.95" fill="#c00000" stroke="none" stroke-width="0.8" />
<rect x="195.00" y="504.93" width="0.80" height="11.67" fill="#c00000" stroke="none" stroke-width="0.8" />
<rect x="199.50" y="505.29" width="0.80" height="11.31" fill="#c00000" stroke="none" stroke-width="0.8" />
<rect x="202.40" y="503.10" width="0.80" height="13.50" fill="#c00000" stroke="none" stroke-width="0.8" />
<rect x="204.90" y="504.57" width="0.80" height="12.03" fill="#c00000" stroke="none" stroke-width="0.8" />
<rect x="207.20" y="502.72" width="0.80" height="13.88" fill="#c00000" stroke="none" stroke-width="0.8" />
<rect x="209.70" y="505.81" width="0.80" height="10.79" fill="#c00000" stroke="none" stroke-width="0.8" />
<rect x="212.00" y="506.52" width="0.80" height="10.08" fill="#c00000" stroke="none" stroke-width="0.8" />
<rect x="215.20" y="503.00" width="0.80" height="13.60" fill="#c00000" stroke="none" stroke-width="0.8" />
<rect x="217.50" y="506.80" width="0.80" height="9.80" fill="#c00000" stroke="none" stroke-width="0.8" />
<rect x="221.00" y="503.64" width="0.80" height="12.96" fill="#c00000" stroke="none" stroke-width="0.8" />
<rect x="223.20" y="504.62" width="0.80" height="11.98" fill="#c00000" stroke="none" stroke-width="0.8" />
<rect x="231.30" y="502.69" width="0.80" height="13.91" fill="#c00000" stroke="none" stroke-width="0.8" />
<rect x="233.80" y="502.88" width="0.80" height="13.72" fill="#c00000" stroke="none" stroke-width="0.8" />
<rect x="236.10" y="504.30" width="0.80" height="12.30" fill="#c00000" stroke="none" stroke-width="0.8" />
<rect x="238.30" y="507.41" width="0.80" height="9.19" fill="#c00000" stroke="none" stroke-width="0.8" />
<rect x="240.90" y="507.48" width="0.80" height="9.12" fill="#c00000" stroke="none" stroke-width="0.8" />
<rect x="243.50" y="505.23" width="0.80" height="11.37" fill="#c00000" stroke="none" stroke-width="0.8" />
<rect x="245.70" y="503.50" width="0.80" height="13.10" fill="#c00000" stroke="none" stroke-width="0.8" />
<rect x="247.30" y="507.19" width="0.80" height="9.41" fill="#c00000" stroke="none" stroke-width="0.8" />
<rect x="252.10" y="505.47" width="0.80" height="11.13" fill="#c00000" stroke="none" stroke-width="0.8" />
<rect x="256.30" y="507.17" width="0.80" height="9.43" fill="#c00000" stroke="none" stroke-width="0.8" />
<rect x="258.60" y="506.05" width="0.80" height="10.55" fill="#c00000" stroke="none" stroke-width="0.8" />
<rect x="262.70" y="507.57" width="0.80" height="9.03" fill="#c00000" stroke="none" stroke-width="0.8" />
<rect x="264.00" y="505.95" width="0.80" height="10.65" fill="#c00000" stroke="none" stroke-width="0.8" />
<rect x="265.30" y="504.98" width="0.80" height="11.62" fill="#c00000" stroke="none" stroke-width="0.8" />
<line x1="113.80" y1="498.00" x2="308.80" y2="498.00" stroke="#6aa3bb" stroke-width="0.7" />
<line x1="113.80" y1="516.60" x2="308.80" y2="516.60" stroke="#e8a0a0" stroke-width="1.0" />
<path d="M113.8,528.9L113.8,526.5L114.6,526.5L114.6,527.0L115.4,527.0L115.4,527.3L116.2,527.3L116.2,526.0L117.0,526.0L117.0,527.0L117.8,527.0L117.8,525.9L118.6,525.9L118.6,526.6L119.4,526.6L119.4,526.2L120.2,526.2L120.2,527.8L121.0,527.8L121.0,526.8L121.8,526.8L121.8,525.6L122.6,525.6L122.6,526.2L123.4,526.2L123.4,526.9L124.2,526.9L124.2,526.7L125.0,526.7L125.0,526.8L125.8,526.8L125.8,527.0L126.6,527.0L126.6,525.6L127.4,525.6L127.4,527.5L128.2,527.5L128.2,527.9L129.0,527.9L129.0,527.1L129.8,527.1L129.8,527.9L130.6,527.9L130.6,528.2L131.4,528.2L131.4,526.3L132.2,526.3L132.2,526.5L133.0,526.5L133.0,525.6L133.8,525.6L133.8,524.9L134.6,524.9L134.6,524.7L135.4,524.7L135.4,524.6L136.2,524.6L136.2,523.0L137.0,523.0L137.0,525.4L137.8,525.4L137.8,525.5L138.6,525.5L138.6,524.8L139.4,524.8L139.4,525.1L140.2,525.1L140.2,526.2L141.0,526.2L141.0,525.7L141.8,525.7L141.8,525.5L142.6,525.5L142.6,524.0L143.4,524.0L143.4,524.4L144.2,524.4L144.2,524.9L145.0,524.9L145.0,524.3L145.8,524.3L145.8,525.1L146.6,525.1L146.6,524.6L147.4,524.6L147.4,524.3L148.2,524.3L148.2,523.7L149.0,523.7L149.0,522.8L149.8,522.8L149.8,522.4L150.6,522.4L150.6,522.7L151.4,522.7L151.4,521.3L152.2,521.3L152.2,525.0L153.0,525.0L153.0,524.2L153.8,524.2L153.8,524.2L154.6,524.2L154.6,524.0L155.4,524.0L155.4,523.8L156.2,523.8L156.2,525.8L157.0,525.8L157.0,523.0L157.8,523.0L157.8,525.9L158.6,525.9L158.6,525.6L159.4,525.6L159.4,523.5L160.2,523.5L160.2,525.2L161.0,525.2L161.0,522.2L161.8,522.2L161.8,522.1L162.6,522.1L162.6,522.5L163.4,522.5L163.4,522.9L164.2,522.9L164.2,523.7L165.0,523.7L165.0,525.9L165.8,525.9L165.8,521.9L166.6,521.9L166.6,522.2L167.4,522.2L167.4,524.6L168.2,524.6L168.2,524.5L169.0,524.5L169.0,524.1L169.8,524.1L169.8,524.9L170.6,524.9L170.6,524.1L171.4,524.1L171.4,523.0L172.2,523.0L172.2,523.3L173.0,523.3L173.0,523.7L173.8,523.7L173.8,524.5L174.6,524.5L174.6,524.2L175.4,524.2L175.4,525.7L176.2,525.7L176.2,521.7L177.0,521.7L177.0,523.9L177.8,523.9L177.8,525.5L178.6,525.5L178.6,525.8L179.4,525.8L179.4,525.4L180.2,525.4L180.2,524.8L181.0,524.8L181.0,522.8L181.8,522.8L181.8,522.3L182.6,522.3L182.6,524.0L183.4,524.0L183.4,525.5L184.2,525.5L184.2,524.9L185.0,524.9L185.0,522.7L185.8,522.7L185.8,524.6L186.6,524.6L186.6,526.2L187.4,526.2L187.4,524.6L188.2,524.6L188.2,522.8L189.0,522.8L189.0,523.0L189.8,523.0L189.8,521.8L190.6,521.8L190.6,524.5L191.4,524.5L191.4,523.8L192.2,523.8L192.2,523.7L193.0,523.7L193.0,524.0L193.8,524.0L193.8,524.2L194.6,524.2L194.6,525.6L195.4,525.6L195.4,524.7L196.2,524.7L196.2,522.7L197.0,522.7L197.0,524.4L197.8,524.4L197.8,522.4L198.6,522.4L198.6,521.5L199.4,521.5L199.4,522.7L200.2,522.7L200.2,521.7L201.0,521.7L201.0,523.2L201.8,523.2L201.8,522.9L202.6,522.9L202.6,521.7L203.4,521.7L203.4,522.6L204.2,522.6L204.2,521.0L205.0,521.0L205.0,522.3L205.8,522.3L205.8,522.8L206.6,522.8L206.6,523.0L207.4,523.0L207.4,523.3L208.2,523.3L208.2,521.9L209.0,521.9L209.0,519.7L209.8,519.7L209.8,521.1L210.6,521.1L210.6,524.0L211.4,524.0L211.4,524.8L212.2,524.8L212.2,522.7L213.0,522.7L213.0,525.4L213.8,525.4L213.8,522.2L214.6,522.2L214.6,526.0L215.4,526.0L215.4,524.4L216.2,524.4L216.2,523.5L217.0,523.5L217.0,525.0L217.8,525.0L217.8,526.0L218.6,526.0L218.6,524.7L219.4,524.7L219.4,523.8L220.2,523.8L220.2,525.2L221.0,525.2L221.0,522.5L221.8,522.5L221.8,525.5L222.6,525.5L222.6,524.8L223.4,524.8L223.4,523.4L224.2,523.4L224.2,521.7L225.0,521.7L225.0,524.2L225.8,524.2L225.8,522.4L226.6,522.4L226.6,522.0L227.4,522.0L227.4,523.5L228.2,523.5L228.2,521.9L229.0,521.9L229.0,526.1L229.8,526.1L229.8,527.6L230.6,527.6L230.6,526.3L231.4,526.3L231.4,524.9L232.2,524.9L232.2,522.4L233.0,522.4L233.0,525.2L233.8,525.2L233.8,524.4L234.6,524.4L234.6,526.0L235.4,526.0L235.4,525.3L236.2,525.3L236.2,521.8L237.0,521.8L237.0,519.8L237.8,519.8L237.8,522.2L238.6,522.2L238.6,519.9L239.4,519.9L239.4,523.0L240.2,523.0L240.2,521.4L241.0,521.4L241.0,517.4L241.8,517.4L241.8,521.0L242.6,521.0L242.6,522.4L243.4,522.4L243.4,524.0L244.2,524.0L244.2,525.6L245.0,525.6L245.0,525.3L245.8,525.3L245.8,525.1L246.6,525.1L246.6,522.9L247.4,522.9L247.4,523.4L248.2,523.4L248.2,522.1L249.0,522.1L249.0,523.9L249.8,523.9L249.8,526.5L250.6,526.5L250.6,524.9L251.4,524.9L251.4,526.2L252.2,526.2L252.2,526.6L253.0,526.6L253.0,523.7L253.8,523.7L253.8,523.7L254.6,523.7L254.6,522.7L255.4,522.7L255.4,523.3L256.2,523.3L256.2,522.5L257.0,522.5L257.0,524.5L257.8,524.5L257.8,521.6L258.6,521.6L258.6,522.1L259.4,522.1L259.4,524.7L260.2,524.7L260.2,523.4L261.0,523.4L261.0,523.2L261.8,523.2L261.8,521.7L262.6,521.7L262.6,520.4L263.4,520.4L263.4,518.5L264.2,518.5L264.2,521.4L265.0,521.4L265.0,523.7L265.8,523.7L265.8,522.9L266.6,522.9L266.6,525.2L267.4,525.2L267.4,522.4L268.2,522.4L268.2,524.8L269.0,524.8L269.0,524.8L269.8,524.8L269.8,525.4L270.6,525.4L270.6,525.1L271.4,525.1L271.4,527.0L272.2,527.0L272.2,525.4L273.0,525.4L273.0,524.5L273.8,524.5L273.8,523.9L274.6,523.9L274.6,523.2L275.4,523.2L275.4,521.9L276.2,521.9L276.2,519.7L277.0,519.7L277.0,523.1L277.8,523.1L277.8,524.2L278.6,524.2L278.6,523.3L279.4,523.3L279.4,521.2L280.2,521.2L280.2,521.7L281.0,521.7L281.0,521.3L281.8,521.3L281.8,524.5L282.6,524.5L282.6,523.3L283.4,523.3L283.4,523.4L284.2,523.4L284.2,522.3L285.0,522.3L285.0,521.8L285.8,521.8L285.8,520.9L286.6,520.9L286.6,528.5L287.4,528.5L287.4,528.0L288.2,528.0L288.2,525.3L289.0,525.3L289.0,525.0L289.8,525.0L289.8,523.9L290.6,523.9L290.6,523.5L291.4,523.5L291.4,523.6L292.2,523.6L292.2,523.5L293.0,523.5L293.0,525.3L293.8,525.3L293.8,525.6L294.6,525.6L294.6,525.2L295.4,525.2L295.4,527.7L296.2,527.7L296.2,527.4L297.0,527.4L297.0,527.7L297.8,527.7L297.8,527.1L298.6,527.1L298.6,527.5L299.4,527.5L299.4,527.1L300.2,527.1L300.2,527.5L301.0,527.5L301.0,528.0L301.8,528.0L301.8,527.3L302.6,527.3L302.6,526.8L303.4,526.8L303.4,526.1L304.2,526.1L304.2,526.7L305.0,526.7L305.0,526.9L305.8,526.9L305.8,527.0L306.6,527.0L306.6,527.5L307.4,527.5L307.4,527.5L308.2,527.5L308.2,527.6L309.0,527.6L309.6,528.9Z" fill="#1a9bd2"/>
<rect x="251.42" y="528.90" width="0.90" height="1.54" fill="#f03a6c" stroke="none" stroke-width="0.8" />
<rect x="288.36" y="528.90" width="0.90" height="1.71" fill="#f03a6c" stroke="none" stroke-width="0.8" />
<rect x="116.80" y="528.90" width="0.90" height="2.96" fill="#f03a6c" stroke="none" stroke-width="0.8" />
<rect x="296.31" y="528.90" width="0.90" height="1.47" fill="#f03a6c" stroke="none" stroke-width="0.8" />
<rect x="272.82" y="528.90" width="0.90" height="1.29" fill="#f03a6c" stroke="none" stroke-width="0.8" />
<rect x="124.55" y="528.90" width="0.90" height="1.59" fill="#f03a6c" stroke="none" stroke-width="0.8" />
<rect x="269.98" y="528.90" width="0.90" height="1.29" fill="#f03a6c" stroke="none" stroke-width="0.8" />
<rect x="269.62" y="528.90" width="0.90" height="2.82" fill="#f03a6c" stroke="none" stroke-width="0.8" />
<rect x="149.97" y="528.90" width="0.90" height="3.10" fill="#f03a6c" stroke="none" stroke-width="0.8" />
<rect x="301.99" y="528.90" width="0.90" height="2.68" fill="#f03a6c" stroke="none" stroke-width="0.8" />
<rect x="184.15" y="528.90" width="0.90" height="3.10" fill="#f03a6c" stroke="none" stroke-width="0.8" />
<rect x="201.02" y="528.90" width="0.90" height="2.21" fill="#f03a6c" stroke="none" stroke-width="0.8" />
<rect x="240.38" y="528.90" width="0.90" height="2.00" fill="#f03a6c" stroke="none" stroke-width="0.8" />
<rect x="247.45" y="528.90" width="0.90" height="1.85" fill="#f03a6c" stroke="none" stroke-width="0.8" />
<rect x="258.38" y="528.90" width="0.90" height="2.44" fill="#f03a6c" stroke="none" stroke-width="0.8" />
<rect x="167.51" y="528.90" width="0.90" height="1.53" fill="#f03a6c" stroke="none" stroke-width="0.8" />
<rect x="207.45" y="528.90" width="0.90" height="2.15" fill="#f03a6c" stroke="none" stroke-width="0.8" />
<rect x="140.21" y="528.90" width="0.90" height="1.86" fill="#f03a6c" stroke="none" stroke-width="0.8" />
<rect x="166.86" y="528.90" width="0.90" height="2.47" fill="#f03a6c" stroke="none" stroke-width="0.8" />
<rect x="208.75" y="528.90" width="0.90" height="2.92" fill="#f03a6c" stroke="none" stroke-width="0.8" />
<rect x="128.01" y="528.90" width="0.90" height="2.45" fill="#f03a6c" stroke="none" stroke-width="0.8" />
<rect x="181.22" y="528.90" width="0.90" height="1.31" fill="#f03a6c" stroke="none" stroke-width="0.8" />
<rect x="271.67" y="528.90" width="0.90" height="2.31" fill="#f03a6c" stroke="none" stroke-width="0.8" />
<rect x="148.24" y="528.90" width="0.90" height="2.61" fill="#f03a6c" stroke="none" stroke-width="0.8" />
<rect x="197.64" y="528.90" width="0.90" height="2.18" fill="#f03a6c" stroke="none" stroke-width="0.8" />
<rect x="120.81" y="528.90" width="0.90" height="1.15" fill="#f03a6c" stroke="none" stroke-width="0.8" />
<rect x="256.63" y="528.90" width="0.90" height="1.21" fill="#f03a6c" stroke="none" stroke-width="0.8" />
<rect x="132.98" y="528.90" width="0.90" height="2.19" fill="#f03a6c" stroke="none" stroke-width="0.8" />
<rect x="148.81" y="528.90" width="0.90" height="2.58" fill="#f03a6c" stroke="none" stroke-width="0.8" />
<rect x="258.14" y="528.90" width="0.90" height="2.09" fill="#f03a6c" stroke="none" stroke-width="0.8" />
<rect x="199.35" y="528.90" width="0.90" height="2.60" fill="#f03a6c" stroke="none" stroke-width="0.8" />
<rect x="220.85" y="528.90" width="0.90" height="2.21" fill="#f03a6c" stroke="none" stroke-width="0.8" />
<rect x="231.74" y="528.90" width="0.90" height="2.81" fill="#f03a6c" stroke="none" stroke-width="0.8" />
<rect x="209.90" y="528.90" width="0.90" height="1.47" fill="#f03a6c" stroke="none" stroke-width="0.8" />
<rect x="195.94" y="528.90" width="0.90" height="2.83" fill="#f03a6c" stroke="none" stroke-width="0.8" />
<rect x="143.32" y="528.90" width="0.90" height="2.65" fill="#f03a6c" stroke="none" stroke-width="0.8" />
<rect x="141.13" y="528.90" width="0.90" height="1.25" fill="#f03a6c" stroke="none" stroke-width="0.8" />
<rect x="153.09" y="528.90" width="0.90" height="1.50" fill="#f03a6c" stroke="none" stroke-width="0.8" />
<path d="M113.8,541.0L113.8,540.5L114.6,540.5L114.6,539.8L115.4,539.8L115.4,540.6L116.2,540.6L116.2,540.4L117.0,540.4L117.0,540.4L117.8,540.4L117.8,540.8L118.6,540.8L118.6,540.2L119.4,540.2L119.4,540.5L120.2,540.5L120.2,541.0L121.0,541.0L121.0,541.0L121.8,541.0L121.8,541.0L122.6,541.0L122.6,540.5L123.4,540.5L123.4,540.1L124.2,540.1L124.2,539.8L125.0,539.8L125.0,539.7L125.8,539.7L125.8,540.4L126.6,540.4L126.6,540.5L127.4,540.5L127.4,539.8L128.2,539.8L128.2,540.2L129.0,540.2L129.0,541.0L129.8,541.0L129.8,540.8L130.6,540.8L130.6,539.5L131.4,539.5L131.4,538.7L132.2,538.7L132.2,540.2L133.0,540.2L133.0,540.8L133.8,540.8L133.8,541.0L134.6,541.0L134.6,540.1L135.4,540.1L135.4,540.8L136.2,540.8L136.2,541.0L137.0,541.0L137.0,541.0L137.8,541.0L137.8,540.7L138.6,540.7L138.6,541.0L139.4,541.0L139.4,539.8L140.2,539.8L140.2,539.8L141.0,539.8L141.0,540.4L141.8,540.4L141.8,540.7L142.6,540.7L142.6,541.0L143.4,541.0L143.4,541.0L144.2,541.0L144.2,539.5L145.0,539.5L145.0,541.0L145.8,541.0L145.8,541.0L146.6,541.0L146.6,540.0L147.4,540.0L147.4,538.4L148.2,538.4L148.2,539.4L149.0,539.4L149.0,539.3L149.8,539.3L149.8,538.7L150.6,538.7L150.6,540.3L151.4,540.3L151.4,539.5L152.2,539.5L152.2,537.7L153.0,537.7L153.0,537.5L153.8,537.5L153.8,539.7L154.6,539.7L154.6,540.0L155.4,540.0L155.4,537.4L156.2,537.4L156.2,536.9L157.0,536.9L157.0,537.5L157.8,537.5L157.8,537.5L158.6,537.5L158.6,537.3L159.4,537.3L159.4,538.0L160.2,538.0L160.2,537.9L161.0,537.9L161.0,539.5L161.8,539.5L161.8,538.6L162.6,538.6L162.6,537.2L163.4,537.2L163.4,538.4L164.2,538.4L164.2,540.3L165.0,540.3L165.0,538.6L165.8,538.6L165.8,537.6L166.6,537.6L166.6,539.1L167.4,539.1L167.4,539.2L168.2,539.2L168.2,537.9L169.0,537.9L169.0,541.0L169.8,541.0L169.8,539.4L170.6,539.4L170.6,540.7L171.4,540.7L171.4,539.5L172.2,539.5L172.2,540.1L173.0,540.1L173.0,541.0L173.8,541.0L173.8,539.1L174.6,539.1L174.6,540.1L175.4,540.1L175.4,540.3L176.2,540.3L176.2,536.8L177.0,536.8L177.0,539.0L177.8,539.0L177.8,539.6L178.6,539.6L178.6,541.0L179.4,541.0L179.4,539.2L180.2,539.2L180.2,540.2L181.0,540.2L181.0,539.6L181.8,539.6L181.8,539.3L182.6,539.3L182.6,539.8L183.4,539.8L183.4,538.6L184.2,538.6L184.2,539.6L185.0,539.6L185.0,539.8L185.8,539.8L185.8,540.0L186.6,540.0L186.6,541.0L187.4,541.0L187.4,539.7L188.2,539.7L188.2,538.7L189.0,538.7L189.0,536.3L189.8,536.3L189.8,535.4L190.6,535.4L190.6,538.1L191.4,538.1L191.4,538.4L192.2,538.4L192.2,538.9L193.0,538.9L193.0,537.8L193.8,537.8L193.8,538.1L194.6,538.1L194.6,537.9L195.4,537.9L195.4,541.0L196.2,541.0L196.2,540.1L197.0,540.1L197.0,538.7L197.8,538.7L197.8,537.3L198.6,537.3L198.6,539.0L199.4,539.0L199.4,540.3L200.2,540.3L200.2,541.0L201.0,541.0L201.0,538.6L201.8,538.6L201.8,537.2L202.6,537.2L202.6,536.2L203.4,536.2L203.4,537.7L204.2,537.7L204.2,541.0L205.0,541.0L205.0,539.5L205.8,539.5L205.8,540.1L206.6,540.1L206.6,540.0L207.4,540.0L207.4,540.9L208.2,540.9L208.2,538.6L209.0,538.6L209.0,541.0L209.8,541.0L209.8,538.0L210.6,538.0L210.6,539.5L211.4,539.5L211.4,538.9L212.2,538.9L212.2,538.2L213.0,538.2L213.0,540.2L213.8,540.2L213.8,541.0L214.6,541.0L214.6,540.1L215.4,540.1L215.4,541.0L216.2,541.0L216.2,540.9L217.0,540.9L217.0,540.3L217.8,540.3L217.8,541.0L218.6,541.0L218.6,538.3L219.4,538.3L219.4,540.1L220.2,540.1L220.2,538.5L221.0,538.5L221.0,538.8L221.8,538.8L221.8,537.6L222.6,537.6L222.6,536.7L223.4,536.7L223.4,538.3L224.2,538.3L224.2,540.9L225.0,540.9L225.0,539.9L225.8,539.9L225.8,537.8L226.6,537.8L226.6,539.1L227.4,539.1L227.4,540.5L228.2,540.5L228.2,539.4L229.0,539.4L229.0,539.4L229.8,539.4L229.8,540.4L230.6,540.4L230.6,539.2L231.4,539.2L231.4,539.3L232.2,539.3L232.2,539.3L233.0,539.3L233.0,538.0L233.8,538.0L233.8,538.8L234.6,538.8L234.6,539.5L235.4,539.5L235.4,539.4L236.2,539.4L236.2,540.4L237.0,540.4L237.0,539.6L237.8,539.6L237.8,540.9L238.6,540.9L238.6,537.6L239.4,537.6L239.4,538.8L240.2,538.8L240.2,539.6L241.0,539.6L241.0,537.4L241.8,537.4L241.8,541.0L242.6,541.0L242.6,541.0L243.4,541.0L243.4,540.1L244.2,540.1L244.2,540.2L245.0,540.2L245.0,537.4L245.8,537.4L245.8,538.1L246.6,538.1L246.6,537.8L247.4,537.8L247.4,537.6L248.2,537.6L248.2,538.8L249.0,538.8L249.0,541.0L249.8,541.0L249.8,541.0L250.6,541.0L250.6,540.7L251.4,540.7L251.4,540.5L252.2,540.5L252.2,539.4L253.0,539.4L253.0,540.3L253.8,540.3L253.8,541.0L254.6,541.0L254.6,540.0L255.4,540.0L255.4,539.5L256.2,539.5L256.2,539.3L257.0,539.3L257.0,540.0L257.8,540.0L257.8,539.5L258.6,539.5L258.6,538.9L259.4,538.9L259.4,539.9L260.2,539.9L260.2,539.3L261.0,539.3L261.0,539.3L261.8,539.3L261.8,539.3L262.6,539.3L262.6,538.5L263.4,538.5L263.4,538.4L264.2,538.4L264.2,537.9L265.0,537.9L265.0,538.7L265.8,538.7L265.8,538.5L266.6,538.5L266.6,539.9L267.4,539.9L267.4,541.0L268.2,541.0L268.2,540.9L269.0,540.9L269.0,541.0L269.8,541.0L269.8,539.8L270.6,539.8L270.6,540.3L271.4,540.3L271.4,538.3L272.2,538.3L272.2,540.3L273.0,540.3L273.0,539.8L273.8,539.8L273.8,539.4L274.6,539.4L274.6,538.8L275.4,538.8L275.4,538.0L276.2,538.0L276.2,538.8L277.0,538.8L277.0,539.2L277.8,539.2L277.8,539.4L278.6,539.4L278.6,539.6L279.4,539.6L279.4,540.5L280.2,540.5L280.2,540.3L281.0,540.3L281.0,540.0L281.8,540.0L281.8,539.5L282.6,539.5L282.6,540.6L283.4,540.6L283.4,540.7L284.2,540.7L284.2,540.9L285.0,540.9L285.0,540.9L285.8,540.9L285.8,540.7L286.6,540.7L286.6,541.0L287.4,541.0L287.4,541.0L288.2,541.0L288.2,541.0L289.0,541.0L289.0,540.4L289.8,540.4L289.8,540.8L290.6,540.8L290.6,540.6L291.4,540.6L291.4,539.6L292.2,539.6L292.2,541.0L293.0,541.0L293.0,541.0L293.8,541.0L293.8,541.0L294.6,541.0L294.6,540.3L295.4,540.3L295.4,540.7L296.2,540.7L296.2,541.0L297.0,541.0L297.0,541.0L297.8,541.0L297.8,541.0L298.6,541.0L298.6,541.0L299.4,541.0L299.4,540.3L300.2,540.3L300.2,539.9L301.0,539.9L301.0,539.5L301.8,539.5L301.8,540.7L302.6,540.7L302.6,540.3L303.4,540.3L303.4,540.5L304.2,540.5L304.2,540.9L305.0,540.9L305.0,540.2L305.8,540.2L305.8,540.4L306.6,540.4L306.6,540.0L307.4,540.0L307.4,540.6L308.2,540.6L308.2,540.5L309.0,540.5L309.6,541.0Z" fill="#1a9bd2"/>
<path d="M113.8,541.0L113.8,541.8L114.6,541.8L114.6,542.0L115.4,542.0L115.4,541.7L116.2,541.7L116.2,541.8L117.0,541.8L117.0,541.8L117.8,541.8L117.8,542.1L118.6,542.1L118.6,542.3L119.4,542.3L119.4,541.6L120.2,541.6L120.2,541.8L121.0,541.8L121.0,541.6L121.8,541.6L121.8,541.5L122.6,541.5L122.6,541.5L123.4,541.5L123.4,541.3L124.2,541.3L124.2,541.5L125.0,541.5L125.0,541.7L125.8,541.7L125.8,541.5L126.6,541.5L126.6,542.3L127.4,542.3L127.4,541.8L128.2,541.8L128.2,541.8L129.0,541.8L129.0,541.6L129.8,541.6L129.8,541.6L130.6,541.6L130.6,541.9L131.4,541.9L131.4,541.7L132.2,541.7L132.2,541.5L133.0,541.5L133.0,542.0L133.8,542.0L133.8,541.9L134.6,541.9L134.6,541.8L135.4,541.8L135.4,542.0L136.2,542.0L136.2,541.3L137.0,541.3L137.0,541.1L137.8,541.1L137.8,542.0L138.6,542.0L138.6,542.0L139.4,542.0L139.4,541.8L140.2,541.8L140.2,541.4L141.0,541.4L141.0,541.4L141.8,541.4L141.8,541.2L142.6,541.2L142.6,541.3L143.4,541.3L143.4,541.6L144.2,541.6L144.2,542.0L145.0,542.0L145.0,541.7L145.8,541.7L145.8,541.9L146.6,541.9L146.6,541.6L147.4,541.6L147.4,541.7L148.2,541.7L148.2,541.6L149.0,541.6L149.0,542.0L149.8,542.0L149.8,541.8L150.6,541.8L150.6,541.5L151.4,541.5L151.4,541.6L152.2,541.6L152.2,541.9L153.0,541.9L153.0,541.7L153.8,541.7L153.8,541.6L154.6,541.6L154.6,541.8L155.4,541.8L155.4,542.5L156.2,542.5L156.2,541.7L157.0,541.7L157.0,541.2L157.8,541.2L157.8,541.5L158.6,541.5L158.6,541.1L159.4,541.1L159.4,541.5L160.2,541.5L160.2,541.5L161.0,541.5L161.0,541.4L161.8,541.4L161.8,541.2L162.6,541.2L162.6,541.1L163.4,541.1L163.4,541.2L164.2,541.2L164.2,541.4L165.0,541.4L165.0,541.5L165.8,541.5L165.8,541.5L166.6,541.5L166.6,542.0L167.4,542.0L167.4,541.8L168.2,541.8L168.2,542.0L169.0,542.0L169.0,542.3L169.8,542.3L169.8,542.0L170.6,542.0L170.6,541.7L171.4,541.7L171.4,541.9L172.2,541.9L172.2,541.9L173.0,541.9L173.0,542.3L173.8,542.3L173.8,541.9L174.6,541.9L174.6,542.2L175.4,542.2L175.4,541.0L176.2,541.0L176.2,541.1L177.0,541.1L177.0,542.3L177.8,542.3L177.8,542.0L178.6,542.0L178.6,541.9L179.4,541.9L179.4,541.9L180.2,541.9L180.2,542.0L181.0,542.0L181.0,542.1L181.8,542.1L181.8,541.9L182.6,541.9L182.6,542.1L183.4,542.1L183.4,541.6L184.2,541.6L184.2,541.3L185.0,541.3L185.0,542.4L185.8,542.4L185.8,542.9L186.6,542.9L186.6,541.9L187.4,541.9L187.4,541.5L188.2,541.5L188.2,541.7L189.0,541.7L189.0,542.2L189.8,542.2L189.8,541.5L190.6,541.5L190.6,541.9L191.4,541.9L191.4,541.5L192.2,541.5L192.2,542.0L193.0,542.0L193.0,541.7L193.8,541.7L193.8,542.0L194.6,542.0L194.6,542.2L195.4,542.2L195.4,542.6L196.2,542.6L196.2,541.9L197.0,541.9L197.0,541.8L197.8,541.8L197.8,541.8L198.6,541.8L198.6,541.6L199.4,541.6L199.4,542.2L200.2,542.2L200.2,542.4L201.0,542.4L201.0,541.7L201.8,541.7L201.8,541.8L202.6,541.8L202.6,541.9L203.4,541.9L203.4,542.2L204.2,542.2L204.2,542.2L205.0,542.2L205.0,541.8L205.8,541.8L205.8,541.4L206.6,541.4L206.6,541.8L207.4,541.8L207.4,541.5L208.2,541.5L208.2,541.7L209.0,541.7L209.0,542.1L209.8,542.1L209.8,542.8L210.6,542.8L210.6,542.4L211.4,542.4L211.4,541.1L212.2,541.1L212.2,541.5L213.0,541.5L213.0,541.7L213.8,541.7L213.8,541.8L214.6,541.8L214.6,542.0L215.4,542.0L215.4,541.8L216.2,541.8L216.2,542.2L217.0,542.2L217.0,542.7L217.8,542.7L217.8,541.7L218.6,541.7L218.6,542.1L219.4,542.1L219.4,541.6L220.2,541.6L220.2,541.7L221.0,541.7L221.0,541.5L221.8,541.5L221.8,541.7L222.6,541.7L222.6,541.0L223.4,541.0L223.4,541.4L224.2,541.4L224.2,541.3L225.0,541.3L225.0,541.0L225.8,541.0L225.8,541.7L226.6,541.7L226.6,542.4L227.4,542.4L227.4,542.5L228.2,542.5L228.2,542.8L229.0,542.8L229.0,542.0L229.8,542.0L229.8,542.1L230.6,542.1L230.6,542.3L231.4,542.3L231.4,542.7L232.2,542.7L232.2,542.5L233.0,542.5L233.0,542.1L233.8,542.1L233.8,542.3L234.6,542.3L234.6,543.2L235.4,543.2L235.4,542.8L236.2,542.8L236.2,542.5L237.0,542.5L237.0,541.4L237.8,541.4L237.8,541.4L238.6,541.4L238.6,542.5L239.4,542.5L239.4,542.5L240.2,542.5L240.2,542.5L241.0,542.5L241.0,542.3L241.8,542.3L241.8,542.7L242.6,542.7L242.6,542.7L243.4,542.7L243.4,542.2L244.2,542.2L244.2,541.7L245.0,541.7L245.0,541.8L245.8,541.8L245.8,541.8L246.6,541.8L246.6,542.1L247.4,542.1L247.4,542.4L248.2,542.4L248.2,541.9L249.0,541.9L249.0,543.3L249.8,543.3L249.8,542.8L250.6,542.8L250.6,543.3L251.4,543.3L251.4,542.5L252.2,542.5L252.2,541.6L253.0,541.6L253.0,541.5L253.8,541.5L253.8,541.6L254.6,541.6L254.6,542.3L255.4,542.3L255.4,542.4L256.2,542.4L256.2,542.0L257.0,542.0L257.0,542.3L257.8,542.3L257.8,542.0L258.6,542.0L258.6,542.1L259.4,542.1L259.4,541.1L260.2,541.1L260.2,542.2L261.0,542.2L261.0,542.1L261.8,542.1L261.8,542.3L262.6,542.3L262.6,542.1L263.4,542.1L263.4,542.0L264.2,542.0L264.2,542.9L265.0,542.9L265.0,542.1L265.8,542.1L265.8,542.8L266.6,542.8L266.6,544.2L267.4,544.2L267.4,546.4L268.2,546.4L268.2,545.2L269.0,545.2L269.0,545.0L269.8,545.0L269.8,547.7L270.6,547.7L270.6,554.0L271.4,554.0L271.4,547.1L272.2,547.1L272.2,545.2L273.0,545.2L273.0,548.0L273.8,548.0L273.8,551.3L274.6,551.3L274.6,551.1L275.4,551.1L275.4,550.5L276.2,550.5L276.2,544.6L277.0,544.6L277.0,548.7L277.8,548.7L277.8,546.1L278.6,546.1L278.6,545.8L279.4,545.8L279.4,551.8L280.2,551.8L280.2,554.1L281.0,554.1L281.0,547.8L281.8,547.8L281.8,542.4L282.6,542.4L282.6,549.4L283.4,549.4L283.4,549.0L284.2,549.0L284.2,551.1L285.0,551.1L285.0,543.3L285.8,543.3L285.8,543.9L286.6,543.9L286.6,541.6L287.4,541.6L287.4,547.9L288.2,547.9L288.2,548.9L289.0,548.9L289.0,545.8L289.8,545.8L289.8,546.0L290.6,546.0L290.6,544.7L291.4,544.7L291.4,547.4L292.2,547.4L292.2,545.5L293.0,545.5L293.0,543.9L293.8,543.9L293.8,541.0L294.6,541.0L294.6,541.0L295.4,541.0L295.4,541.1L296.2,541.1L296.2,541.0L297.0,541.0L297.0,541.0L297.8,541.0L297.8,541.3L298.6,541.3L298.6,541.0L299.4,541.0L299.4,541.3L300.2,541.3L300.2,542.4L301.0,542.4L301.0,541.8L301.8,541.8L301.8,541.1L302.6,541.1L302.6,541.7L303.4,541.7L303.4,541.3L304.2,541.3L304.2,541.5L305.0,541.5L305.0,541.5L305.8,541.5L305.8,541.1L306.6,541.1L306.6,541.4L307.4,541.4L307.4,541.3L308.2,541.3L308.2,541.0L309.0,541.0L309.6,541.0Z" fill="#f03a6c"/>
<rect x="135.45" y="557.60" width="1.10" height="8.20" fill="#f03a6c" stroke="none" stroke-width="0.8" />
<rect x="179.75" y="557.60" width="1.10" height="11.72" fill="#f03a6c" stroke="none" stroke-width="0.8" />
<rect x="185.45" y="557.60" width="1.10" height="7.33" fill="#f03a6c" stroke="none" stroke-width="0.8" />
<rect x="194.85" y="557.60" width="1.10" height="8.27" fill="#f03a6c" stroke="none" stroke-width="0.8" />
<rect x="199.35" y="557.60" width="1.10" height="8.55" fill="#f03a6c" stroke="none" stroke-width="0.8" />
<rect x="202.25" y="557.60" width="1.10" height="9.42" fill="#f03a6c" stroke="none" stroke-width="0.8" />
<rect x="204.75" y="557.60" width="1.10" height="11.58" fill="#f03a6c" stroke="none" stroke-width="0.8" />
<rect x="207.05" y="557.60" width="1.10" height="9.12" fill="#f03a6c" stroke="none" stroke-width="0.8" />
<rect x="209.55" y="557.60" width="1.10" height="11.17" fill="#f03a6c" stroke="none" stroke-width="0.8" />
<rect x="211.85" y="557.60" width="1.10" height="12.53" fill="#f03a6c" stroke="none" stroke-width="0.8" />
<rect x="215.05" y="557.60" width="1.10" height="7.79" fill="#f03a6c" stroke="none" stroke-width="0.8" />
<rect x="217.35" y="557.60" width="1.10" height="12.18" fill="#f03a6c" stroke="none" stroke-width="0.8" />
<rect x="220.85" y="557.60" width="1.10" height="10.60" fill="#f03a6c" stroke="none" stroke-width="0.8" />
<rect x="223.05" y="557.60" width="1.10" height="11.48" fill="#f03a6c" stroke="none" stroke-width="0.8" />
<rect x="231.15" y="557.60" width="1.10" height="10.65" fill="#f03a6c" stroke="none" stroke-width="0.8" />
<rect x="233.65" y="557.60" width="1.10" height="9.45" fill="#f03a6c" stroke="none" stroke-width="0.8" />
<rect x="235.95" y="557.60" width="1.10" height="7.58" fill="#f03a6c" stroke="none" stroke-width="0.8" />
<rect x="238.15" y="557.60" width="1.10" height="7.86" fill="#f03a6c" stroke="none" stroke-width="0.8" />
<rect x="240.75" y="557.60" width="1.10" height="8.04" fill="#f03a6c" stroke="none" stroke-width="0.8" />
<rect x="243.35" y="557.60" width="1.10" height="8.07" fill="#f03a6c" stroke="none" stroke-width="0.8" />
<rect x="245.55" y="557.60" width="1.10" height="7.87" fill="#f03a6c" stroke="none" stroke-width="0.8" />
<rect x="247.15" y="557.60" width="1.10" height="8.25" fill="#f03a6c" stroke="none" stroke-width="0.8" />
<rect x="251.95" y="557.60" width="1.10" height="10.37" fill="#f03a6c" stroke="none" stroke-width="0.8" />
<rect x="256.15" y="557.60" width="1.10" height="11.62" fill="#f03a6c" stroke="none" stroke-width="0.8" />
<rect x="258.45" y="557.60" width="1.10" height="11.79" fill="#f03a6c" stroke="none" stroke-width="0.8" />
<rect x="262.55" y="557.60" width="1.10" height="12.08" fill="#f03a6c" stroke="none" stroke-width="0.8" />
<rect x="263.85" y="557.60" width="1.10" height="7.70" fill="#f03a6c" stroke="none" stroke-width="0.8" />
<rect x="265.15" y="557.60" width="1.10" height="11.93" fill="#f03a6c" stroke="none" stroke-width="0.8" />
<line x1="113.80" y1="557.60" x2="308.80" y2="557.60" stroke="#dcdcdc" stroke-width="0.6" />
<text x="115.0" y="410.3" font-size="3.6" text-anchor="start" fill="#444" font-weight="normal" >[0 - 96]</text>
<text x="115.0" y="428.7" font-size="3.6" text-anchor="start" fill="#444" font-weight="normal" >[0 - 96]</text>
<text x="115.0" y="447.3" font-size="3.6" text-anchor="start" fill="#444" font-weight="normal" >[0 - 848]</text>
<text x="115.0" y="465.9" font-size="3.6" text-anchor="start" fill="#444" font-weight="normal" >[0 - 848]</text>
<text x="115.0" y="484.4" font-size="3.6" text-anchor="start" fill="#444" font-weight="normal" >[0 - 1195]</text>
<text x="115.0" y="503.0" font-size="3.6" text-anchor="start" fill="#444" font-weight="normal" >[0 - 1195]</text>
<text x="115.0" y="521.3" font-size="3.6" text-anchor="start" fill="#444" font-weight="normal" >[-23.850 - 47]</text>
<text x="115.0" y="539.3" font-size="3.6" text-anchor="start" fill="#444" font-weight="normal" >[-290.470 - 88]</text>
<text x="115.0" y="555.3" font-size="3.6" text-anchor="start" fill="#444" font-weight="normal" >[-331.481 - 13]</text>
<path d="M315.3,423.5L315.3,422.2L316.1,422.2L316.1,422.5L316.9,422.5L316.9,422.6L317.7,422.6L317.7,422.9L318.5,422.9L318.5,423.1L319.3,423.1L319.3,422.7L320.1,422.7L320.1,422.8L320.9,422.8L320.9,422.7L321.7,422.7L321.7,422.6L322.5,422.6L322.5,422.7L323.3,422.7L323.3,422.6L324.1,422.6L324.1,422.4L324.9,422.4L324.9,422.1L325.7,422.1L325.7,422.2L326.5,422.2L326.5,422.5L327.3,422.5L327.3,422.3L328.1,422.3L328.1,422.4L328.9,422.4L328.9,422.5L329.7,422.5L329.7,422.9L330.5,422.9L330.5,422.7L331.3,422.7L331.3,422.7L332.1,422.7L332.1,422.2L332.9,422.2L332.9,421.9L333.7,421.9L333.7,422.0L334.5,422.0L334.5,422.2L335.3,422.2L335.3,422.1L336.1,422.1L336.1,422.1L336.9,422.1L336.9,422.3L337.7,422.3L337.7,422.0L338.5,422.0L338.5,422.3L339.3,422.3L339.3,422.0L340.1,422.0L340.1,421.9L340.9,421.9L340.9,422.4L341.7,422.4L341.7,422.0L342.5,422.0L342.5,421.3L343.3,421.3L343.3,422.1L344.1,422.1L344.1,422.2L344.9,422.2L344.9,421.8L345.7,421.8L345.7,421.5L346.5,421.5L346.5,421.8L347.3,421.8L347.3,421.0L348.1,421.0L348.1,420.4L348.9,420.4L348.9,419.2L349.7,419.2L349.7,420.2L350.5,420.2L350.5,419.9L351.3,419.9L351.3,420.5L352.1,420.5L352.1,420.9L352.9,420.9L352.9,420.0L353.7,420.0L353.7,420.1L354.5,420.1L354.5,420.0L355.3,420.0L355.3,418.9L356.1,418.9L356.1,418.8L356.9,418.8L356.9,418.1L357.7,418.1L357.7,414.7L358.5,414.7L358.5,417.6L359.3,417.6L359.3,417.9L360.1,417.9L360.1,417.1L360.9,417.1L360.9,416.4L361.7,416.4L361.7,414.0L362.5,414.0L362.5,418.8L363.3,418.8L363.3,417.2L364.1,417.2L364.1,418.6L364.9,418.6L364.9,419.8L365.7,419.8L365.7,419.1L366.5,419.1L366.5,415.7L367.3,415.7L367.3,416.5L368.1,416.5L368.1,416.5L368.9,416.5L368.9,416.6L369.7,416.6L369.7,417.6L370.5,417.6L370.5,417.6L371.3,417.6L371.3,414.4L372.1,414.4L372.1,416.5L372.9,416.5L372.9,417.6L373.7,417.6L373.7,418.9L374.5,418.9L374.5,418.6L375.3,418.6L375.3,415.0L376.1,415.0L376.1,416.9L376.9,416.9L376.9,416.3L377.7,416.3L377.7,417.6L378.5,417.6L378.5,419.4L379.3,419.4L379.3,418.8L380.1,418.8L380.1,416.4L380.9,416.4L380.9,417.1L381.7,417.1L381.7,416.7L382.5,416.7L382.5,415.8L383.3,415.8L383.3,415.9L384.1,415.9L384.1,419.8L384.9,419.8L384.9,419.3L385.7,419.3L385.7,417.6L386.5,417.6L386.5,418.1L387.3,418.1L387.3,416.2L388.1,416.2L388.1,415.4L388.9,415.4L388.9,415.8L389.7,415.8L389.7,416.3L390.5,416.3L390.5,416.7L391.3,416.7L391.3,415.5L392.1,415.5L392.1,414.7L392.9,414.7L392.9,416.1L393.7,416.1L393.7,417.7L394.5,417.7L394.5,415.0L395.3,415.0L395.3,415.5L396.1,415.5L396.1,414.7L396.9,414.7L396.9,416.0L397.7,416.0L397.7,416.3L398.5,416.3L398.5,417.7L399.3,417.7L399.3,414.6L400.1,414.6L400.1,410.6L400.9,410.6L400.9,412.5L401.7,412.5L401.7,413.1L402.5,413.1L402.5,412.7L403.3,412.7L403.3,416.9L404.1,416.9L404.1,414.2L404.9,414.2L404.9,415.6L405.7,415.6L405.7,418.4L406.5,418.4L406.5,419.7L407.3,419.7L407.3,416.5L408.1,416.5L408.1,414.2L408.9,414.2L408.9,412.7L409.7,412.7L409.7,413.7L410.5,413.7L410.5,414.1L411.3,414.1L411.3,416.0L412.1,416.0L412.1,413.3L412.9,413.3L412.9,412.5L413.7,412.5L413.7,415.6L414.5,415.6L414.5,417.2L415.3,417.2L415.3,412.4L416.1,412.4L416.1,412.4L416.9,412.4L416.9,417.5L417.7,417.5L417.7,417.2L418.5,417.2L418.5,414.9L419.3,414.9L419.3,416.3L420.1,416.3L420.1,418.6L420.9,418.6L420.9,420.0L421.7,420.0L421.7,420.7L422.5,420.7L422.5,421.9L423.3,421.9L423.3,420.6L424.1,420.6L424.1,420.9L424.9,420.9L424.9,419.2L425.7,419.2L425.7,419.8L426.5,419.8L426.5,420.4L427.3,420.4L427.3,419.6L428.1,419.6L428.1,421.0L428.9,421.0L428.9,421.2L429.7,421.2L429.7,421.6L430.5,421.6L430.5,422.1L431.3,422.1L431.3,421.8L432.1,421.8L432.1,421.3L432.9,421.3L432.9,421.5L433.7,421.5L433.7,421.5L434.5,421.5L434.5,421.7L435.3,421.7L435.3,422.3L436.1,422.3L436.1,422.0L436.9,422.0L436.9,422.5L437.7,422.5L437.7,422.5L438.5,422.5L438.5,422.9L439.3,422.9L439.3,422.9L440.1,422.9L440.1,422.8L440.9,422.8L440.9,422.5L441.7,422.5L441.7,422.7L442.5,422.7L442.5,422.8L443.3,422.8L443.3,422.7L444.1,422.7L444.1,422.3L444.9,422.3L444.9,422.5L445.7,422.5L445.7,422.6L446.5,422.6L446.5,422.8L447.3,422.8L447.3,422.5L448.1,422.5L448.1,422.6L448.9,422.6L448.9,422.8L449.7,422.8L449.7,423.2L450.5,423.2L450.5,422.7L451.3,422.7L451.3,423.0L452.1,423.0L452.1,422.9L452.9,422.9L452.9,422.7L453.7,422.7L453.7,423.0L454.5,423.0L454.5,422.6L455.3,422.6L455.3,422.9L456.1,422.9L456.1,422.7L456.9,422.7L456.9,422.7L457.7,422.7L457.7,422.7L458.5,422.7L458.5,422.6L459.3,422.6L459.3,422.7L460.1,422.7L460.1,422.9L460.9,422.9L460.9,422.9L461.7,422.9L461.7,422.8L462.5,422.8L462.5,422.8L463.3,422.8L463.3,422.9L464.1,422.9L464.1,422.9L464.9,422.9L464.9,422.8L465.7,422.8L465.7,423.0L466.5,423.0L466.5,422.9L467.3,422.9L467.3,422.5L468.1,422.5L468.1,422.6L468.9,422.6L468.9,422.8L469.7,422.8L469.7,422.8L470.5,422.8L470.5,422.9L471.3,422.9L471.3,422.8L472.1,422.8L472.1,422.9L472.9,422.9L472.9,423.1L473.7,423.1L473.7,423.0L474.5,423.0L474.5,422.8L475.3,422.8L475.3,422.8L476.1,422.8L476.1,422.9L476.9,422.9L476.9,422.9L477.7,422.9L477.7,422.8L478.5,422.8L478.5,422.9L479.3,422.9L479.3,422.9L480.1,422.9L480.1,422.8L480.9,422.8L480.9,422.7L481.7,422.7L481.7,422.9L482.5,422.9L482.5,422.8L483.3,422.8L483.3,422.7L484.1,422.7L484.1,422.8L484.9,422.8L484.9,422.7L485.7,422.7L485.7,422.7L486.5,422.7L486.5,422.9L487.3,422.9L487.3,422.9L488.1,422.9L488.1,422.7L488.9,422.7L488.9,422.8L489.7,422.8L489.7,422.7L490.5,422.7L490.5,422.8L491.3,422.8L491.3,422.9L492.1,422.9L492.1,423.1L492.9,423.1L492.9,422.7L493.7,422.7L493.7,422.8L494.5,422.8L494.5,422.8L495.3,422.8L495.3,422.7L496.1,422.7L496.1,422.7L496.9,422.7L496.9,422.7L497.7,422.7L497.7,422.6L498.5,422.6L498.5,422.7L499.3,422.7L499.3,422.6L500.1,422.6L500.6,423.5Z" fill="#347b95"/>
<path d="M315.3,442.0L315.3,441.2L316.1,441.2L316.1,441.4L316.9,441.4L316.9,441.5L317.7,441.5L317.7,441.7L318.5,441.7L318.5,441.2L319.3,441.2L319.3,441.1L320.1,441.1L320.1,441.4L320.9,441.4L320.9,441.5L321.7,441.5L321.7,441.3L322.5,441.3L322.5,441.1L323.3,441.1L323.3,441.1L324.1,441.1L324.1,441.1L324.9,441.1L324.9,441.5L325.7,441.5L325.7,441.2L326.5,441.2L326.5,440.8L327.3,440.8L327.3,441.2L328.1,441.2L328.1,441.1L328.9,441.1L328.9,440.9L329.7,440.9L329.7,440.9L330.5,440.9L330.5,440.8L331.3,440.8L331.3,440.7L332.1,440.7L332.1,440.8L332.9,440.8L332.9,441.0L333.7,441.0L333.7,440.4L334.5,440.4L334.5,440.7L335.3,440.7L335.3,440.7L336.1,440.7L336.1,441.0L336.9,441.0L336.9,440.9L337.7,440.9L337.7,441.0L338.5,441.0L338.5,440.9L339.3,440.9L339.3,440.8L340.1,440.8L340.1,440.7L340.9,440.7L340.9,441.2L341.7,441.2L341.7,440.3L342.5,440.3L342.5,440.1L343.3,440.1L343.3,439.8L344.1,439.8L344.1,440.3L344.9,440.3L344.9,439.9L345.7,439.9L345.7,439.9L346.5,439.9L346.5,439.7L347.3,439.7L347.3,439.6L348.1,439.6L348.1,439.8L348.9,439.8L348.9,440.0L349.7,440.0L349.7,440.0L350.5,440.0L350.5,439.9L351.3,439.9L351.3,439.8L352.1,439.8L352.1,438.2L352.9,438.2L352.9,439.6L353.7,439.6L353.7,439.9L354.5,439.9L354.5,440.5L355.3,440.5L355.3,439.1L356.1,439.1L356.1,438.5L356.9,438.5L356.9,438.0L357.7,438.0L357.7,438.2L358.5,438.2L358.5,438.0L359.3,438.0L359.3,437.9L360.1,437.9L360.1,436.0L360.9,436.0L360.9,436.3L361.7,436.3L361.7,435.7L362.5,435.7L362.5,437.1L363.3,437.1L363.3,437.6L364.1,437.6L364.1,438.5L364.9,438.5L364.9,438.9L365.7,438.9L365.7,438.4L366.5,438.4L366.5,437.3L367.3,437.3L367.3,436.1L368.1,436.1L368.1,437.6L368.9,437.6L368.9,437.1L369.7,437.1L369.7,435.9L370.5,435.9L370.5,436.9L371.3,436.9L371.3,435.8L372.1,435.8L372.1,438.5L372.9,438.5L372.9,437.5L373.7,437.5L373.7,438.1L374.5,438.1L374.5,436.3L375.3,436.3L375.3,436.3L376.1,436.3L376.1,438.2L376.9,438.2L376.9,435.3L377.7,435.3L377.7,435.9L378.5,435.9L378.5,434.2L379.3,434.2L379.3,435.5L380.1,435.5L380.1,435.7L380.9,435.7L380.9,437.8L381.7,437.8L381.7,436.7L382.5,436.7L382.5,436.9L383.3,436.9L383.3,436.1L384.1,436.1L384.1,433.0L384.9,433.0L384.9,436.0L385.7,436.0L385.7,436.2L386.5,436.2L386.5,437.4L387.3,437.4L387.3,435.5L388.1,435.5L388.1,435.5L388.9,435.5L388.9,435.3L389.7,435.3L389.7,435.1L390.5,435.1L390.5,436.0L391.3,436.0L391.3,436.9L392.1,436.9L392.1,438.0L392.9,438.0L392.9,435.9L393.7,435.9L393.7,436.0L394.5,436.0L394.5,436.9L395.3,436.9L395.3,435.0L396.1,435.0L396.1,436.9L396.9,436.9L396.9,437.4L397.7,437.4L397.7,434.7L398.5,434.7L398.5,435.5L399.3,435.5L399.3,437.2L400.1,437.2L400.1,436.8L400.9,436.8L400.9,436.7L401.7,436.7L401.7,437.1L402.5,437.1L402.5,435.4L403.3,435.4L403.3,436.4L404.1,436.4L404.1,436.2L404.9,436.2L404.9,436.6L405.7,436.6L405.7,439.2L406.5,439.2L406.5,435.7L407.3,435.7L407.3,436.6L408.1,436.6L408.1,436.2L408.9,436.2L408.9,431.8L409.7,431.8L409.7,434.9L410.5,434.9L410.5,435.7L411.3,435.7L411.3,435.4L412.1,435.4L412.1,437.9L412.9,437.9L412.9,437.8L413.7,437.8L413.7,435.5L414.5,435.5L414.5,438.4L415.3,438.4L415.3,435.8L416.1,435.8L416.1,437.0L416.9,437.0L416.9,436.0L417.7,436.0L417.7,436.3L418.5,436.3L418.5,437.7L419.3,437.7L419.3,438.0L420.1,438.0L420.1,438.9L420.9,438.9L420.9,439.3L421.7,439.3L421.7,440.4L422.5,440.4L422.5,440.7L423.3,440.7L423.3,440.8L424.1,440.8L424.1,440.3L424.9,440.3L424.9,440.1L425.7,440.1L425.7,440.1L426.5,440.1L426.5,440.0L427.3,440.0L427.3,440.7L428.1,440.7L428.1,440.6L428.9,440.6L428.9,441.0L429.7,441.0L429.7,440.8L430.5,440.8L430.5,440.7L431.3,440.7L431.3,440.9L432.1,440.9L432.1,440.8L432.9,440.8L432.9,441.3L433.7,441.3L433.7,441.2L434.5,441.2L434.5,441.0L435.3,441.0L435.3,441.0L436.1,441.0L436.1,440.7L436.9,440.7L436.9,441.0L437.7,441.0L437.7,440.8L438.5,440.8L438.5,440.9L439.3,440.9L439.3,440.8L440.1,440.8L440.1,441.0L440.9,441.0L440.9,441.0L441.7,441.0L441.7,441.0L442.5,441.0L442.5,441.0L443.3,441.0L443.3,441.0L444.1,441.0L444.1,440.9L444.9,440.9L444.9,441.2L445.7,441.2L445.7,441.1L446.5,441.1L446.5,441.0L447.3,441.0L447.3,441.3L448.1,441.3L448.1,441.1L448.9,441.1L448.9,441.1L449.7,441.1L449.7,441.1L450.5,441.1L450.5,441.0L451.3,441.0L451.3,441.1L452.1,441.1L452.1,441.3L452.9,441.3L452.9,441.2L453.7,441.2L453.7,441.0L454.5,441.0L454.5,441.0L455.3,441.0L455.3,441.2L456.1,441.2L456.1,440.9L456.9,440.9L456.9,441.1L457.7,441.1L457.7,441.1L458.5,441.1L458.5,441.2L459.3,441.2L459.3,441.0L460.1,441.0L460.1,440.9L460.9,440.9L460.9,441.1L461.7,441.1L461.7,441.2L462.5,441.2L462.5,440.8L463.3,440.8L463.3,441.2L464.1,441.2L464.1,441.3L464.9,441.3L464.9,441.2L465.7,441.2L465.7,441.0L466.5,441.0L466.5,440.8L467.3,440.8L467.3,441.0L468.1,441.0L468.1,441.1L468.9,441.1L468.9,441.1L469.7,441.1L469.7,441.2L470.5,441.2L470.5,441.3L471.3,441.3L471.3,441.3L472.1,441.3L472.1,441.2L472.9,441.2L472.9,441.4L473.7,441.4L473.7,441.4L474.5,441.4L474.5,441.3L475.3,441.3L475.3,441.2L476.1,441.2L476.1,441.1L476.9,441.1L476.9,441.2L477.7,441.2L477.7,441.4L478.5,441.4L478.5,441.5L479.3,441.5L479.3,441.4L480.1,441.4L480.1,441.0L480.9,441.0L480.9,441.0L481.7,441.0L481.7,441.0L482.5,441.0L482.5,441.3L483.3,441.3L483.3,441.4L484.1,441.4L484.1,440.9L484.9,440.9L484.9,441.0L485.7,441.0L485.7,441.1L486.5,441.1L486.5,441.2L487.3,441.2L487.3,441.4L488.1,441.4L488.1,441.5L488.9,441.5L488.9,441.4L489.7,441.4L489.7,441.4L490.5,441.4L490.5,441.5L491.3,441.5L491.3,441.7L492.1,441.7L492.1,441.3L492.9,441.3L492.9,441.4L493.7,441.4L493.7,441.5L494.5,441.5L494.5,441.3L495.3,441.3L495.3,441.2L496.1,441.2L496.1,441.4L496.9,441.4L496.9,441.3L497.7,441.3L497.7,441.5L498.5,441.5L498.5,441.2L499.3,441.2L499.3,441.2L500.1,441.2L500.6,442.0Z" fill="#c00000"/>
<path d="M315.3,460.6L315.3,460.2L316.1,460.2L316.1,460.1L316.9,460.1L316.9,460.2L317.7,460.2L317.7,460.3L318.5,460.3L318.5,460.3L319.3,460.3L319.3,460.4L320.1,460.4L320.1,460.2L320.9,460.2L320.9,460.2L321.7,460.2L321.7,460.2L322.5,460.2L322.5,460.1L323.3,460.1L323.3,460.1L324.1,460.1L324.1,460.2L324.9,460.2L324.9,460.0L325.7,460.0L325.7,460.0L326.5,460.0L326.5,460.1L327.3,460.1L327.3,459.8L328.1,459.8L328.1,459.5L328.9,459.5L328.9,459.5L329.7,459.5L329.7,459.7L330.5,459.7L330.5,459.5L331.3,459.5L331.3,459.4L332.1,459.4L332.1,458.9L332.9,458.9L332.9,458.6L333.7,458.6L333.7,458.7L334.5,458.7L334.5,458.9L335.3,458.9L335.3,458.7L336.1,458.7L336.1,458.6L336.9,458.6L336.9,458.7L337.7,458.7L337.7,459.0L338.5,459.0L338.5,459.2L339.3,459.2L339.3,457.6L340.1,457.6L340.1,458.5L340.9,458.5L340.9,458.5L341.7,458.5L341.7,459.0L342.5,459.0L342.5,458.1L343.3,458.1L343.3,458.4L344.1,458.4L344.1,456.6L344.9,456.6L344.9,455.3L345.7,455.3L345.7,456.3L346.5,456.3L346.5,457.8L347.3,457.8L347.3,456.9L348.1,456.9L348.1,456.1L348.9,456.1L348.9,456.8L349.7,456.8L349.7,456.6L350.5,456.6L350.5,454.0L351.3,454.0L351.3,455.2L352.1,455.2L352.1,455.6L352.9,455.6L352.9,454.8L353.7,454.8L353.7,454.0L354.5,454.0L354.5,454.0L355.3,454.0L355.3,455.2L356.1,455.2L356.1,455.5L356.9,455.5L356.9,454.8L357.7,454.8L357.7,454.8L358.5,454.8L358.5,456.4L359.3,456.4L359.3,455.9L360.1,455.9L360.1,456.3L360.9,456.3L360.9,455.4L361.7,455.4L361.7,455.5L362.5,455.5L362.5,456.1L363.3,456.1L363.3,457.4L364.1,457.4L364.1,458.1L364.9,458.1L364.9,458.2L365.7,458.2L365.7,457.8L366.5,457.8L366.5,458.6L367.3,458.6L367.3,459.0L368.1,459.0L368.1,459.7L368.9,459.7L368.9,459.7L369.7,459.7L369.7,459.3L370.5,459.3L370.5,460.1L371.3,460.1L371.3,459.9L372.1,459.9L372.1,459.8L372.9,459.8L372.9,459.6L373.7,459.6L373.7,459.0L374.5,459.0L374.5,458.6L375.3,458.6L375.3,458.2L376.1,458.2L376.1,458.5L376.9,458.5L376.9,458.5L377.7,458.5L377.7,458.7L378.5,458.7L378.5,459.0L379.3,459.0L379.3,459.3L380.1,459.3L380.1,458.9L380.9,458.9L380.9,458.9L381.7,458.9L381.7,458.1L382.5,458.1L382.5,458.8L383.3,458.8L383.3,458.1L384.1,458.1L384.1,457.6L384.9,457.6L384.9,457.8L385.7,457.8L385.7,456.9L386.5,456.9L386.5,456.5L387.3,456.5L387.3,456.7L388.1,456.7L388.1,454.8L388.9,454.8L388.9,454.5L389.7,454.5L389.7,453.8L390.5,453.8L390.5,454.9L391.3,454.9L391.3,456.7L392.1,456.7L392.1,457.1L392.9,457.1L392.9,457.3L393.7,457.3L393.7,457.6L394.5,457.6L394.5,457.3L395.3,457.3L395.3,457.3L396.1,457.3L396.1,457.4L396.9,457.4L396.9,457.0L397.7,457.0L397.7,455.6L398.5,455.6L398.5,455.3L399.3,455.3L399.3,453.6L400.1,453.6L400.1,454.0L400.9,454.0L400.9,454.5L401.7,454.5L401.7,456.5L402.5,456.5L402.5,456.1L403.3,456.1L403.3,457.4L404.1,457.4L404.1,456.8L404.9,456.8L404.9,458.8L405.7,458.8L405.7,455.8L406.5,455.8L406.5,455.9L407.3,455.9L407.3,457.3L408.1,457.3L408.1,455.6L408.9,455.6L408.9,455.7L409.7,455.7L409.7,456.7L410.5,456.7L410.5,454.3L411.3,454.3L411.3,455.4L412.1,455.4L412.1,455.7L412.9,455.7L412.9,457.2L413.7,457.2L413.7,456.6L414.5,456.6L414.5,454.9L415.3,454.9L415.3,454.4L416.1,454.4L416.1,456.3L416.9,456.3L416.9,456.6L417.7,456.6L417.7,455.5L418.5,455.5L418.5,454.9L419.3,454.9L419.3,454.2L420.1,454.2L420.1,456.9L420.9,456.9L420.9,459.5L421.7,459.5L421.7,460.3L422.5,460.3L422.5,460.5L423.3,460.5L423.3,460.1L424.1,460.1L424.1,460.5L424.9,460.5L424.9,460.3L425.7,460.3L425.7,460.1L426.5,460.1L426.5,460.3L427.3,460.3L427.3,460.3L428.1,460.3L428.1,460.0L428.9,460.0L428.9,460.1L429.7,460.1L429.7,459.9L430.5,459.9L430.5,459.9L431.3,459.9L431.3,459.8L432.1,459.8L432.1,460.1L432.9,460.1L432.9,459.9L433.7,459.9L433.7,460.0L434.5,460.0L434.5,460.1L435.3,460.1L435.3,460.1L436.1,460.1L436.1,460.0L436.9,460.0L436.9,460.2L437.7,460.2L437.7,460.3L438.5,460.3L438.5,460.1L439.3,460.1L439.3,460.3L440.1,460.3L440.1,460.2L440.9,460.2L440.9,460.2L441.7,460.2L441.7,460.2L442.5,460.2L442.5,460.3L443.3,460.3L443.3,460.1L444.1,460.1L444.1,460.0L444.9,460.0L444.9,460.2L445.7,460.2L445.7,460.0L446.5,460.0L446.5,460.1L447.3,460.1L447.3,460.2L448.1,460.2L448.1,460.1L448.9,460.1L448.9,460.3L449.7,460.3L449.7,460.3L450.5,460.3L450.5,460.2L451.3,460.2L451.3,460.1L452.1,460.1L452.1,460.1L452.9,460.1L452.9,460.1L453.7,460.1L453.7,460.0L454.5,460.0L454.5,460.2L455.3,460.2L455.3,460.2L456.1,460.2L456.1,460.1L456.9,460.1L456.9,460.2L457.7,460.2L457.7,460.1L458.5,460.1L458.5,460.1L459.3,460.1L459.3,460.2L460.1,460.2L460.1,460.1L460.9,460.1L460.9,460.2L461.7,460.2L461.7,460.3L462.5,460.3L462.5,460.3L463.3,460.3L463.3,460.1L464.1,460.1L464.1,460.1L464.9,460.1L464.9,460.3L465.7,460.3L465.7,460.3L466.5,460.3L466.5,460.2L467.3,460.2L467.3,460.4L468.1,460.4L468.1,460.2L468.9,460.2L468.9,460.2L469.7,460.2L469.7,460.2L470.5,460.2L470.5,460.3L471.3,460.3L471.3,460.3L472.1,460.3L472.1,460.2L472.9,460.2L472.9,460.3L473.7,460.3L473.7,460.1L474.5,460.1L474.5,460.2L475.3,460.2L475.3,460.1L476.1,460.1L476.1,460.2L476.9,460.2L476.9,460.2L477.7,460.2L477.7,459.9L478.5,459.9L478.5,460.2L479.3,460.2L479.3,460.2L480.1,460.2L480.1,460.2L480.9,460.2L480.9,460.3L481.7,460.3L481.7,460.3L482.5,460.3L482.5,460.4L483.3,460.4L483.3,460.4L484.1,460.4L484.1,460.2L484.9,460.2L484.9,460.2L485.7,460.2L485.7,460.3L486.5,460.3L486.5,460.2L487.3,460.2L487.3,460.3L488.1,460.3L488.1,460.2L488.9,460.2L488.9,460.2L489.7,460.2L489.7,460.3L490.5,460.3L490.5,460.1L491.3,460.1L491.3,460.3L492.1,460.3L492.1,460.3L492.9,460.3L492.9,460.3L493.7,460.3L493.7,460.4L494.5,460.4L494.5,460.5L495.3,460.5L495.3,460.6L496.1,460.6L496.1,460.3L496.9,460.3L496.9,460.4L497.7,460.4L497.7,460.4L498.5,460.4L498.5,460.3L499.3,460.3L499.3,460.2L500.1,460.2L500.6,460.6Z" fill="#347b95"/>
<path d="M315.3,479.2L315.3,478.9L316.1,478.9L316.1,478.9L316.9,478.9L316.9,478.9L317.7,478.9L317.7,478.9L318.5,478.9L318.5,478.8L319.3,478.8L319.3,478.8L320.1,478.8L320.1,478.6L320.9,478.6L320.9,478.7L321.7,478.7L321.7,478.7L322.5,478.7L322.5,478.6L323.3,478.6L323.3,478.7L324.1,478.7L324.1,478.6L324.9,478.6L324.9,478.6L325.7,478.6L325.7,478.6L326.5,478.6L326.5,478.1L327.3,478.1L327.3,478.1L328.1,478.1L328.1,478.5L328.9,478.5L328.9,478.0L329.7,478.0L329.7,477.8L330.5,477.8L330.5,477.9L331.3,477.9L331.3,477.6L332.1,477.6L332.1,478.1L332.9,478.1L332.9,478.0L333.7,478.0L333.7,478.1L334.5,478.1L334.5,478.3L335.3,478.3L335.3,477.3L336.1,477.3L336.1,477.4L336.9,477.4L336.9,478.1L337.7,478.1L337.7,476.4L338.5,476.4L338.5,476.1L339.3,476.1L339.3,476.8L340.1,476.8L340.1,477.9L340.9,477.9L340.9,477.9L341.7,477.9L341.7,476.6L342.5,476.6L342.5,475.4L343.3,475.4L343.3,475.5L344.1,475.5L344.1,475.3L344.9,475.3L344.9,475.9L345.7,475.9L345.7,474.6L346.5,474.6L346.5,476.1L347.3,476.1L347.3,474.9L348.1,474.9L348.1,474.9L348.9,474.9L348.9,473.5L349.7,473.5L349.7,472.2L350.5,472.2L350.5,476.6L351.3,476.6L351.3,474.2L352.1,474.2L352.1,476.3L352.9,476.3L352.9,473.2L353.7,473.2L353.7,472.6L354.5,472.6L354.5,470.5L355.3,470.5L355.3,473.2L356.1,473.2L356.1,475.0L356.9,475.0L356.9,472.1L357.7,472.1L357.7,473.5L358.5,473.5L358.5,473.8L359.3,473.8L359.3,472.2L360.1,472.2L360.1,475.2L360.9,475.2L360.9,475.4L361.7,475.4L361.7,475.6L362.5,475.6L362.5,474.0L363.3,474.0L363.3,476.3L364.1,476.3L364.1,475.6L364.9,475.6L364.9,476.2L365.7,476.2L365.7,477.2L366.5,477.2L366.5,477.1L367.3,477.1L367.3,477.4L368.1,477.4L368.1,477.1L368.9,477.1L368.9,476.5L369.7,476.5L369.7,476.9L370.5,476.9L370.5,476.4L371.3,476.4L371.3,476.4L372.1,476.4L372.1,476.6L372.9,476.6L372.9,477.1L373.7,477.1L373.7,477.2L374.5,477.2L374.5,476.7L375.3,476.7L375.3,477.2L376.1,477.2L376.1,477.2L376.9,477.2L376.9,477.4L377.7,477.4L377.7,478.0L378.5,478.0L378.5,477.1L379.3,477.1L379.3,476.9L380.1,476.9L380.1,477.9L380.9,477.9L380.9,477.4L381.7,477.4L381.7,477.5L382.5,477.5L382.5,475.9L383.3,475.9L383.3,475.9L384.1,475.9L384.1,475.6L384.9,475.6L384.9,473.5L385.7,473.5L385.7,474.2L386.5,474.2L386.5,471.2L387.3,471.2L387.3,469.1L388.1,469.1L388.1,469.7L388.9,469.7L388.9,468.2L389.7,468.2L389.7,467.9L390.5,467.9L390.5,472.9L391.3,472.9L391.3,474.1L392.1,474.1L392.1,474.4L392.9,474.4L392.9,475.4L393.7,475.4L393.7,475.5L394.5,475.5L394.5,475.3L395.3,475.3L395.3,475.0L396.1,475.0L396.1,476.1L396.9,476.1L396.9,474.0L397.7,474.0L397.7,475.1L398.5,475.1L398.5,474.0L399.3,474.0L399.3,473.2L400.1,473.2L400.1,473.2L400.9,473.2L400.9,471.4L401.7,471.4L401.7,469.4L402.5,469.4L402.5,470.4L403.3,470.4L403.3,469.0L404.1,469.0L404.1,468.7L404.9,468.7L404.9,468.7L405.7,468.7L405.7,471.3L406.5,471.3L406.5,471.3L407.3,471.3L407.3,469.7L408.1,469.7L408.1,472.5L408.9,472.5L408.9,471.5L409.7,471.5L409.7,472.8L410.5,472.8L410.5,470.6L411.3,470.6L411.3,471.4L412.1,471.4L412.1,471.6L412.9,471.6L412.9,469.5L413.7,469.5L413.7,468.4L414.5,468.4L414.5,467.7L415.3,467.7L415.3,470.0L416.1,470.0L416.1,467.0L416.9,467.0L416.9,469.4L417.7,469.4L417.7,470.0L418.5,470.0L418.5,469.8L419.3,469.8L419.3,470.9L420.1,470.9L420.1,470.1L420.9,470.1L420.9,475.2L421.7,475.2L421.7,477.3L422.5,477.3L422.5,478.7L423.3,478.7L423.3,478.9L424.1,478.9L424.1,478.9L424.9,478.9L424.9,478.9L425.7,478.9L425.7,478.7L426.5,478.7L426.5,478.8L427.3,478.8L427.3,478.8L428.1,478.8L428.1,478.8L428.9,478.8L428.9,478.9L429.7,478.9L429.7,478.8L430.5,478.8L430.5,478.6L431.3,478.6L431.3,478.5L432.1,478.5L432.1,478.6L432.9,478.6L432.9,478.8L433.7,478.8L433.7,478.6L434.5,478.6L434.5,478.7L435.3,478.7L435.3,478.7L436.1,478.7L436.1,479.0L436.9,479.0L436.9,478.8L437.7,478.8L437.7,479.0L438.5,479.0L438.5,478.9L439.3,478.9L439.3,478.8L440.1,478.8L440.1,478.7L440.9,478.7L440.9,478.7L441.7,478.7L441.7,478.7L442.5,478.7L442.5,478.7L443.3,478.7L443.3,478.8L444.1,478.8L444.1,478.8L444.9,478.8L444.9,478.8L445.7,478.8L445.7,478.7L446.5,478.7L446.5,478.9L447.3,478.9L447.3,478.9L448.1,478.9L448.1,478.7L448.9,478.7L448.9,478.7L449.7,478.7L449.7,478.8L450.5,478.8L450.5,478.8L451.3,478.8L451.3,478.8L452.1,478.8L452.1,478.8L452.9,478.8L452.9,478.7L453.7,478.7L453.7,478.8L454.5,478.8L454.5,478.8L455.3,478.8L455.3,478.8L456.1,478.8L456.1,478.8L456.9,478.8L456.9,478.9L457.7,478.9L457.7,478.9L458.5,478.9L458.5,478.9L459.3,478.9L459.3,478.7L460.1,478.7L460.1,478.7L460.9,478.7L460.9,478.9L461.7,478.9L461.7,478.9L462.5,478.9L462.5,479.0L463.3,479.0L463.3,478.9L464.1,478.9L464.1,478.8L464.9,478.8L464.9,478.7L465.7,478.7L465.7,478.9L466.5,478.9L466.5,478.8L467.3,478.8L467.3,478.9L468.1,478.9L468.1,478.9L468.9,478.9L468.9,478.9L469.7,478.9L469.7,478.8L470.5,478.8L470.5,478.7L471.3,478.7L471.3,478.6L472.1,478.6L472.1,478.8L472.9,478.8L472.9,478.9L473.7,478.9L473.7,478.9L474.5,478.9L474.5,478.9L475.3,478.9L475.3,479.0L476.1,479.0L476.1,478.8L476.9,478.8L476.9,478.9L477.7,478.9L477.7,478.9L478.5,478.9L478.5,479.0L479.3,479.0L479.3,479.0L480.1,479.0L480.1,478.8L480.9,478.8L480.9,478.8L481.7,478.8L481.7,478.8L482.5,478.8L482.5,478.9L483.3,478.9L483.3,478.9L484.1,478.9L484.1,478.9L484.9,478.9L484.9,478.9L485.7,478.9L485.7,478.9L486.5,478.9L486.5,478.9L487.3,478.9L487.3,478.9L488.1,478.9L488.1,478.7L488.9,478.7L488.9,479.0L489.7,479.0L489.7,478.9L490.5,478.9L490.5,479.0L491.3,479.0L491.3,478.9L492.1,478.9L492.1,478.9L492.9,478.9L492.9,479.0L493.7,479.0L493.7,478.9L494.5,478.9L494.5,478.8L495.3,478.8L495.3,478.8L496.1,478.8L496.1,478.9L496.9,478.9L496.9,478.8L497.7,478.8L497.7,478.9L498.5,478.9L498.5,478.8L499.3,478.8L499.3,478.8L500.1,478.8L500.6,479.2Z" fill="#c00000"/>
<line x1="315.30" y1="423.50" x2="499.80" y2="423.50" stroke="#347b95" stroke-width="0.8" />
<line x1="315.30" y1="460.60" x2="499.80" y2="460.60" stroke="#347b95" stroke-width="0.7" />
<line x1="315.30" y1="479.20" x2="499.80" y2="479.20" stroke="#e8a0a0" stroke-width="1.0" />
<line x1="315.30" y1="442.00" x2="499.80" y2="442.00" stroke="#c00000" stroke-width="0.8" />
<path d="M369.4,498.0L369.4,492.6L370.2,492.6L370.2,491.1L371.0,491.1L371.0,491.1L371.8,491.1L371.8,490.0L372.6,490.0L372.6,490.5L373.4,490.5L373.4,488.7L374.2,488.7L374.2,491.9L375.0,491.9L375.0,492.0L375.8,492.0L375.8,492.5L376.6,492.5L376.6,492.8L377.4,492.8L377.4,490.7L378.2,490.7L378.2,492.6L379.0,492.6L379.0,493.4L379.8,493.4L379.8,487.9L380.6,487.9L380.6,488.7L381.4,488.7L381.4,490.6L382.2,490.6L382.2,490.0L383.0,490.0L383.0,486.1L383.8,486.1L384.4,498.0Z" fill="#347b95"/>
<path d="M369.4,516.6L369.4,504.6L370.2,504.6L370.2,505.8L371.0,505.8L371.0,506.0L371.8,506.0L371.8,505.9L372.6,505.9L372.6,506.0L373.4,506.0L373.4,507.4L374.2,507.4L374.2,507.1L375.0,507.1L375.0,507.1L375.8,507.1L375.8,504.7L376.6,504.7L376.6,505.6L377.4,505.6L377.4,504.4L378.2,504.4L378.2,505.1L379.0,505.1L379.0,505.2L379.8,505.2L379.8,506.9L380.6,506.9L380.6,505.6L381.4,505.6L381.4,506.2L382.2,506.2L382.2,506.4L383.0,506.4L383.0,505.3L383.8,505.3L384.4,516.6Z" fill="#c00000"/>
<rect x="385.30" y="492.00" width="0.70" height="6.00" fill="#347b95" stroke="none" stroke-width="0.8" />
<rect x="385.30" y="507.10" width="0.70" height="9.50" fill="#c00000" stroke="none" stroke-width="0.8" />
<rect x="387.30" y="492.00" width="0.70" height="6.00" fill="#347b95" stroke="none" stroke-width="0.8" />
<rect x="387.30" y="507.10" width="0.70" height="9.50" fill="#c00000" stroke="none" stroke-width="0.8" />
<rect x="388.80" y="492.00" width="0.70" height="6.00" fill="#347b95" stroke="none" stroke-width="0.8" />
<rect x="388.80" y="507.10" width="0.70" height="9.50" fill="#c00000" stroke="none" stroke-width="0.8" />
<rect x="390.20" y="492.00" width="0.70" height="6.00" fill="#347b95" stroke="none" stroke-width="0.8" />
<rect x="390.20" y="507.10" width="0.70" height="9.50" fill="#c00000" stroke="none" stroke-width="0.8" />
<rect x="413.35" y="494.00" width="0.90" height="4.00" fill="#347b95" stroke="none" stroke-width="0.8" />
<rect x="417.55" y="496.80" width="0.90" height="1.20" fill="#347b95" stroke="none" stroke-width="0.8" />
<rect x="413.35" y="509.60" width="0.90" height="7.00" fill="#c00000" stroke="none" stroke-width="0.8" />
<rect x="417.55" y="515.10" width="0.90" height="1.50" fill="#c00000" stroke="none" stroke-width="0.8" />
<line x1="315.30" y1="498.00" x2="499.80" y2="498.00" stroke="#6aa3bb" stroke-width="0.7" />
<line x1="315.30" y1="516.60" x2="499.80" y2="516.60" stroke="#e8a0a0" stroke-width="1.0" />
<path d="M315.3,528.9L315.3,528.0L316.1,528.0L316.1,527.3L316.9,527.3L316.9,527.1L317.7,527.1L317.7,527.5L318.5,527.5L318.5,526.7L319.3,526.7L319.3,526.5L320.1,526.5L320.1,527.0L320.9,527.0L320.9,527.4L321.7,527.4L321.7,527.2L322.5,527.2L322.5,527.1L323.3,527.1L323.3,527.2L324.1,527.2L324.1,526.6L324.9,526.6L324.9,526.5L325.7,526.5L325.7,527.1L326.5,527.1L326.5,527.6L327.3,527.6L327.3,528.9L328.1,528.9L328.1,528.8L328.9,528.8L328.9,527.6L329.7,527.6L329.7,527.2L330.5,527.2L330.5,526.7L331.3,526.7L331.3,526.9L332.1,526.9L332.1,527.1L332.9,527.1L332.9,526.3L333.7,526.3L333.7,526.6L334.5,526.6L334.5,526.9L335.3,526.9L335.3,526.8L336.1,526.8L336.1,526.6L336.9,526.6L336.9,527.6L337.7,527.6L337.7,526.8L338.5,526.8L338.5,528.0L339.3,528.0L339.3,528.9L340.1,528.9L340.1,527.4L340.9,527.4L340.9,527.0L341.7,527.0L341.7,525.8L342.5,525.8L342.5,527.2L343.3,527.2L343.3,525.4L344.1,525.4L344.1,525.7L344.9,525.7L344.9,525.3L345.7,525.3L345.7,525.6L346.5,525.6L346.5,525.7L347.3,525.7L347.3,525.5L348.1,525.5L348.1,524.9L348.9,524.9L348.9,526.3L349.7,526.3L349.7,525.2L350.5,525.2L350.5,524.0L351.3,524.0L351.3,526.1L352.1,526.1L352.1,525.6L352.9,525.6L352.9,524.1L353.7,524.1L353.7,525.9L354.5,525.9L354.5,525.2L355.3,525.2L355.3,525.6L356.1,525.6L356.1,525.6L356.9,525.6L356.9,525.0L357.7,525.0L357.7,522.7L358.5,522.7L358.5,525.9L359.3,525.9L359.3,523.3L360.1,523.3L360.1,525.4L360.9,525.4L360.9,526.5L361.7,526.5L361.7,526.4L362.5,526.4L362.5,526.0L363.3,526.0L363.3,525.1L364.1,525.1L364.1,526.9L364.9,526.9L364.9,525.1L365.7,525.1L365.7,524.5L366.5,524.5L366.5,525.8L367.3,525.8L367.3,524.8L368.1,524.8L368.1,524.2L368.9,524.2L368.9,523.9L369.7,523.9L369.7,524.0L370.5,524.0L370.5,522.7L371.3,522.7L371.3,526.3L372.1,526.3L372.1,525.6L372.9,525.6L372.9,524.3L373.7,524.3L373.7,524.3L374.5,524.3L374.5,523.8L375.3,523.8L375.3,523.8L376.1,523.8L376.1,524.7L376.9,524.7L376.9,525.4L377.7,525.4L377.7,525.3L378.5,525.3L378.5,523.7L379.3,523.7L379.3,524.8L380.1,524.8L380.1,524.3L380.9,524.3L380.9,526.6L381.7,526.6L381.7,524.6L382.5,524.6L382.5,525.7L383.3,525.7L383.3,525.6L384.1,525.6L384.1,523.0L384.9,523.0L384.9,525.4L385.7,525.4L385.7,525.4L386.5,525.4L386.5,523.8L387.3,523.8L387.3,519.0L388.1,519.0L388.1,521.6L388.9,521.6L388.9,522.3L389.7,522.3L389.7,522.2L390.5,522.2L390.5,523.1L391.3,523.1L391.3,522.2L392.1,522.2L392.1,521.7L392.9,521.7L392.9,525.1L393.7,525.1L393.7,521.1L394.5,521.1L394.5,521.6L395.3,521.6L395.3,518.1L396.1,518.1L396.1,520.0L396.9,520.0L396.9,524.3L397.7,524.3L397.7,522.5L398.5,522.5L398.5,525.2L399.3,525.2L399.3,523.5L400.1,523.5L400.1,524.0L400.9,524.0L400.9,524.4L401.7,524.4L401.7,523.1L402.5,523.1L402.5,524.8L403.3,524.8L403.3,525.7L404.1,525.7L404.1,524.2L404.9,524.2L404.9,525.7L405.7,525.7L405.7,524.5L406.5,524.5L406.5,522.6L407.3,522.6L407.3,526.4L408.1,526.4L408.1,523.5L408.9,523.5L408.9,525.2L409.7,525.2L409.7,524.2L410.5,524.2L410.5,525.4L411.3,525.4L411.3,523.2L412.1,523.2L412.1,523.1L412.9,523.1L412.9,523.8L413.7,523.8L413.7,525.0L414.5,525.0L414.5,525.5L415.3,525.5L415.3,525.5L416.1,525.5L416.1,524.4L416.9,524.4L416.9,525.3L417.7,525.3L417.7,523.2L418.5,523.2L418.5,525.7L419.3,525.7L419.3,524.8L420.1,524.8L420.1,524.5L420.9,524.5L420.9,524.8L421.7,524.8L421.7,525.4L422.5,525.4L422.5,526.9L423.3,526.9L423.3,525.6L424.1,525.6L424.1,527.4L424.9,527.4L424.9,526.4L425.7,526.4L425.7,527.1L426.5,527.1L426.5,526.9L427.3,526.9L427.3,528.4L428.1,528.4L428.1,528.5L428.9,528.5L428.9,528.4L429.7,528.4L429.7,528.4L430.5,528.4L430.5,528.0L431.3,528.0L431.3,528.2L432.1,528.2L432.1,527.7L432.9,527.7L432.9,527.7L433.7,527.7L433.7,527.8L434.5,527.8L434.5,527.3L435.3,527.3L435.3,527.7L436.1,527.7L436.1,527.9L436.9,527.9L436.9,527.6L437.7,527.6L437.7,527.4L438.5,527.4L438.5,527.4L439.3,527.4L439.3,526.7L440.1,526.7L440.1,527.1L440.9,527.1L440.9,527.5L441.7,527.5L441.7,528.0L442.5,528.0L442.5,528.1L443.3,528.1L443.3,527.4L444.1,527.4L444.1,527.7L444.9,527.7L444.9,528.1L445.7,528.1L445.7,527.4L446.5,527.4L446.5,527.8L447.3,527.8L447.3,527.6L448.1,527.6L448.1,527.4L448.9,527.4L448.9,526.5L449.7,526.5L449.7,527.1L450.5,527.1L450.5,526.8L451.3,526.8L451.3,527.1L452.1,527.1L452.1,526.8L452.9,526.8L452.9,527.1L453.7,527.1L453.7,527.4L454.5,527.4L454.5,527.6L455.3,527.6L455.3,527.3L456.1,527.3L456.1,527.3L456.9,527.3L456.9,528.1L457.7,528.1L457.7,528.7L458.5,528.7L458.5,528.1L459.3,528.1L459.3,527.4L460.1,527.4L460.1,527.2L460.9,527.2L460.9,527.2L461.7,527.2L461.7,527.6L462.5,527.6L462.5,527.8L463.3,527.8L463.3,528.4L464.1,528.4L464.1,528.0L464.9,528.0L464.9,528.3L465.7,528.3L465.7,527.6L466.5,527.6L466.5,527.9L467.3,527.9L467.3,527.6L468.1,527.6L468.1,527.4L468.9,527.4L468.9,528.0L469.7,528.0L469.7,528.5L470.5,528.5L470.5,528.1L471.3,528.1L471.3,528.2L472.1,528.2L472.1,528.1L472.9,528.1L472.9,527.9L473.7,527.9L473.7,527.7L474.5,527.7L474.5,527.8L475.3,527.8L475.3,527.6L476.1,527.6L476.1,527.7L476.9,527.7L476.9,527.2L477.7,527.2L477.7,528.4L478.5,528.4L478.5,528.4L479.3,528.4L479.3,528.6L480.1,528.6L480.1,528.6L480.9,528.6L480.9,528.0L481.7,528.0L481.7,528.2L482.5,528.2L482.5,527.9L483.3,527.9L483.3,528.2L484.1,528.2L484.1,528.5L484.9,528.5L484.9,527.8L485.7,527.8L485.7,527.3L486.5,527.3L486.5,528.2L487.3,528.2L487.3,527.7L488.1,527.7L488.1,528.3L488.9,528.3L488.9,528.4L489.7,528.4L489.7,528.0L490.5,528.0L490.5,528.1L491.3,528.1L491.3,527.1L492.1,527.1L492.1,527.9L492.9,527.9L492.9,528.3L493.7,528.3L493.7,527.9L494.5,527.9L494.5,527.7L495.3,527.7L495.3,527.6L496.1,527.6L496.1,527.7L496.9,527.7L496.9,527.7L497.7,527.7L497.7,527.6L498.5,527.6L498.5,527.8L499.3,527.8L499.3,527.2L500.1,527.2L500.6,528.9Z" fill="#1a9bd2"/>
<rect x="369.27" y="528.90" width="0.90" height="2.21" fill="#f03a6c" stroke="none" stroke-width="0.8" />
<rect x="459.39" y="528.90" width="0.90" height="1.71" fill="#f03a6c" stroke="none" stroke-width="0.8" />
<rect x="432.36" y="528.90" width="0.90" height="2.10" fill="#f03a6c" stroke="none" stroke-width="0.8" />
<rect x="327.98" y="528.90" width="0.90" height="0.86" fill="#f03a6c" stroke="none" stroke-width="0.8" />
<rect x="450.11" y="528.90" width="0.90" height="1.13" fill="#f03a6c" stroke="none" stroke-width="0.8" />
<rect x="371.76" y="528.90" width="0.90" height="1.78" fill="#f03a6c" stroke="none" stroke-width="0.8" />
<rect x="473.59" y="528.90" width="0.90" height="1.74" fill="#f03a6c" stroke="none" stroke-width="0.8" />
<rect x="366.37" y="528.90" width="0.90" height="1.84" fill="#f03a6c" stroke="none" stroke-width="0.8" />
<rect x="334.19" y="528.90" width="0.90" height="1.51" fill="#f03a6c" stroke="none" stroke-width="0.8" />
<rect x="376.18" y="528.90" width="0.90" height="0.88" fill="#f03a6c" stroke="none" stroke-width="0.8" />
<rect x="400.02" y="528.90" width="0.90" height="1.34" fill="#f03a6c" stroke="none" stroke-width="0.8" />
<rect x="394.11" y="528.90" width="0.90" height="1.14" fill="#f03a6c" stroke="none" stroke-width="0.8" />
<rect x="413.84" y="528.90" width="0.90" height="1.93" fill="#f03a6c" stroke="none" stroke-width="0.8" />
<rect x="335.27" y="528.90" width="0.90" height="1.20" fill="#f03a6c" stroke="none" stroke-width="0.8" />
<rect x="365.58" y="528.90" width="0.90" height="2.09" fill="#f03a6c" stroke="none" stroke-width="0.8" />
<rect x="323.17" y="528.90" width="0.90" height="1.71" fill="#f03a6c" stroke="none" stroke-width="0.8" />
<rect x="496.16" y="528.90" width="0.90" height="1.46" fill="#f03a6c" stroke="none" stroke-width="0.8" />
<rect x="404.73" y="528.90" width="0.90" height="1.84" fill="#f03a6c" stroke="none" stroke-width="0.8" />
<rect x="367.99" y="528.90" width="0.90" height="2.31" fill="#f03a6c" stroke="none" stroke-width="0.8" />
<rect x="346.27" y="528.90" width="0.90" height="1.36" fill="#f03a6c" stroke="none" stroke-width="0.8" />
<rect x="426.19" y="528.90" width="0.90" height="0.90" fill="#f03a6c" stroke="none" stroke-width="0.8" />
<rect x="316.45" y="528.90" width="0.90" height="2.26" fill="#f03a6c" stroke="none" stroke-width="0.8" />
<rect x="344.45" y="528.90" width="0.90" height="1.29" fill="#f03a6c" stroke="none" stroke-width="0.8" />
<rect x="437.80" y="528.90" width="0.90" height="2.32" fill="#f03a6c" stroke="none" stroke-width="0.8" />
<rect x="412.14" y="528.90" width="0.90" height="1.61" fill="#f03a6c" stroke="none" stroke-width="0.8" />
<rect x="445.04" y="528.90" width="0.90" height="1.49" fill="#f03a6c" stroke="none" stroke-width="0.8" />
<rect x="470.72" y="528.90" width="0.90" height="2.23" fill="#f03a6c" stroke="none" stroke-width="0.8" />
<rect x="374.91" y="528.90" width="0.90" height="0.99" fill="#f03a6c" stroke="none" stroke-width="0.8" />
<rect x="455.20" y="528.90" width="0.90" height="2.27" fill="#f03a6c" stroke="none" stroke-width="0.8" />
<rect x="462.90" y="528.90" width="0.90" height="1.27" fill="#f03a6c" stroke="none" stroke-width="0.8" />
<path d="M315.3,541.0L315.3,541.0L316.1,541.0L316.1,540.7L316.9,540.7L316.9,539.8L317.7,539.8L317.7,539.1L318.5,539.1L318.5,539.5L319.3,539.5L319.3,540.1L320.1,540.1L320.1,540.9L320.9,540.9L320.9,538.9L321.7,538.9L321.7,539.4L322.5,539.4L322.5,539.3L323.3,539.3L323.3,539.5L324.1,539.5L324.1,541.0L324.9,541.0L324.9,539.9L325.7,539.9L325.7,540.3L326.5,540.3L326.5,540.4L327.3,540.4L327.3,539.4L328.1,539.4L328.1,540.3L328.9,540.3L328.9,539.5L329.7,539.5L329.7,540.3L330.5,540.3L330.5,541.0L331.3,541.0L331.3,540.7L332.1,540.7L332.1,538.8L332.9,538.8L332.9,540.2L333.7,540.2L333.7,538.2L334.5,538.2L334.5,539.0L335.3,539.0L335.3,539.6L336.1,539.6L336.1,540.8L336.9,540.8L336.9,539.0L337.7,539.0L337.7,541.0L338.5,541.0L338.5,540.7L339.3,540.7L339.3,541.0L340.1,541.0L340.1,541.0L340.9,541.0L340.9,540.5L341.7,540.5L341.7,540.0L342.5,540.0L342.5,540.7L343.3,540.7L343.3,539.6L344.1,539.6L344.1,539.1L344.9,539.1L344.9,539.5L345.7,539.5L345.7,538.9L346.5,538.9L346.5,539.0L347.3,539.0L347.3,538.2L348.1,538.2L348.1,537.4L348.9,537.4L348.9,538.9L349.7,538.9L349.7,538.9L350.5,538.9L350.5,538.6L351.3,538.6L351.3,539.2L352.1,539.2L352.1,539.4L352.9,539.4L352.9,540.1L353.7,540.1L353.7,541.0L354.5,541.0L354.5,541.0L355.3,541.0L355.3,540.4L356.1,540.4L356.1,540.3L356.9,540.3L356.9,540.2L357.7,540.2L357.7,540.3L358.5,540.3L358.5,539.0L359.3,539.0L359.3,540.8L360.1,540.8L360.1,541.0L360.9,541.0L360.9,540.3L361.7,540.3L361.7,539.9L362.5,539.9L362.5,540.3L363.3,540.3L363.3,540.7L364.1,540.7L364.1,541.0L364.9,541.0L364.9,540.5L365.7,540.5L365.7,540.6L366.5,540.6L366.5,540.3L367.3,540.3L367.3,540.4L368.1,540.4L368.1,540.0L368.9,540.0L368.9,540.3L369.7,540.3L369.7,540.5L370.5,540.5L370.5,540.5L371.3,540.5L371.3,540.5L372.1,540.5L372.1,540.6L372.9,540.6L372.9,540.6L373.7,540.6L373.7,541.0L374.5,541.0L374.5,541.0L375.3,541.0L375.3,541.0L376.1,541.0L376.1,541.0L376.9,541.0L376.9,540.2L377.7,540.2L377.7,540.4L378.5,540.4L378.5,540.5L379.3,540.5L379.3,540.7L380.1,540.7L380.1,541.0L380.9,541.0L380.9,540.4L381.7,540.4L381.7,540.7L382.5,540.7L382.5,540.9L383.3,540.9L383.3,541.0L384.1,541.0L384.1,541.0L384.9,541.0L384.9,541.0L385.7,541.0L385.7,540.9L386.5,540.9L386.5,540.5L387.3,540.5L387.3,540.6L388.1,540.6L388.1,541.0L388.9,541.0L388.9,541.0L389.7,541.0L389.7,540.5L390.5,540.5L390.5,540.6L391.3,540.6L391.3,540.2L392.1,540.2L392.1,540.9L392.9,540.9L392.9,540.8L393.7,540.8L393.7,540.8L394.5,540.8L394.5,541.0L395.3,541.0L395.3,541.0L396.1,541.0L396.1,540.8L396.9,540.8L396.9,541.0L397.7,541.0L397.7,541.0L398.5,541.0L398.5,541.0L399.3,541.0L399.3,540.6L400.1,540.6L400.1,540.3L400.9,540.3L400.9,540.3L401.7,540.3L401.7,540.5L402.5,540.5L402.5,540.6L403.3,540.6L403.3,540.7L404.1,540.7L404.1,541.0L404.9,541.0L404.9,541.0L405.7,541.0L405.7,541.0L406.5,541.0L406.5,541.0L407.3,541.0L407.3,540.6L408.1,540.6L408.1,540.8L408.9,540.8L408.9,540.2L409.7,540.2L409.7,540.5L410.5,540.5L410.5,540.3L411.3,540.3L411.3,540.2L412.1,540.2L412.1,540.7L412.9,540.7L412.9,540.6L413.7,540.6L413.7,540.0L414.5,540.0L414.5,540.1L415.3,540.1L415.3,540.2L416.1,540.2L416.1,540.6L416.9,540.6L416.9,540.5L417.7,540.5L417.7,539.5L418.5,539.5L418.5,540.6L419.3,540.6L419.3,539.8L420.1,539.8L420.1,539.8L420.9,539.8L420.9,539.7L421.7,539.7L421.7,539.6L422.5,539.6L422.5,540.3L423.3,540.3L423.3,541.0L424.1,541.0L424.1,540.7L424.9,540.7L424.9,540.0L425.7,540.0L425.7,540.0L426.5,540.0L426.5,541.0L427.3,541.0L427.3,540.6L428.1,540.6L428.1,540.9L428.9,540.9L428.9,540.9L429.7,540.9L429.7,538.7L430.5,538.7L430.5,540.3L431.3,540.3L431.3,540.1L432.1,540.1L432.1,540.1L432.9,540.1L432.9,539.8L433.7,539.8L433.7,540.4L434.5,540.4L434.5,539.8L435.3,539.8L435.3,540.2L436.1,540.2L436.1,540.6L436.9,540.6L436.9,539.7L437.7,539.7L437.7,540.7L438.5,540.7L438.5,541.0L439.3,541.0L439.3,540.7L440.1,540.7L440.1,541.0L440.9,541.0L440.9,541.0L441.7,541.0L441.7,540.2L442.5,540.2L442.5,539.2L443.3,539.2L443.3,540.5L444.1,540.5L444.1,540.9L444.9,540.9L444.9,540.8L445.7,540.8L445.7,540.9L446.5,540.9L446.5,541.0L447.3,541.0L447.3,541.0L448.1,541.0L448.1,541.0L448.9,541.0L448.9,539.9L449.7,539.9L449.7,539.4L450.5,539.4L450.5,538.5L451.3,538.5L451.3,538.4L452.1,538.4L452.1,539.7L452.9,539.7L452.9,539.8L453.7,539.8L453.7,540.8L454.5,540.8L454.5,539.6L455.3,539.6L455.3,539.6L456.1,539.6L456.1,540.0L456.9,540.0L456.9,539.4L457.7,539.4L457.7,539.6L458.5,539.6L458.5,540.6L459.3,540.6L459.3,540.7L460.1,540.7L460.1,541.0L460.9,541.0L460.9,541.0L461.7,541.0L461.7,539.7L462.5,539.7L462.5,539.5L463.3,539.5L463.3,539.2L464.1,539.2L464.1,539.0L464.9,539.0L464.9,539.0L465.7,539.0L465.7,539.4L466.5,539.4L466.5,539.7L467.3,539.7L467.3,540.4L468.1,540.4L468.1,540.0L468.9,540.0L468.9,540.4L469.7,540.4L469.7,540.8L470.5,540.8L470.5,541.0L471.3,541.0L471.3,540.4L472.1,540.4L472.1,539.9L472.9,539.9L472.9,539.9L473.7,539.9L473.7,539.8L474.5,539.8L474.5,540.7L475.3,540.7L475.3,541.0L476.1,541.0L476.1,540.9L476.9,540.9L476.9,541.0L477.7,541.0L477.7,540.9L478.5,540.9L478.5,541.0L479.3,541.0L479.3,540.3L480.1,540.3L480.1,540.1L480.9,540.1L480.9,539.9L481.7,539.9L481.7,541.0L482.5,541.0L482.5,540.0L483.3,540.0L483.3,540.2L484.1,540.2L484.1,539.6L484.9,539.6L484.9,540.4L485.7,540.4L485.7,540.6L486.5,540.6L486.5,540.2L487.3,540.2L487.3,539.7L488.1,539.7L488.1,539.6L488.9,539.6L488.9,539.8L489.7,539.8L489.7,541.0L490.5,541.0L490.5,541.0L491.3,541.0L491.3,540.5L492.1,540.5L492.1,540.5L492.9,540.5L492.9,540.0L493.7,540.0L493.7,540.5L494.5,540.5L494.5,541.0L495.3,541.0L495.3,541.0L496.1,541.0L496.1,540.7L496.9,540.7L496.9,541.0L497.7,541.0L497.7,541.0L498.5,541.0L498.5,541.0L499.3,541.0L499.3,541.0L500.1,541.0L500.6,541.0Z" fill="#1a9bd2"/>
<path d="M315.3,541.0L315.3,541.4L316.1,541.4L316.1,541.8L316.9,541.8L316.9,541.7L317.7,541.7L317.7,541.9L318.5,541.9L318.5,541.4L319.3,541.4L319.3,541.0L320.1,541.0L320.1,541.6L320.9,541.6L320.9,542.3L321.7,542.3L321.7,541.8L322.5,541.8L322.5,541.6L323.3,541.6L323.3,541.5L324.1,541.5L324.1,541.4L324.9,541.4L324.9,541.5L325.7,541.5L325.7,542.0L326.5,542.0L326.5,542.1L327.3,542.1L327.3,541.6L328.1,541.6L328.1,541.8L328.9,541.8L328.9,542.1L329.7,542.1L329.7,541.6L330.5,541.6L330.5,541.2L331.3,541.2L331.3,541.5L332.1,541.5L332.1,541.5L332.9,541.5L332.9,541.4L333.7,541.4L333.7,541.4L334.5,541.4L334.5,541.2L335.3,541.2L335.3,541.5L336.1,541.5L336.1,541.9L336.9,541.9L336.9,541.8L337.7,541.8L337.7,541.7L338.5,541.7L338.5,541.6L339.3,541.6L339.3,542.0L340.1,542.0L340.1,542.5L340.9,542.5L340.9,541.9L341.7,541.9L341.7,541.9L342.5,541.9L342.5,541.5L343.3,541.5L343.3,541.7L344.1,541.7L344.1,541.8L344.9,541.8L344.9,542.1L345.7,542.1L345.7,541.4L346.5,541.4L346.5,541.9L347.3,541.9L347.3,542.0L348.1,542.0L348.1,542.1L348.9,542.1L348.9,542.1L349.7,542.1L349.7,541.6L350.5,541.6L350.5,541.5L351.3,541.5L351.3,542.5L352.1,542.5L352.1,543.2L352.9,543.2L352.9,544.4L353.7,544.4L353.7,544.4L354.5,544.4L354.5,545.2L355.3,545.2L355.3,545.6L356.1,545.6L356.1,544.6L356.9,544.6L356.9,543.0L357.7,543.0L357.7,544.6L358.5,544.6L358.5,545.2L359.3,545.2L359.3,541.9L360.1,541.9L360.1,544.2L360.9,544.2L360.9,544.7L361.7,544.7L361.7,544.1L362.5,544.1L362.5,544.5L363.3,544.5L363.3,544.3L364.1,544.3L364.1,542.4L364.9,542.4L364.9,550.5L365.7,550.5L365.7,553.4L366.5,553.4L366.5,552.0L367.3,552.0L367.3,548.4L368.1,548.4L368.1,547.4L368.9,547.4L368.9,548.3L369.7,548.3L369.7,544.8L370.5,544.8L370.5,546.5L371.3,546.5L371.3,548.4L372.1,548.4L372.1,552.3L372.9,552.3L372.9,545.6L373.7,545.6L373.7,545.3L374.5,545.3L374.5,546.7L375.3,546.7L375.3,547.7L376.1,547.7L376.1,544.1L376.9,544.1L376.9,546.9L377.7,546.9L377.7,547.9L378.5,547.9L378.5,545.4L379.3,545.4L379.3,548.4L380.1,548.4L380.1,545.1L380.9,545.1L380.9,544.5L381.7,544.5L381.7,550.4L382.5,550.4L382.5,550.1L383.3,550.1L383.3,551.4L384.1,551.4L384.1,548.1L384.9,548.1L384.9,549.3L385.7,549.3L385.7,546.9L386.5,546.9L386.5,542.9L387.3,542.9L387.3,542.5L388.1,542.5L388.1,544.9L388.9,544.9L388.9,550.4L389.7,550.4L389.7,548.5L390.5,548.5L390.5,546.5L391.3,546.5L391.3,548.4L392.1,548.4L392.1,549.0L392.9,549.0L392.9,548.8L393.7,548.8L393.7,550.2L394.5,550.2L394.5,545.9L395.3,545.9L395.3,545.0L396.1,545.0L396.1,543.9L396.9,543.9L396.9,542.3L397.7,542.3L397.7,547.9L398.5,547.9L398.5,544.1L399.3,544.1L399.3,544.4L400.1,544.4L400.1,548.0L400.9,548.0L400.9,544.3L401.7,544.3L401.7,547.6L402.5,547.6L402.5,545.4L403.3,545.4L403.3,546.7L404.1,546.7L404.1,546.2L404.9,546.2L404.9,546.5L405.7,546.5L405.7,544.4L406.5,544.4L406.5,552.2L407.3,552.2L407.3,554.4L408.1,554.4L408.1,546.8L408.9,546.8L408.9,547.8L409.7,547.8L409.7,546.9L410.5,546.9L410.5,546.7L411.3,546.7L411.3,546.4L412.1,546.4L412.1,548.4L412.9,548.4L412.9,546.7L413.7,546.7L413.7,551.2L414.5,551.2L414.5,552.9L415.3,552.9L415.3,550.2L416.1,550.2L416.1,547.5L416.9,547.5L416.9,545.5L417.7,545.5L417.7,544.5L418.5,544.5L418.5,546.7L419.3,546.7L419.3,547.7L420.1,547.7L420.1,543.7L420.9,543.7L420.9,542.6L421.7,542.6L421.7,543.2L422.5,543.2L422.5,542.5L423.3,542.5L423.3,541.6L424.1,541.6L424.1,541.9L424.9,541.9L424.9,541.8L425.7,541.8L425.7,541.3L426.5,541.3L426.5,541.3L427.3,541.3L427.3,541.7L428.1,541.7L428.1,541.9L428.9,541.9L428.9,542.1L429.7,542.1L429.7,541.4L430.5,541.4L430.5,541.5L431.3,541.5L431.3,541.3L432.1,541.3L432.1,541.8L432.9,541.8L432.9,541.4L433.7,541.4L433.7,541.4L434.5,541.4L434.5,541.6L435.3,541.6L435.3,541.3L436.1,541.3L436.1,541.7L436.9,541.7L436.9,541.4L437.7,541.4L437.7,541.4L438.5,541.4L438.5,541.5L439.3,541.5L439.3,541.8L440.1,541.8L440.1,541.6L440.9,541.6L440.9,541.5L441.7,541.5L441.7,541.9L442.5,541.9L442.5,542.0L443.3,542.0L443.3,542.0L444.1,542.0L444.1,541.8L444.9,541.8L444.9,541.5L445.7,541.5L445.7,541.6L446.5,541.6L446.5,541.6L447.3,541.6L447.3,541.3L448.1,541.3L448.1,541.3L448.9,541.3L448.9,541.6L449.7,541.6L449.7,541.7L450.5,541.7L450.5,541.5L451.3,541.5L451.3,541.9L452.1,541.9L452.1,541.8L452.9,541.8L452.9,541.6L453.7,541.6L453.7,541.6L454.5,541.6L454.5,541.4L455.3,541.4L455.3,541.5L456.1,541.5L456.1,541.4L456.9,541.4L456.9,541.6L457.7,541.6L457.7,541.0L458.5,541.0L458.5,541.1L459.3,541.1L459.3,541.0L460.1,541.0L460.1,541.0L460.9,541.0L460.9,541.3L461.7,541.3L461.7,541.4L462.5,541.4L462.5,541.6L463.3,541.6L463.3,541.8L464.1,541.8L464.1,541.5L464.9,541.5L464.9,541.5L465.7,541.5L465.7,541.5L466.5,541.5L466.5,541.5L467.3,541.5L467.3,541.3L468.1,541.3L468.1,541.6L468.9,541.6L468.9,541.7L469.7,541.7L469.7,541.4L470.5,541.4L470.5,541.4L471.3,541.4L471.3,541.4L472.1,541.4L472.1,541.3L472.9,541.3L472.9,541.3L473.7,541.3L473.7,541.4L474.5,541.4L474.5,541.3L475.3,541.3L475.3,541.5L476.1,541.5L476.1,541.4L476.9,541.4L476.9,541.2L477.7,541.2L477.7,541.4L478.5,541.4L478.5,541.5L479.3,541.5L479.3,541.2L480.1,541.2L480.1,541.5L480.9,541.5L480.9,541.3L481.7,541.3L481.7,541.3L482.5,541.3L482.5,541.4L483.3,541.4L483.3,541.5L484.1,541.5L484.1,541.4L484.9,541.4L484.9,541.3L485.7,541.3L485.7,541.3L486.5,541.3L486.5,541.3L487.3,541.3L487.3,541.3L488.1,541.3L488.1,541.3L488.9,541.3L488.9,541.4L489.7,541.4L489.7,541.5L490.5,541.5L490.5,541.4L491.3,541.4L491.3,541.5L492.1,541.5L492.1,541.4L492.9,541.4L492.9,541.3L493.7,541.3L493.7,541.3L494.5,541.3L494.5,541.5L495.3,541.5L495.3,541.6L496.1,541.6L496.1,541.4L496.9,541.4L496.9,541.4L497.7,541.4L497.7,541.3L498.5,541.3L498.5,541.3L499.3,541.3L499.3,541.3L500.1,541.3L500.6,541.0Z" fill="#f03a6c"/>
<path d="M369.4,557.6L369.4,573.1L370.2,573.1L370.2,573.1L371.0,573.1L371.0,573.1L371.8,573.1L371.8,571.4L372.6,571.4L372.6,567.7L373.4,567.7L373.4,571.9L374.2,571.9L374.2,568.1L375.0,568.1L375.0,569.1L375.8,569.1L375.8,568.3L376.6,568.3L376.6,572.2L377.4,572.2L377.4,571.3L378.2,571.3L378.2,570.0L379.0,570.0L379.0,570.6L379.8,570.6L379.8,573.1L380.6,573.1L380.6,571.1L381.4,571.1L381.4,566.8L382.2,566.8L382.2,569.4L383.0,569.4L383.0,573.1L383.8,573.1L383.8,573.1L384.6,573.1L384.6,573.1L385.4,573.1L385.4,573.1L386.2,573.1L386.2,568.3L387.0,568.3L387.0,567.3L387.8,567.3L387.8,571.3L388.6,571.3L388.6,570.1L389.4,570.1L389.4,572.6L390.2,572.6L390.8,557.6Z" fill="#f03a6c"/>
<rect x="413.35" y="557.60" width="0.90" height="8.00" fill="#f03a6c" stroke="none" stroke-width="0.8" />
<line x1="315.30" y1="557.60" x2="499.80" y2="557.60" stroke="#dcdcdc" stroke-width="0.6" />
<text x="316.5" y="410.3" font-size="3.6" text-anchor="start" fill="#444" font-weight="normal" >[0 - 80]</text>
<text x="316.5" y="428.7" font-size="3.6" text-anchor="start" fill="#444" font-weight="normal" >[0 - 90]</text>
<text x="316.5" y="447.3" font-size="3.6" text-anchor="start" fill="#444" font-weight="normal" >[0 - 382]</text>
<text x="316.5" y="465.9" font-size="3.6" text-anchor="start" fill="#444" font-weight="normal" >[0 - 362]</text>
<text x="316.5" y="484.4" font-size="3.6" text-anchor="start" fill="#444" font-weight="normal" >[0 - 593]</text>
<text x="316.5" y="503.0" font-size="3.6" text-anchor="start" fill="#444" font-weight="normal" >[0 - 593]</text>
<text x="316.5" y="521.3" font-size="3.6" text-anchor="start" fill="#444" font-weight="normal" >[-18.407 - 38]</text>
<text x="316.5" y="539.3" font-size="3.6" text-anchor="start" fill="#444" font-weight="normal" >[-156.583 - 23]</text>
<text x="316.5" y="555.3" font-size="3.6" text-anchor="start" fill="#444" font-weight="normal" >[-450.537 - 3.80]</text>
<line x1="113.30" y1="585.40" x2="138.40" y2="585.40" stroke="#444" stroke-width="0.8" />
<rect x="116.15" y="583.90" width="0.90" height="3.00" fill="#333" stroke="none" stroke-width="0.8" />
<rect x="129.60" y="584.60" width="0.60" height="1.60" fill="#333" stroke="none" stroke-width="0.8" />
<line x1="173.60" y1="585.40" x2="264.50" y2="585.40" stroke="#444" stroke-width="0.8" />
<line x1="113.60" y1="591.00" x2="116.60" y2="591.00" stroke="#bbb" stroke-width="0.8" />
<rect x="116.30" y="589.80" width="0.60" height="2.40" fill="#999" stroke="none" stroke-width="0.8" />
<line x1="135.50" y1="591.00" x2="264.50" y2="591.00" stroke="#c4c4c4" stroke-width="1.0" />
<rect x="135.10" y="589.50" width="1.20" height="3.00" fill="#333" stroke="none" stroke-width="0.8" />
<rect x="142.20" y="590.30" width="0.60" height="1.40" fill="#666" stroke="none" stroke-width="0.8" />
<rect x="155.20" y="590.30" width="0.60" height="1.40" fill="#666" stroke="none" stroke-width="0.8" />
<rect x="168.70" y="590.30" width="0.60" height="1.40" fill="#666" stroke="none" stroke-width="0.8" />
<line x1="113.60" y1="596.40" x2="116.60" y2="596.40" stroke="#444" stroke-width="0.8" />
<rect x="116.30" y="595.20" width="0.60" height="2.40" fill="#333" stroke="none" stroke-width="0.8" />
<line x1="138.10" y1="596.40" x2="264.50" y2="596.40" stroke="#444" stroke-width="0.8" />
<rect x="137.55" y="594.80" width="1.50" height="3.20" fill="#333" stroke="none" stroke-width="0.8" />
<rect x="146.50" y="595.60" width="0.60" height="1.60" fill="#333" stroke="none" stroke-width="0.8" />
<rect x="159.80" y="595.60" width="0.60" height="1.60" fill="#333" stroke="none" stroke-width="0.8" />
<rect x="173.60" y="595.60" width="0.60" height="1.60" fill="#333" stroke="none" stroke-width="0.8" />
<line x1="177.40" y1="601.80" x2="264.50" y2="601.80" stroke="#444" stroke-width="0.8" />
<rect x="176.80" y="600.10" width="1.60" height="3.40" fill="#333" stroke="none" stroke-width="0.8" />
<rect x="180.15" y="584.00" width="0.70" height="2.80" fill="#333" stroke="none" stroke-width="0.8" />
<rect x="187.15" y="584.00" width="0.90" height="2.80" fill="#333" stroke="none" stroke-width="0.8" />
<rect x="192.90" y="584.00" width="0.60" height="2.80" fill="#333" stroke="none" stroke-width="0.8" />
<rect x="194.95" y="584.00" width="0.90" height="2.80" fill="#333" stroke="none" stroke-width="0.8" />
<rect x="199.75" y="584.00" width="0.90" height="2.80" fill="#333" stroke="none" stroke-width="0.8" />
<rect x="203.05" y="584.00" width="0.90" height="2.80" fill="#333" stroke="none" stroke-width="0.8" />
<rect x="205.95" y="584.00" width="0.90" height="2.80" fill="#333" stroke="none" stroke-width="0.8" />
<rect x="208.25" y="584.00" width="1.30" height="2.80" fill="#333" stroke="none" stroke-width="0.8" />
<rect x="211.75" y="584.00" width="0.90" height="2.80" fill="#333" stroke="none" stroke-width="0.8" />
<rect x="215.05" y="584.00" width="0.90" height="2.80" fill="#333" stroke="none" stroke-width="0.8" />
<rect x="217.95" y="584.00" width="0.90" height="2.80" fill="#333" stroke="none" stroke-width="0.8" />
<rect x="221.50" y="584.00" width="2.00" height="2.80" fill="#333" stroke="none" stroke-width="0.8" />
<rect x="229.20" y="584.00" width="0.60" height="2.80" fill="#333" stroke="none" stroke-width="0.8" />
<rect x="231.50" y="584.00" width="1.80" height="2.80" fill="#333" stroke="none" stroke-width="0.8" />
<rect x="236.20" y="584.00" width="1.20" height="2.80" fill="#333" stroke="none" stroke-width="0.8" />
<rect x="239.20" y="584.00" width="1.00" height="2.80" fill="#333" stroke="none" stroke-width="0.8" />
<rect x="243.25" y="584.00" width="0.90" height="2.80" fill="#333" stroke="none" stroke-width="0.8" />
<rect x="245.05" y="584.00" width="0.90" height="2.80" fill="#333" stroke="none" stroke-width="0.8" />
<rect x="246.95" y="584.00" width="0.90" height="2.80" fill="#333" stroke="none" stroke-width="0.8" />
<rect x="252.05" y="584.00" width="0.90" height="2.80" fill="#333" stroke="none" stroke-width="0.8" />
<rect x="256.75" y="584.00" width="0.90" height="2.80" fill="#333" stroke="none" stroke-width="0.8" />
<rect x="258.55" y="584.00" width="0.90" height="2.80" fill="#333" stroke="none" stroke-width="0.8" />
<rect x="262.25" y="584.00" width="0.90" height="2.80" fill="#333" stroke="none" stroke-width="0.8" />
<rect x="263.40" y="583.70" width="2.40" height="3.40" fill="#333" stroke="none" stroke-width="0.8" />
<rect x="180.15" y="589.60" width="0.70" height="2.80" fill="#777" stroke="none" stroke-width="0.8" />
<rect x="187.15" y="589.60" width="0.90" height="2.80" fill="#333" stroke="none" stroke-width="0.8" />
<rect x="192.90" y="589.60" width="0.60" height="2.80" fill="#333" stroke="none" stroke-width="0.8" />
<rect x="194.95" y="589.60" width="0.90" height="2.80" fill="#333" stroke="none" stroke-width="0.8" />
<rect x="199.75" y="589.60" width="0.90" height="2.80" fill="#333" stroke="none" stroke-width="0.8" />
<rect x="203.05" y="589.60" width="0.90" height="2.80" fill="#333" stroke="none" stroke-width="0.8" />
<rect x="205.95" y="589.60" width="0.90" height="2.80" fill="#333" stroke="none" stroke-width="0.8" />
<rect x="208.25" y="589.60" width="1.30" height="2.80" fill="#333" stroke="none" stroke-width="0.8" />
<rect x="211.75" y="589.60" width="0.90" height="2.80" fill="#333" stroke="none" stroke-width="0.8" />
<rect x="215.05" y="589.60" width="0.90" height="2.80" fill="#333" stroke="none" stroke-width="0.8" />
<rect x="217.95" y="589.60" width="0.90" height="2.80" fill="#333" stroke="none" stroke-width="0.8" />
<rect x="221.50" y="589.60" width="2.00" height="2.80" fill="#333" stroke="none" stroke-width="0.8" />
<rect x="229.20" y="589.60" width="0.60" height="2.80" fill="#333" stroke="none" stroke-width="0.8" />
<rect x="231.50" y="589.60" width="1.80" height="2.80" fill="#333" stroke="none" stroke-width="0.8" />
<rect x="236.20" y="589.60" width="1.20" height="2.80" fill="#333" stroke="none" stroke-width="0.8" />
<rect x="239.20" y="589.60" width="1.00" height="2.80" fill="#777" stroke="none" stroke-width="0.8" />
<rect x="243.25" y="589.60" width="0.90" height="2.80" fill="#333" stroke="none" stroke-width="0.8" />
<rect x="245.05" y="589.60" width="0.90" height="2.80" fill="#333" stroke="none" stroke-width="0.8" />
<rect x="246.95" y="589.60" width="0.90" height="2.80" fill="#333" stroke="none" stroke-width="0.8" />
<rect x="252.05" y="589.60" width="0.90" height="2.80" fill="#333" stroke="none" stroke-width="0.8" />
<rect x="256.75" y="589.60" width="0.90" height="2.80" fill="#333" stroke="none" stroke-width="0.8" />
<rect x="258.55" y="589.60" width="0.90" height="2.80" fill="#333" stroke="none" stroke-width="0.8" />
<rect x="262.25" y="589.60" width="0.90" height="2.80" fill="#333" stroke="none" stroke-width="0.8" />
<rect x="186.60" y="589.40" width="2.00" height="3.20" fill="#333" stroke="none" stroke-width="0.8" />
<rect x="263.40" y="589.30" width="2.40" height="3.40" fill="#333" stroke="none" stroke-width="0.8" />
<rect x="180.15" y="595.00" width="0.70" height="2.80" fill="#333" stroke="none" stroke-width="0.8" />
<rect x="187.15" y="595.00" width="0.90" height="2.80" fill="#333" stroke="none" stroke-width="0.8" />
<rect x="192.90" y="595.00" width="0.60" height="2.80" fill="#333" stroke="none" stroke-width="0.8" />
<rect x="194.95" y="595.00" width="0.90" height="2.80" fill="#333" stroke="none" stroke-width="0.8" />
<rect x="199.75" y="595.00" width="0.90" height="2.80" fill="#333" stroke="none" stroke-width="0.8" />
<rect x="203.05" y="595.00" width="0.90" height="2.80" fill="#333" stroke="none" stroke-width="0.8" />
<rect x="205.95" y="595.00" width="0.90" height="2.80" fill="#333" stroke="none" stroke-width="0.8" />
<rect x="208.25" y="595.00" width="1.30" height="2.80" fill="#333" stroke="none" stroke-width="0.8" />
<rect x="211.75" y="595.00" width="0.90" height="2.80" fill="#333" stroke="none" stroke-width="0.8" />
<rect x="215.05" y="595.00" width="0.90" height="2.80" fill="#333" stroke="none" stroke-width="0.8" />
<rect x="217.95" y="595.00" width="0.90" height="2.80" fill="#333" stroke="none" stroke-width="0.8" />
<rect x="221.50" y="595.00" width="2.00" height="2.80" fill="#333" stroke="none" stroke-width="0.8" />
<rect x="229.20" y="595.00" width="0.60" height="2.80" fill="#333" stroke="none" stroke-width="0.8" />
<rect x="231.50" y="595.00" width="1.80" height="2.80" fill="#333" stroke="none" stroke-width="0.8" />
<rect x="236.20" y="595.00" width="1.20" height="2.80" fill="#333" stroke="none" stroke-width="0.8" />
<rect x="239.20" y="595.00" width="1.00" height="2.80" fill="#333" stroke="none" stroke-width="0.8" />
<rect x="243.25" y="595.00" width="0.90" height="2.80" fill="#333" stroke="none" stroke-width="0.8" />
<rect x="245.05" y="595.00" width="0.90" height="2.80" fill="#333" stroke="none" stroke-width="0.8" />
<rect x="246.95" y="595.00" width="0.90" height="2.80" fill="#333" stroke="none" stroke-width="0.8" />
<rect x="252.05" y="595.00" width="0.90" height="2.80" fill="#333" stroke="none" stroke-width="0.8" />
<rect x="256.75" y="595.00" width="0.90" height="2.80" fill="#333" stroke="none" stroke-width="0.8" />
<rect x="258.55" y="595.00" width="0.90" height="2.80" fill="#333" stroke="none" stroke-width="0.8" />
<rect x="262.25" y="595.00" width="0.90" height="2.80" fill="#333" stroke="none" stroke-width="0.8" />
<rect x="263.40" y="594.90" width="2.40" height="3.00" fill="#333" stroke="none" stroke-width="0.8" />
<rect x="180.15" y="600.40" width="0.70" height="2.80" fill="#333" stroke="none" stroke-width="0.8" />
<rect x="187.15" y="600.40" width="0.90" height="2.80" fill="#333" stroke="none" stroke-width="0.8" />
<rect x="192.90" y="600.40" width="0.60" height="2.80" fill="#333" stroke="none" stroke-width="0.8" />
<rect x="194.95" y="600.40" width="0.90" height="2.80" fill="#333" stroke="none" stroke-width="0.8" />
<rect x="199.75" y="600.40" width="0.90" height="2.80" fill="#333" stroke="none" stroke-width="0.8" />
<rect x="203.05" y="600.40" width="0.90" height="2.80" fill="#333" stroke="none" stroke-width="0.8" />
<rect x="205.95" y="600.40" width="0.90" height="2.80" fill="#333" stroke="none" stroke-width="0.8" />
<rect x="208.25" y="600.40" width="1.30" height="2.80" fill="#333" stroke="none" stroke-width="0.8" />
<rect x="211.75" y="600.40" width="0.90" height="2.80" fill="#333" stroke="none" stroke-width="0.8" />
<rect x="215.05" y="600.40" width="0.90" height="2.80" fill="#333" stroke="none" stroke-width="0.8" />
<rect x="217.95" y="600.40" width="0.90" height="2.80" fill="#333" stroke="none" stroke-width="0.8" />
<rect x="221.50" y="600.40" width="2.00" height="2.80" fill="#333" stroke="none" stroke-width="0.8" />
<rect x="229.20" y="600.40" width="0.60" height="2.80" fill="#333" stroke="none" stroke-width="0.8" />
<rect x="231.50" y="600.40" width="1.80" height="2.80" fill="#333" stroke="none" stroke-width="0.8" />
<rect x="236.20" y="600.40" width="1.20" height="2.80" fill="#333" stroke="none" stroke-width="0.8" />
<rect x="239.20" y="600.40" width="1.00" height="2.80" fill="#333" stroke="none" stroke-width="0.8" />
<rect x="243.25" y="600.40" width="0.90" height="2.80" fill="#333" stroke="none" stroke-width="0.8" />
<rect x="245.05" y="600.40" width="0.90" height="2.80" fill="#333" stroke="none" stroke-width="0.8" />
<rect x="246.95" y="600.40" width="0.90" height="2.80" fill="#333" stroke="none" stroke-width="0.8" />
<rect x="252.05" y="600.40" width="0.90" height="2.80" fill="#333" stroke="none" stroke-width="0.8" />
<rect x="256.75" y="600.40" width="0.90" height="2.80" fill="#333" stroke="none" stroke-width="0.8" />
<rect x="258.55" y="600.40" width="0.90" height="2.80" fill="#333" stroke="none" stroke-width="0.8" />
<rect x="262.25" y="600.40" width="0.90" height="2.80" fill="#333" stroke="none" stroke-width="0.8" />
<rect x="263.40" y="600.30" width="2.40" height="3.00" fill="#333" stroke="none" stroke-width="0.8" />
<text x="199.9" y="612.3" font-size="5.6" text-anchor="start" fill="#333" font-weight="normal" >Kdm6b</text>
<rect x="369.40" y="583.70" width="13.90" height="3.20" fill="#2e2e2e" stroke="none" stroke-width="0.8" />
<rect x="385.85" y="583.80" width="0.90" height="3.00" fill="#333" stroke="none" stroke-width="0.8" />
<rect x="388.05" y="583.80" width="0.90" height="3.00" fill="#333" stroke="none" stroke-width="0.8" />
<line x1="383.30" y1="585.30" x2="418.60" y2="585.30" stroke="#333" stroke-width="0.8" />
<rect x="396.20" y="584.50" width="0.60" height="1.60" fill="#333" stroke="none" stroke-width="0.8" />
<rect x="409.20" y="584.50" width="0.60" height="1.60" fill="#333" stroke="none" stroke-width="0.8" />
<rect x="418.10" y="584.00" width="0.60" height="2.60" fill="#333" stroke="none" stroke-width="0.8" />
<rect x="369.40" y="589.30" width="13.90" height="3.20" fill="#2e2e2e" stroke="none" stroke-width="0.8" />
<rect x="385.85" y="589.40" width="0.90" height="3.00" fill="#333" stroke="none" stroke-width="0.8" />
<rect x="388.05" y="589.40" width="0.90" height="3.00" fill="#333" stroke="none" stroke-width="0.8" />
<line x1="383.30" y1="590.90" x2="418.60" y2="590.90" stroke="#aaa" stroke-width="0.8" />
<rect x="396.20" y="590.10" width="0.60" height="1.60" fill="#333" stroke="none" stroke-width="0.8" />
<rect x="409.20" y="590.10" width="0.60" height="1.60" fill="#333" stroke="none" stroke-width="0.8" />
<rect x="418.10" y="589.60" width="0.60" height="2.60" fill="#333" stroke="none" stroke-width="0.8" />
<rect x="369.40" y="594.80" width="13.90" height="3.20" fill="#2e2e2e" stroke="none" stroke-width="0.8" />
<rect x="385.85" y="594.90" width="0.90" height="3.00" fill="#333" stroke="none" stroke-width="0.8" />
<rect x="388.05" y="594.90" width="0.90" height="3.00" fill="#333" stroke="none" stroke-width="0.8" />
<line x1="383.30" y1="596.40" x2="418.60" y2="596.40" stroke="#333" stroke-width="0.8" />
<rect x="396.20" y="595.60" width="0.60" height="1.60" fill="#333" stroke="none" stroke-width="0.8" />
<rect x="409.20" y="595.60" width="0.60" height="1.60" fill="#333" stroke="none" stroke-width="0.8" />
<rect x="418.10" y="595.10" width="0.60" height="2.60" fill="#333" stroke="none" stroke-width="0.8" />
<rect x="369.40" y="600.10" width="13.90" height="3.20" fill="#2e2e2e" stroke="none" stroke-width="0.8" />
<rect x="385.85" y="600.20" width="0.90" height="3.00" fill="#333" stroke="none" stroke-width="0.8" />
<rect x="388.05" y="600.20" width="0.90" height="3.00" fill="#333" stroke="none" stroke-width="0.8" />
<line x1="383.30" y1="601.70" x2="418.60" y2="601.70" stroke="#333" stroke-width="0.8" />
<rect x="396.20" y="600.90" width="0.60" height="1.60" fill="#333" stroke="none" stroke-width="0.8" />
<rect x="409.20" y="600.90" width="0.60" height="1.60" fill="#333" stroke="none" stroke-width="0.8" />
<rect x="416.20" y="600.20" width="1.60" height="3.00" fill="#333" stroke="none" stroke-width="0.8" />
<rect x="369.40" y="605.50" width="13.90" height="3.20" fill="#2e2e2e" stroke="none" stroke-width="0.8" />
<rect x="385.85" y="605.60" width="0.90" height="3.00" fill="#333" stroke="none" stroke-width="0.8" />
<rect x="388.05" y="605.60" width="0.90" height="3.00" fill="#333" stroke="none" stroke-width="0.8" />
<line x1="383.30" y1="607.10" x2="418.60" y2="607.10" stroke="#aaa" stroke-width="0.8" />
<rect x="396.20" y="606.30" width="0.60" height="1.60" fill="#333" stroke="none" stroke-width="0.8" />
<rect x="409.20" y="606.30" width="0.60" height="1.60" fill="#333" stroke="none" stroke-width="0.8" />
<rect x="416.20" y="605.60" width="1.60" height="3.00" fill="#333" stroke="none" stroke-width="0.8" />
<rect x="369.40" y="610.90" width="13.90" height="3.20" fill="#2e2e2e" stroke="none" stroke-width="0.8" />
<rect x="385.85" y="611.00" width="0.90" height="3.00" fill="#333" stroke="none" stroke-width="0.8" />
<rect x="388.05" y="611.00" width="0.90" height="3.00" fill="#333" stroke="none" stroke-width="0.8" />
<line x1="383.30" y1="612.50" x2="411.50" y2="612.50" stroke="#333" stroke-width="0.8" />
<rect x="396.20" y="611.70" width="0.60" height="1.60" fill="#333" stroke="none" stroke-width="0.8" />
<rect x="409.20" y="611.70" width="0.60" height="1.60" fill="#333" stroke="none" stroke-width="0.8" />
<rect x="410.70" y="611.00" width="1.60" height="3.00" fill="#333" stroke="none" stroke-width="0.8" />
<rect x="369.40" y="616.30" width="13.90" height="3.20" fill="#2e2e2e" stroke="none" stroke-width="0.8" />
<rect x="385.85" y="616.40" width="0.90" height="3.00" fill="#333" stroke="none" stroke-width="0.8" />
<rect x="388.05" y="616.40" width="0.90" height="3.00" fill="#333" stroke="none" stroke-width="0.8" />
<line x1="383.30" y1="617.90" x2="418.60" y2="617.90" stroke="#aaa" stroke-width="0.8" />
<rect x="396.20" y="617.10" width="0.60" height="1.60" fill="#333" stroke="none" stroke-width="0.8" />
<rect x="409.20" y="617.10" width="0.60" height="1.60" fill="#333" stroke="none" stroke-width="0.8" />
<rect x="418.10" y="616.60" width="0.60" height="2.60" fill="#333" stroke="none" stroke-width="0.8" />
<text x="388.1" y="627.5" font-size="5.6" text-anchor="start" fill="#333" font-weight="normal" >Rlim</text>
<line x1="292.30" y1="585.50" x2="309.00" y2="585.50" stroke="#555" stroke-width="0.8" />
<rect x="292.15" y="584.20" width="0.70" height="2.60" fill="#333" stroke="none" stroke-width="0.8" />
<rect x="297.90" y="584.60" width="1.00" height="1.80" fill="#333" stroke="none" stroke-width="0.8" />
<line x1="292.30" y1="590.80" x2="309.00" y2="590.80" stroke="#bbb" stroke-width="0.9" />
<rect x="292.15" y="589.50" width="0.70" height="2.60" fill="#333" stroke="none" stroke-width="0.8" />
<rect x="297.90" y="589.90" width="1.00" height="1.80" fill="#333" stroke="none" stroke-width="0.8" />
<text x="526.2" y="419.6" font-size="8.4" text-anchor="start" fill="#222" font-weight="bold" >e</text>
<line x1="565.60" y1="438.10" x2="565.60" y2="580.60" stroke="#333" stroke-width="1.0" />
<line x1="558.20" y1="438.58" x2="565.60" y2="438.58" stroke="#333" stroke-width="1.0" />
<text x="555.3" y="440.9" font-size="6.4" text-anchor="end" fill="#222" font-weight="normal" >150</text>
<line x1="558.20" y1="485.75" x2="565.60" y2="485.75" stroke="#333" stroke-width="1.0" />
<text x="555.3" y="488.1" font-size="6.4" text-anchor="end" fill="#222" font-weight="normal" >100</text>
<line x1="558.20" y1="532.93" x2="565.60" y2="532.93" stroke="#333" stroke-width="1.0" />
<text x="555.3" y="535.2" font-size="6.4" text-anchor="end" fill="#222" font-weight="normal" >50</text>
<line x1="558.20" y1="580.10" x2="565.60" y2="580.10" stroke="#333" stroke-width="1.0" />
<text x="555.3" y="582.4" font-size="6.4" text-anchor="end" fill="#222" font-weight="normal" >0</text>
<line x1="565.60" y1="580.10" x2="660.50" y2="580.10" stroke="#8a8a8a" stroke-width="1.1" />
<line x1="584.40" y1="580.10" x2="584.40" y2="587.30" stroke="#333" stroke-width="0.9" />
<line x1="613.10" y1="580.10" x2="613.10" y2="587.30" stroke="#333" stroke-width="0.9" />
<line x1="641.50" y1="580.10" x2="641.50" y2="587.30" stroke="#333" stroke-width="0.9" />
<text x="0" y="0" font-size="7.7" text-anchor="middle" fill="#222" transform="translate(534.9,535.2) rotate(-90)" dominant-baseline="central">Psoralen signal (A.U.)</text>
<text x="0" y="0" font-size="6.4" text-anchor="end" fill="#222" transform="translate(586.0,593.6) rotate(-45)">WT <tspan font-size="5.4">(n=1042)</tspan></text>
<text x="0" y="0" font-size="6.4" text-anchor="end" fill="#222" transform="translate(614.7,593.6) rotate(-45)">Mut.1 <tspan font-size="5.4">(n=1370)</tspan></text>
<text x="0" y="0" font-size="6.4" text-anchor="end" fill="#222" transform="translate(643.1,593.6) rotate(-45)">Mut.2 <tspan font-size="5.4">(n=1171)</tspan></text>
<polyline points="584.2,437.5 584.2,426.4 641.4,426.4 641.4,453.8" fill="none" stroke="#555" stroke-width="0.9"/>
<polyline points="584.2,460.5 584.2,453.3 613.2,453.3 613.2,469.3" fill="none" stroke="#555" stroke-width="0.9"/>
<text x="595.9" y="419.5" font-size="5.9" fill="#222" textLength="28" lengthAdjust="spacingAndGlyphs">p = 5.14 e</text>
<text x="624.0" y="416.6" font-size="3.8" fill="#222" textLength="6" lengthAdjust="spacingAndGlyphs">-68</text>
<text x="580.2" y="446.0" font-size="5.9" fill="#222" textLength="28" lengthAdjust="spacingAndGlyphs">p = 2.59 e</text>
<text x="608.4" y="443.0" font-size="3.8" fill="#222" textLength="8.3" lengthAdjust="spacingAndGlyphs">-190</text>
<circle cx="582.3" cy="469.4" r="1.35" fill="#7dbbd7"/>
<circle cx="586.5" cy="469.2" r="1.35" fill="#7dbbd7"/>
<circle cx="584.5" cy="475.7" r="1.35" fill="#7dbbd7"/>
<circle cx="584.5" cy="482.3" r="1.35" fill="#7dbbd7"/>
<circle cx="578.3" cy="485.3" r="1.35" fill="#7dbbd7"/>
<circle cx="582.5" cy="486.0" r="1.35" fill="#7dbbd7"/>
<circle cx="586.5" cy="485.6" r="1.35" fill="#7dbbd7"/>
<circle cx="590.3" cy="483.6" r="1.35" fill="#7dbbd7"/>
<circle cx="580.3" cy="489.4" r="1.35" fill="#7dbbd7"/>
<circle cx="584.5" cy="490.6" r="1.35" fill="#7dbbd7"/>
<circle cx="588.4" cy="489.5" r="1.35" fill="#7dbbd7"/>
<circle cx="576.1" cy="491.3" r="1.35" fill="#7dbbd7"/>
<circle cx="593.2" cy="491.7" r="1.35" fill="#7dbbd7"/>
<circle cx="576.1" cy="492.6" r="1.35" fill="#7dbbd7"/>
<circle cx="578.7" cy="492.8" r="1.35" fill="#7dbbd7"/>
<circle cx="581.0" cy="492.7" r="1.35" fill="#7dbbd7"/>
<circle cx="582.7" cy="492.4" r="1.35" fill="#7dbbd7"/>
<circle cx="586.0" cy="492.5" r="1.35" fill="#7dbbd7"/>
<circle cx="588.4" cy="492.1" r="1.35" fill="#7dbbd7"/>
<circle cx="590.4" cy="492.2" r="1.35" fill="#7dbbd7"/>
<circle cx="592.8" cy="492.5" r="1.35" fill="#7dbbd7"/>
<circle cx="575.5" cy="494.2" r="1.35" fill="#7dbbd7"/>
<circle cx="578.2" cy="494.7" r="1.35" fill="#7dbbd7"/>
<circle cx="581.1" cy="494.1" r="1.35" fill="#7dbbd7"/>
<circle cx="583.5" cy="494.1" r="1.35" fill="#7dbbd7"/>
<circle cx="585.7" cy="494.1" r="1.35" fill="#7dbbd7"/>
<circle cx="587.5" cy="494.7" r="1.35" fill="#7dbbd7"/>
<circle cx="590.1" cy="494.2" r="1.35" fill="#7dbbd7"/>
<circle cx="593.3" cy="494.7" r="1.35" fill="#7dbbd7"/>
<circle cx="575.8" cy="496.4" r="1.35" fill="#7dbbd7"/>
<circle cx="578.4" cy="496.1" r="1.35" fill="#7dbbd7"/>
<circle cx="580.5" cy="496.4" r="1.35" fill="#7dbbd7"/>
<circle cx="583.4" cy="496.4" r="1.35" fill="#7dbbd7"/>
<circle cx="586.0" cy="495.8" r="1.35" fill="#7dbbd7"/>
<circle cx="587.9" cy="495.7" r="1.35" fill="#7dbbd7"/>
<circle cx="590.0" cy="495.7" r="1.35" fill="#7dbbd7"/>
<circle cx="592.6" cy="496.1" r="1.35" fill="#7dbbd7"/>
<circle cx="612.9" cy="487.1" r="1.35" fill="#e07565"/>
<circle cx="606.8" cy="491.7" r="1.35" fill="#e07565"/>
<circle cx="610.7" cy="493.5" r="1.35" fill="#e07565"/>
<circle cx="614.8" cy="493.0" r="1.35" fill="#e07565"/>
<circle cx="618.9" cy="491.3" r="1.35" fill="#e07565"/>
<circle cx="612.9" cy="497.4" r="1.35" fill="#e07565"/>
<circle cx="612.9" cy="502.2" r="1.35" fill="#e07565"/>
<circle cx="610.7" cy="504.9" r="1.35" fill="#e07565"/>
<circle cx="614.8" cy="504.0" r="1.35" fill="#e07565"/>
<circle cx="604.4" cy="506.0" r="1.35" fill="#e07565"/>
<circle cx="607.2" cy="506.2" r="1.35" fill="#e07565"/>
<circle cx="609.4" cy="506.4" r="1.35" fill="#e07565"/>
<circle cx="612.6" cy="505.7" r="1.35" fill="#e07565"/>
<circle cx="615.0" cy="505.7" r="1.35" fill="#e07565"/>
<circle cx="617.0" cy="506.3" r="1.35" fill="#e07565"/>
<circle cx="619.3" cy="505.9" r="1.35" fill="#e07565"/>
<circle cx="607.1" cy="509.0" r="1.35" fill="#e07565"/>
<circle cx="611.8" cy="508.6" r="1.35" fill="#e07565"/>
<circle cx="614.1" cy="508.8" r="1.35" fill="#e07565"/>
<circle cx="617.6" cy="508.1" r="1.35" fill="#e07565"/>
<circle cx="604.0" cy="511.1" r="1.35" fill="#e07565"/>
<circle cx="609.9" cy="511.0" r="1.35" fill="#e07565"/>
<circle cx="611.8" cy="510.7" r="1.35" fill="#e07565"/>
<circle cx="614.2" cy="511.2" r="1.35" fill="#e07565"/>
<circle cx="619.3" cy="511.5" r="1.35" fill="#e07565"/>
<circle cx="604.1" cy="512.9" r="1.35" fill="#e07565"/>
<circle cx="607.2" cy="513.2" r="1.35" fill="#e07565"/>
<circle cx="608.9" cy="513.6" r="1.35" fill="#e07565"/>
<circle cx="612.0" cy="513.5" r="1.35" fill="#e07565"/>
<circle cx="614.9" cy="513.6" r="1.35" fill="#e07565"/>
<circle cx="617.5" cy="512.8" r="1.35" fill="#e07565"/>
<circle cx="619.4" cy="513.5" r="1.35" fill="#e07565"/>
<line x1="584.40" y1="497.80" x2="584.40" y2="520.90" stroke="#1d5c7c" stroke-width="1.3" />
<line x1="584.40" y1="535.40" x2="584.40" y2="558.60" stroke="#1d5c7c" stroke-width="1.3" />
<line x1="579.20" y1="497.80" x2="589.60" y2="497.80" stroke="#1d5c7c" stroke-width="1.3" />
<line x1="579.20" y1="558.60" x2="589.60" y2="558.60" stroke="#1d5c7c" stroke-width="1.3" />
<rect x="575.50" y="520.90" width="18.20" height="14.50" fill="#8cc6dd" stroke="#1d5c7c" stroke-width="1.3" rx="0.8"/>
<line x1="575.50" y1="527.90" x2="593.70" y2="527.90" stroke="#1d5c7c" stroke-width="1.1" />
<line x1="613.10" y1="515.80" x2="613.10" y2="537.10" stroke="#9c1a55" stroke-width="1.3" />
<line x1="613.10" y1="549.80" x2="613.10" y2="570.40" stroke="#9c1a55" stroke-width="1.3" />
<line x1="607.90" y1="515.80" x2="618.30" y2="515.80" stroke="#9c1a55" stroke-width="1.3" />
<line x1="607.90" y1="570.40" x2="618.30" y2="570.40" stroke="#9c1a55" stroke-width="1.3" />
<rect x="604.40" y="537.10" width="17.50" height="12.70" fill="#e07a70" stroke="#9c1a55" stroke-width="1.3" rx="0.8"/>
<line x1="604.40" y1="543.20" x2="621.90" y2="543.20" stroke="#9c1a55" stroke-width="1.1" />
<line x1="641.50" y1="505.30" x2="641.50" y2="531.40" stroke="#94560c" stroke-width="1.3" />
<line x1="641.50" y1="547.20" x2="641.50" y2="570.60" stroke="#94560c" stroke-width="1.3" />
<line x1="636.30" y1="505.30" x2="646.70" y2="505.30" stroke="#94560c" stroke-width="1.3" />
<line x1="636.30" y1="570.60" x2="646.70" y2="570.60" stroke="#94560c" stroke-width="1.3" />
<rect x="632.70" y="531.40" width="17.70" height="15.80" fill="#fcd46c" stroke="#94560c" stroke-width="1.3" rx="0.8"/>
<line x1="632.70" y1="538.40" x2="650.40" y2="538.40" stroke="#94560c" stroke-width="1.1" />
<circle cx="584.4" cy="560.6" r="1.2" fill="#7dbbd7"/>
<circle cx="584.4" cy="562.2" r="1.2" fill="#7dbbd7"/>
<circle cx="584.4" cy="563.6" r="1.2" fill="#7dbbd7"/>
<circle cx="641.5" cy="495.8" r="1.3" fill="#fbd063"/>
<circle cx="641.5" cy="502.8" r="1.3" fill="#fbd063"/>
<circle cx="639.4" cy="577.8" r="1.3" fill="#fbd063"/>
<circle cx="643.6" cy="576.4" r="1.3" fill="#fbd063"/>
<line x1="564.00" y1="527.90" x2="660.50" y2="527.90" stroke="#111" stroke-width="1.6" stroke-dasharray="2.4,1.4"/>
</svg></body></html>
